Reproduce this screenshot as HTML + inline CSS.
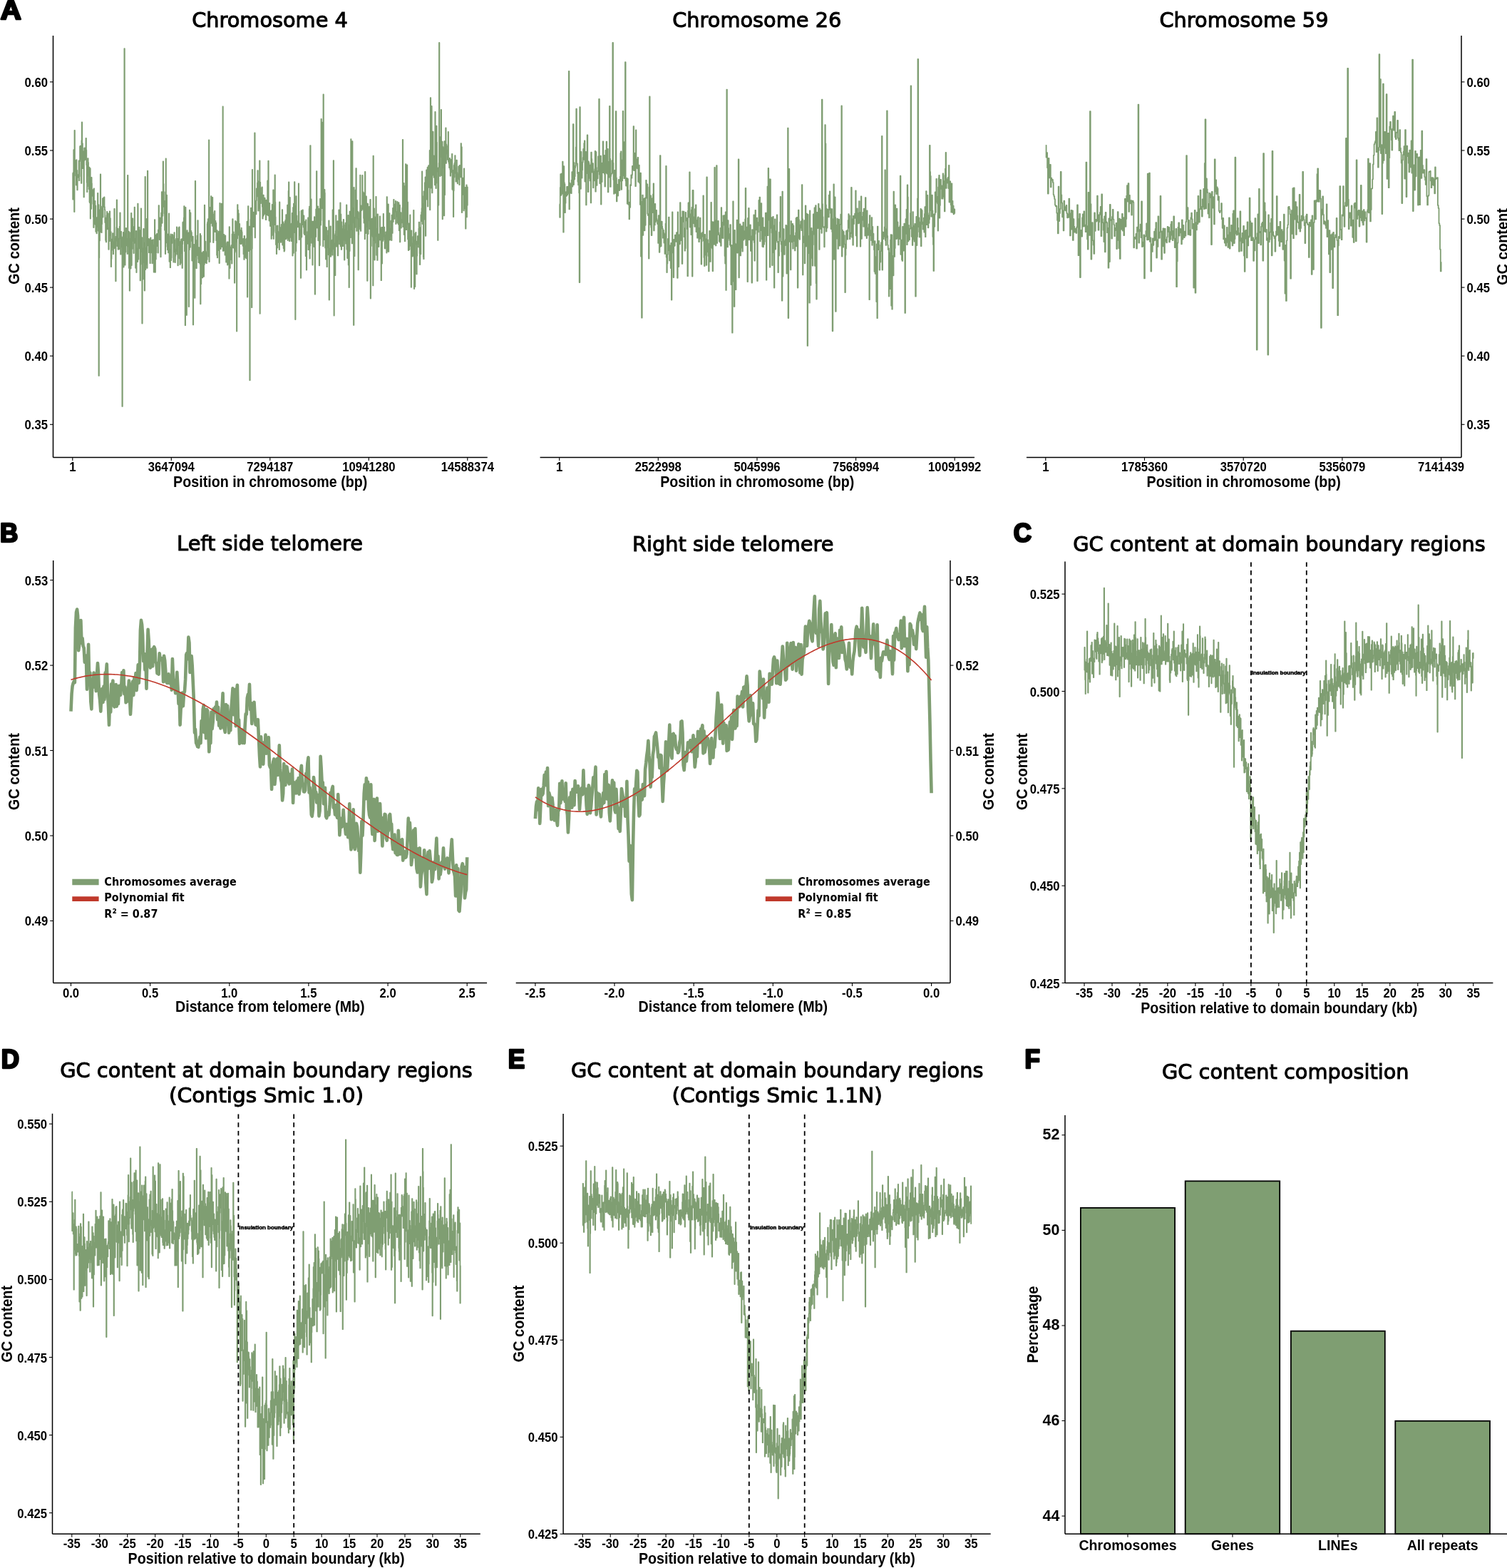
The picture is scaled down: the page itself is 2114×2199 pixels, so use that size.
<!DOCTYPE html>
<html><head><meta charset="utf-8"><style>
html,body{margin:0;padding:0;background:#fff;}
body{width:2114px;height:2199px;overflow:hidden;}
svg{display:block;}
.tk{font-family:"Liberation Sans",Arial,sans-serif;font-weight:bold;fill:#000;}
.lb{font-family:"Liberation Sans",Arial,sans-serif;font-weight:bold;fill:#000;}
.tt{font-family:"DejaVu Sans",Verdana,sans-serif;fill:#000;stroke:#000;stroke-width:1.0;}
.lg{font-family:"DejaVu Sans",Verdana,sans-serif;fill:#000;font-weight:bold;}
.pl{font-family:"Liberation Sans",Arial,sans-serif;font-weight:bold;fill:#000;stroke:#000;stroke-width:2.6;stroke-linejoin:round;}
.ib{font-family:"Liberation Sans",Arial,sans-serif;fill:#000;font-weight:bold;stroke:#000;stroke-width:0.5;}
</style></head><body>
<svg width="2114" height="2199" viewBox="0 0 2114 2199">
<rect width="2114" height="2199" fill="#fff"/>
<polyline points="101.8,242.5 102.2,242.5 102.2,279.7 102.6,279.7 102.6,268.9 102.9,268.9 102.9,247.1 103.3,247.1 103.3,210.1 103.7,210.1 103.7,244.3 104.1,244.3 104.1,297.1 104.5,297.1 104.5,182.8 104.9,182.8 104.9,233.6 105.2,233.6 105.2,224.9 105.6,224.9 105.6,240.4 106.0,240.4 106.0,232.2 106.4,232.2 106.4,246.6 106.8,246.6 106.8,259.6 107.2,259.6 107.2,224.1 107.5,224.1 107.5,240.4 107.9,240.4 107.9,238.8 108.3,238.8 108.3,266.4 108.7,266.4 108.7,249.3 109.1,249.3 109.1,245.1 109.4,245.1 109.4,247.9 109.8,247.9 109.8,246.2 110.2,246.2 110.2,247.1 110.6,247.1 110.6,225.3 111.0,225.3 111.0,253.2 111.4,253.2 111.4,247.5 111.7,247.5 111.7,226.3 112.1,226.3 112.1,205.6 112.5,205.6 112.5,204.6 112.9,204.6 112.9,222.8 113.3,222.8 113.3,221.1 113.7,221.1 113.7,211.3 114.0,211.3 114.0,256.9 114.4,256.9 114.4,197.1 114.8,197.1 114.8,171.5 115.2,171.5 115.2,207.0 115.6,207.0 115.6,201.1 115.9,201.1 115.9,236.0 116.3,236.0 116.3,213.7 116.7,213.7 116.7,215.5 117.1,215.5 117.1,212.4 117.5,212.4 117.5,276.4 117.9,276.4 117.9,226.0 118.2,226.0 118.2,207.7 118.6,207.7 118.6,207.3 119.0,207.3 119.0,224.0 119.4,224.0 119.4,223.3 119.8,223.3 119.8,220.1 120.2,220.1 120.2,210.4 120.5,210.4 120.5,194.0 120.9,194.0 120.9,210.4 121.3,210.4 121.3,231.3 121.7,231.3 121.7,256.1 122.1,256.1 122.1,269.2 122.4,269.2 122.4,261.6 122.8,261.6 122.8,246.5 123.2,246.5 123.2,222.2 123.6,222.2 123.6,227.8 124.0,227.8 124.0,241.4 124.4,241.4 124.4,244.3 124.7,244.3 124.7,265.2 125.1,265.2 125.1,234.7 125.5,234.7 125.5,283.2 125.9,283.2 125.9,284.3 126.3,284.3 126.3,236.2 126.7,236.2 126.7,306.5 127.0,306.5 127.0,258.9 127.4,258.9 127.4,274.5 127.8,274.5 127.8,292.8 128.2,292.8 128.2,248.9 128.6,248.9 128.6,257.2 128.9,257.2 128.9,267.8 129.3,267.8 129.3,274.2 129.7,274.2 129.7,266.1 130.1,266.1 130.1,275.6 130.5,275.6 130.5,286.1 130.9,286.1 130.9,304.6 131.2,304.6 131.2,319.1 131.6,319.1 131.6,264.5 132.0,264.5 132.0,286.6 132.4,286.6 132.4,313.6 132.8,313.6 132.8,283.1 133.2,283.1 133.2,282.0 133.5,282.0 133.5,314.8 133.9,314.8 133.9,288.4 134.3,288.4 134.3,324.8 134.7,324.8 134.7,305.1 135.1,305.1 135.1,318.1 135.4,318.1 135.4,327.3 135.8,327.3 135.8,311.3 136.2,311.3 136.2,304.9 136.6,304.9 136.6,317.9 137.0,317.9 137.0,271.0 137.4,271.0 137.4,297.7 137.7,297.7 137.7,323.7 138.1,323.7 138.1,287.2 138.5,287.2 138.5,526.9 138.9,526.9 138.9,361.5 139.3,361.5 139.3,294.3 139.7,294.3 139.7,337.4 140.0,337.4 140.0,309.4 140.4,309.4 140.4,325.1 140.8,325.1 140.8,244.4 141.2,244.4 141.2,296.4 141.6,296.4 141.6,291.9 141.9,291.9 141.9,313.5 142.3,313.5 142.3,326.2 142.7,326.2 142.7,314.2 143.1,314.2 143.1,289.5 143.5,289.5 143.5,299.0 143.9,299.0 143.9,278.3 144.2,278.3 144.2,304.6 144.6,304.6 144.6,288.4 145.0,288.4 145.0,277.3 145.4,277.3 145.4,290.2 145.8,290.2 145.8,279.0 146.2,279.0 146.2,276.4 146.5,276.4 146.5,290.2 146.9,290.2 146.9,294.2 147.3,294.2 147.3,312.1 147.7,312.1 147.7,305.3 148.1,305.3 148.1,337.0 148.4,337.0 148.4,337.7 148.8,337.7 148.8,339.4 149.2,339.4 149.2,315.9 149.6,315.9 149.6,302.2 150.0,302.2 150.0,296.8 150.4,296.8 150.4,304.5 150.7,304.5 150.7,321.4 151.1,321.4 151.1,311.2 151.5,311.2 151.5,299.4 151.9,299.4 151.9,319.8 152.3,319.8 152.3,349.8 152.7,349.8 152.7,334.1 153.0,334.1 153.0,324.6 153.4,324.6 153.4,338.2 153.8,338.2 153.8,296.3 154.2,296.3 154.2,326.9 154.6,326.9 154.6,306.1 154.9,306.1 154.9,330.1 155.3,330.1 155.3,325.1 155.7,325.1 155.7,374.0 156.1,374.0 156.1,363.0 156.5,363.0 156.5,342.5 156.9,342.5 156.9,345.8 157.2,345.8 157.2,335.5 157.6,335.5 157.6,346.6 158.0,346.6 158.0,327.1 158.4,327.1 158.4,351.0 158.8,351.0 158.8,356.3 159.1,356.3 159.1,339.3 159.5,339.3 159.5,342.4 159.9,342.4 159.9,348.4 160.3,348.4 160.3,292.9 160.7,292.9 160.7,335.0 161.1,335.0 161.1,347.0 161.4,347.0 161.4,342.7 161.8,342.7 161.8,339.3 162.2,339.3 162.2,394.3 162.6,394.3 162.6,331.6 163.0,331.6 163.0,337.6 163.4,337.6 163.4,318.7 163.7,318.7 163.7,280.3 164.1,280.3 164.1,327.2 164.5,327.2 164.5,345.2 164.9,345.2 164.9,337.5 165.3,337.5 165.3,320.6 165.6,320.6 165.6,349.8 166.0,349.8 166.0,346.5 166.4,346.5 166.4,349.0 166.8,349.0 166.8,349.4 167.2,349.4 167.2,334.4 167.6,334.4 167.6,317.7 167.9,317.7 167.9,319.5 168.3,319.5 168.3,298.5 168.7,298.5 168.7,326.6 169.1,326.6 169.1,356.7 169.5,356.7 169.5,334.2 169.9,334.2 169.9,324.8 170.2,324.8 170.2,346.4 170.6,346.4 170.6,332.8 171.0,332.8 171.0,344.6 171.4,344.6 171.4,569.9 171.8,569.9 171.8,345.5 172.1,345.5 172.1,336.6 172.5,336.6 172.5,331.5 172.9,331.5 172.9,325.9 173.3,325.9 173.3,374.5 173.7,374.5 173.7,359.4 174.1,359.4 174.1,333.5 174.4,333.5 174.4,68.2 174.8,68.2 174.8,351.1 175.2,351.1 175.2,371.7 175.6,371.7 175.6,343.9 176.0,343.9 176.0,353.6 176.4,353.6 176.4,327.3 176.7,327.3 176.7,319.8 177.1,319.8 177.1,344.3 177.5,344.3 177.5,334.7 177.9,334.7 177.9,338.2 178.3,338.2 178.3,341.1 178.6,341.1 178.6,356.1 179.0,356.1 179.0,245.8 179.4,245.8 179.4,330.0 179.8,330.0 179.8,345.5 180.2,345.5 180.2,341.1 180.6,341.1 180.6,324.6 180.9,324.6 180.9,375.9 181.3,375.9 181.3,326.0 181.7,326.0 181.7,407.7 182.1,407.7 182.1,352.3 182.5,352.3 182.5,350.8 182.9,350.8 182.9,335.0 183.2,335.0 183.2,376.6 183.6,376.6 183.6,326.0 184.0,326.0 184.0,298.9 184.4,298.9 184.4,372.0 184.8,372.0 184.8,342.0 185.1,342.0 185.1,348.9 185.5,348.9 185.5,334.5 185.9,334.5 185.9,306.4 186.3,306.4 186.3,319.1 186.7,319.1 186.7,328.5 187.1,328.5 187.1,338.6 187.4,338.6 187.4,355.0 187.8,355.0 187.8,317.8 188.2,317.8 188.2,330.7 188.6,330.7 188.6,290.6 189.0,290.6 189.0,340.8 189.4,340.8 189.4,334.4 189.7,334.4 189.7,341.0 190.1,341.0 190.1,375.8 190.5,375.8 190.5,349.9 190.9,349.9 190.9,324.0 191.3,324.0 191.3,382.1 191.6,382.1 191.6,348.3 192.0,348.3 192.0,362.7 192.4,362.7 192.4,348.1 192.8,348.1 192.8,367.1 193.2,367.1 193.2,285.7 193.6,285.7 193.6,332.6 193.9,332.6 193.9,363.7 194.3,363.7 194.3,326.7 194.7,326.7 194.7,335.8 195.1,335.8 195.1,318.7 195.5,318.7 195.5,348.3 195.9,348.3 195.9,333.0 196.2,333.0 196.2,323.1 196.6,323.1 196.6,393.4 197.0,393.4 197.0,370.7 197.4,370.7 197.4,324.5 197.8,324.5 197.8,292.4 198.1,292.4 198.1,341.3 198.5,341.3 198.5,353.0 198.9,353.0 198.9,333.2 199.3,333.2 199.3,453.5 199.7,453.5 199.7,348.1 200.1,348.1 200.1,355.3 200.4,355.3 200.4,391.5 200.8,391.5 200.8,368.1 201.2,368.1 201.2,321.0 201.6,321.0 201.6,340.5 202.0,340.5 202.0,340.5 202.4,340.5 202.4,351.2 202.7,351.2 202.7,407.6 203.1,407.6 203.1,340.7 203.5,340.7 203.5,248.0 203.9,248.0 203.9,378.0 204.3,378.0 204.3,369.7 204.6,369.7 204.6,354.4 205.0,354.4 205.0,370.5 205.4,370.5 205.4,347.3 205.8,347.3 205.8,306.8 206.2,306.8 206.2,375.9 206.6,375.9 206.6,342.5 206.9,342.5 206.9,239.6 207.3,239.6 207.3,343.5 207.7,343.5 207.7,344.3 208.1,344.3 208.1,343.2 208.5,343.2 208.5,334.8 208.9,334.8 208.9,354.2 209.2,354.2 209.2,338.2 209.6,338.2 209.6,336.2 210.0,336.2 210.0,350.9 210.4,350.9 210.4,369.2 210.8,369.2 210.8,341.2 211.1,341.2 211.1,333.3 211.5,333.3 211.5,354.4 211.9,354.4 211.9,341.6 212.3,341.6 212.3,351.5 212.7,351.5 212.7,338.5 213.1,338.5 213.1,336.8 213.4,336.8 213.4,369.3 213.8,369.3 213.8,348.0 214.2,348.0 214.2,357.9 214.6,357.9 214.6,336.1 215.0,336.1 215.0,347.0 215.4,347.0 215.4,364.8 215.7,364.8 215.7,381.7 216.1,381.7 216.1,343.5 216.5,343.5 216.5,358.0 216.9,358.0 216.9,308.1 217.3,308.1 217.3,336.2 217.6,336.2 217.6,381.8 218.0,381.8 218.0,329.9 218.4,329.9 218.4,363.5 218.8,363.5 218.8,354.6 219.2,354.6 219.2,330.3 219.6,330.3 219.6,328.4 219.9,328.4 219.9,327.8 220.3,327.8 220.3,345.2 220.7,345.2 220.7,339.7 221.1,339.7 221.1,336.9 221.5,336.9 221.5,354.5 221.9,354.5 221.9,322.3 222.2,322.3 222.2,324.1 222.6,324.1 222.6,288.1 223.0,288.1 223.0,304.9 223.4,304.9 223.4,324.7 223.8,324.7 223.8,336.0 224.1,336.0 224.1,333.8 224.5,333.8 224.5,305.6 224.9,305.6 224.9,314.0 225.3,314.0 225.3,360.3 225.7,360.3 225.7,317.3 226.1,317.3 226.1,298.3 226.4,298.3 226.4,303.3 226.8,303.3 226.8,269.1 227.2,269.1 227.2,312.8 227.6,312.8 227.6,301.4 228.0,301.4 228.0,302.8 228.4,302.8 228.4,288.7 228.7,288.7 228.7,226.4 229.1,226.4 229.1,258.0 229.5,258.0 229.5,268.9 229.9,268.9 229.9,289.9 230.3,289.9 230.3,281.7 230.6,281.7 230.6,299.4 231.0,299.4 231.0,322.8 231.4,322.8 231.4,302.6 231.8,302.6 231.8,356.1 232.2,356.1 232.2,269.2 232.6,269.2 232.6,222.4 232.9,222.4 232.9,323.4 233.3,323.4 233.3,340.3 233.7,340.3 233.7,273.6 234.1,273.6 234.1,332.5 234.5,332.5 234.5,346.1 234.9,346.1 234.9,350.3 235.2,350.3 235.2,334.8 235.6,334.8 235.6,328.5 236.0,328.5 236.0,354.3 236.4,354.3 236.4,330.9 236.8,330.9 236.8,299.4 237.1,299.4 237.1,330.8 237.5,330.8 237.5,366.8 237.9,366.8 237.9,349.7 238.3,349.7 238.3,350.6 238.7,350.6 238.7,375.2 239.1,375.2 239.1,351.5 239.4,351.5 239.4,328.3 239.8,328.3 239.8,365.2 240.2,365.2 240.2,361.4 240.6,361.4 240.6,334.0 241.0,334.0 241.0,341.0 241.4,341.0 241.4,332.4 241.7,332.4 241.7,329.0 242.1,329.0 242.1,329.8 242.5,329.8 242.5,333.7 242.9,333.7 242.9,332.9 243.3,332.9 243.3,367.7 243.6,367.7 243.6,337.3 244.0,337.3 244.0,340.1 244.4,340.1 244.4,326.2 244.8,326.2 244.8,336.5 245.2,336.5 245.2,353.6 245.6,353.6 245.6,368.1 245.9,368.1 245.9,359.0 246.3,359.0 246.3,349.3 246.7,349.3 246.7,352.0 247.1,352.0 247.1,334.6 247.5,334.6 247.5,343.9 247.9,343.9 247.9,318.5 248.2,318.5 248.2,356.6 248.6,356.6 248.6,351.3 249.0,351.3 249.0,334.9 249.4,334.9 249.4,372.3 249.8,372.3 249.8,338.3 250.1,338.3 250.1,344.1 250.5,344.1 250.5,319.4 250.9,319.4 250.9,344.0 251.3,344.0 251.3,318.3 251.7,318.3 251.7,362.6 252.1,362.6 252.1,353.7 252.4,353.7 252.4,371.0 252.8,371.0 252.8,339.2 253.2,339.2 253.2,369.1 253.6,369.1 253.6,349.5 254.0,349.5 254.0,335.9 254.4,335.9 254.4,349.4 254.7,349.4 254.7,335.1 255.1,335.1 255.1,355.0 255.5,355.0 255.5,375.9 255.9,375.9 255.9,342.3 256.3,342.3 256.3,312.0 256.6,312.0 256.6,319.4 257.0,319.4 257.0,337.1 257.4,337.1 257.4,310.6 257.8,310.6 257.8,305.4 258.2,305.4 258.2,289.1 258.6,289.1 258.6,337.6 258.9,337.6 258.9,352.3 259.3,352.3 259.3,325.8 259.7,325.8 259.7,456.2 260.1,456.2 260.1,290.9 260.5,290.9 260.5,335.6 260.9,335.6 260.9,325.5 261.2,325.5 261.2,329.0 261.6,329.0 261.6,441.9 262.0,441.9 262.0,329.0 262.4,329.0 262.4,323.2 262.8,323.2 262.8,327.3 263.1,327.3 263.1,341.6 263.5,341.6 263.5,327.1 263.9,327.1 263.9,328.7 264.3,328.7 264.3,326.5 264.7,326.5 264.7,430.0 265.1,430.0 265.1,336.2 265.4,336.2 265.4,350.2 265.8,350.2 265.8,294.7 266.2,294.7 266.2,340.8 266.6,340.8 266.6,346.8 267.0,346.8 267.0,298.3 267.4,298.3 267.4,331.3 267.7,331.3 267.7,323.6 268.1,323.6 268.1,332.3 268.5,332.3 268.5,326.0 268.9,326.0 268.9,338.2 269.3,338.2 269.3,365.5 269.6,365.5 269.6,341.4 270.0,341.4 270.0,342.5 270.4,342.5 270.4,331.6 270.8,331.6 270.8,455.4 271.2,455.4 271.2,350.7 271.6,350.7 271.6,354.9 271.9,354.9 271.9,342.9 272.3,342.9 272.3,343.8 272.7,343.8 272.7,376.1 273.1,376.1 273.1,417.8 273.5,417.8 273.5,361.0 273.8,361.0 273.8,253.8 274.2,253.8 274.2,354.6 274.6,354.6 274.6,346.4 275.0,346.4 275.0,354.3 275.4,354.3 275.4,376.2 275.8,376.2 275.8,336.8 276.1,336.8 276.1,351.5 276.5,351.5 276.5,330.5 276.9,330.5 276.9,358.0 277.3,358.0 277.3,309.1 277.7,309.1 277.7,357.7 278.1,357.7 278.1,363.2 278.4,363.2 278.4,368.2 278.8,368.2 278.8,347.1 279.2,347.1 279.2,352.9 279.6,352.9 279.6,362.8 280.0,362.8 280.0,357.5 280.3,357.5 280.3,369.8 280.7,369.8 280.7,328.0 281.1,328.0 281.1,426.3 281.5,426.3 281.5,330.3 281.9,330.3 281.9,398.2 282.3,398.2 282.3,358.8 282.6,358.8 282.6,364.8 283.0,364.8 283.0,354.5 283.4,354.5 283.4,363.1 283.8,363.1 283.8,389.4 284.2,389.4 284.2,369.2 284.6,369.2 284.6,378.7 284.9,378.7 284.9,353.0 285.3,353.0 285.3,381.6 285.7,381.6 285.7,387.8 286.1,387.8 286.1,363.5 286.5,363.5 286.5,370.9 286.8,370.9 286.8,287.7 287.2,287.7 287.2,349.0 287.6,349.0 287.6,368.4 288.0,368.4 288.0,338.6 288.4,338.6 288.4,352.7 288.8,352.7 288.8,365.9 289.1,365.9 289.1,354.8 289.5,354.8 289.5,369.2 289.9,369.2 289.9,361.2 290.3,361.2 290.3,363.9 290.7,363.9 290.7,313.9 291.1,313.9 291.1,311.3 291.4,311.3 291.4,349.6 291.8,349.6 291.8,307.2 292.2,307.2 292.2,340.9 292.6,340.9 292.6,359.8 293.0,359.8 293.0,196.3 293.3,196.3 293.3,367.1 293.7,367.1 293.7,332.6 294.1,332.6 294.1,290.9 294.5,290.9 294.5,339.4 294.9,339.4 294.9,306.4 295.3,306.4 295.3,300.0 295.6,300.0 295.6,313.0 296.0,313.0 296.0,275.1 296.4,275.1 296.4,285.9 296.8,285.9 296.8,307.5 297.2,307.5 297.2,283.6 297.6,283.6 297.6,316.8 297.9,316.8 297.9,276.9 298.3,276.9 298.3,297.3 298.7,297.3 298.7,300.1 299.1,300.1 299.1,340.1 299.5,340.1 299.5,337.3 299.8,337.3 299.8,307.6 300.2,307.6 300.2,321.8 300.6,321.8 300.6,312.9 301.0,312.9 301.0,296.0 301.4,296.0 301.4,325.0 301.8,325.0 301.8,310.7 302.1,310.7 302.1,310.0 302.5,310.0 302.5,313.5 302.9,313.5 302.9,312.7 303.3,312.7 303.3,337.2 303.7,337.2 303.7,333.8 304.1,333.8 304.1,357.7 304.4,357.7 304.4,323.2 304.8,323.2 304.8,361.3 305.2,361.3 305.2,343.0 305.6,343.0 305.6,344.4 306.0,344.4 306.0,351.1 306.3,351.1 306.3,328.0 306.7,328.0 306.7,324.7 307.1,324.7 307.1,339.0 307.5,339.0 307.5,369.0 307.9,369.0 307.9,344.6 308.3,344.6 308.3,284.9 308.6,284.9 308.6,341.7 309.0,341.7 309.0,324.5 309.4,324.5 309.4,349.1 309.8,349.1 309.8,336.9 310.2,336.9 310.2,345.1 310.6,345.1 310.6,285.6 310.9,285.6 310.9,346.1 311.3,346.1 311.3,337.0 311.7,337.0 311.7,330.0 312.1,330.0 312.1,315.9 312.5,315.9 312.5,149.4 312.8,149.4 312.8,351.9 313.2,351.9 313.2,329.4 313.6,329.4 313.6,346.8 314.0,346.8 314.0,328.8 314.4,328.8 314.4,341.0 314.8,341.0 314.8,351.6 315.1,351.6 315.1,342.6 315.5,342.6 315.5,357.7 315.9,357.7 315.9,330.5 316.3,330.5 316.3,352.8 316.7,352.8 316.7,345.4 317.1,345.4 317.1,367.7 317.4,367.7 317.4,350.5 317.8,350.5 317.8,365.0 318.2,365.0 318.2,341.0 318.6,341.0 318.6,339.5 319.0,339.5 319.0,371.5 319.3,371.5 319.3,343.4 319.7,343.4 319.7,339.4 320.1,339.4 320.1,370.3 320.5,370.3 320.5,354.0 320.9,354.0 320.9,367.1 321.3,367.1 321.3,390.7 321.6,390.7 321.6,318.2 322.0,318.2 322.0,344.1 322.4,344.1 322.4,375.9 322.8,375.9 322.8,355.0 323.2,355.0 323.2,346.6 323.6,346.6 323.6,351.5 323.9,351.5 323.9,358.6 324.3,358.6 324.3,364.2 324.7,364.2 324.7,343.7 325.1,343.7 325.1,369.5 325.5,369.5 325.5,328.5 325.8,328.5 325.8,334.4 326.2,334.4 326.2,307.2 326.6,307.2 326.6,345.0 327.0,345.0 327.0,347.3 327.4,347.3 327.4,325.4 327.8,325.4 327.8,338.8 328.1,338.8 328.1,347.8 328.5,347.8 328.5,328.9 328.9,328.9 328.9,396.7 329.3,396.7 329.3,354.2 329.7,354.2 329.7,352.4 330.1,352.4 330.1,310.0 330.4,310.0 330.4,327.7 330.8,327.7 330.8,315.2 331.2,315.2 331.2,339.3 331.6,339.3 331.6,312.1 332.0,312.1 332.0,464.6 332.3,464.6 332.3,310.7 332.7,310.7 332.7,334.4 333.1,334.4 333.1,287.1 333.5,287.1 333.5,323.1 333.9,323.1 333.9,294.6 334.3,294.6 334.3,329.5 334.6,329.5 334.6,299.3 335.0,299.3 335.0,317.8 335.4,317.8 335.4,360.4 335.8,360.4 335.8,313.9 336.2,313.9 336.2,329.6 336.6,329.6 336.6,323.2 336.9,323.2 336.9,341.0 337.3,341.0 337.3,322.9 337.7,322.9 337.7,342.2 338.1,342.2 338.1,328.3 338.5,328.3 338.5,319.7 338.8,319.7 338.8,323.6 339.2,323.6 339.2,325.7 339.6,325.7 339.6,341.3 340.0,341.3 340.0,340.7 340.4,340.7 340.4,344.0 340.8,344.0 340.8,344.9 341.1,344.9 341.1,334.8 341.5,334.8 341.5,356.2 341.9,356.2 341.9,353.2 342.3,353.2 342.3,363.9 342.7,363.9 342.7,331.0 343.1,331.0 343.1,344.9 343.4,344.9 343.4,360.9 343.8,360.9 343.8,358.2 344.2,358.2 344.2,354.2 344.6,354.2 344.6,349.4 345.0,349.4 345.0,335.3 345.3,335.3 345.3,362.3 345.7,362.3 345.7,334.3 346.1,334.3 346.1,344.2 346.5,344.2 346.5,310.6 346.9,310.6 346.9,416.6 347.3,416.6 347.3,321.7 347.6,321.7 347.6,334.7 348.0,334.7 348.0,289.1 348.4,289.1 348.4,352.2 348.8,352.2 348.8,329.4 349.2,329.4 349.2,338.1 349.6,338.1 349.6,327.3 349.9,327.3 349.9,317.6 350.3,317.6 350.3,533.3 350.7,533.3 350.7,350.8 351.1,350.8 351.1,329.6 351.5,329.6 351.5,307.7 351.8,307.7 351.8,291.6 352.2,291.6 352.2,319.2 352.6,319.2 352.6,312.6 353.0,312.6 353.0,431.2 353.4,431.2 353.4,348.8 353.8,348.8 353.8,237.9 354.1,237.9 354.1,304.2 354.5,304.2 354.5,318.2 354.9,318.2 354.9,306.2 355.3,306.2 355.3,297.6 355.7,297.6 355.7,318.2 356.1,318.2 356.1,317.0 356.4,317.0 356.4,309.6 356.8,309.6 356.8,316.9 357.2,316.9 357.2,186.4 357.6,186.4 357.6,333.3 358.0,333.3 358.0,294.4 358.3,294.4 358.3,282.2 358.7,282.2 358.7,283.6 359.1,283.6 359.1,300.4 359.5,300.4 359.5,281.2 359.9,281.2 359.9,264.5 360.3,264.5 360.3,275.5 360.6,275.5 360.6,267.6 361.0,267.6 361.0,256.3 361.4,256.3 361.4,239.2 361.8,239.2 361.8,253.9 362.2,253.9 362.2,295.6 362.6,295.6 362.6,292.8 362.9,292.8 362.9,255.3 363.3,255.3 363.3,273.6 363.7,273.6 363.7,276.2 364.1,276.2 364.1,225.4 364.5,225.4 364.5,439.8 364.8,439.8 364.8,255.6 365.2,255.6 365.2,263.2 365.6,263.2 365.6,285.2 366.0,285.2 366.0,279.6 366.4,279.6 366.4,271.0 366.8,271.0 366.8,278.8 367.1,278.8 367.1,270.7 367.5,270.7 367.5,262.4 367.9,262.4 367.9,290.0 368.3,290.0 368.3,306.5 368.7,306.5 368.7,284.8 369.1,284.8 369.1,303.0 369.4,303.0 369.4,273.6 369.8,273.6 369.8,301.5 370.2,301.5 370.2,298.9 370.6,298.9 370.6,286.0 371.0,286.0 371.0,295.6 371.3,295.6 371.3,277.6 371.7,277.6 371.7,297.5 372.1,297.5 372.1,300.3 372.5,300.3 372.5,291.9 372.9,291.9 372.9,308.2 373.3,308.2 373.3,280.6 373.6,280.6 373.6,288.4 374.0,288.4 374.0,287.6 374.4,287.6 374.4,301.0 374.8,301.0 374.8,285.9 375.2,285.9 375.2,253.5 375.6,253.5 375.6,292.8 375.9,292.8 375.9,302.3 376.3,302.3 376.3,225.6 376.7,225.6 376.7,286.4 377.1,286.4 377.1,293.7 377.5,293.7 377.5,309.5 377.8,309.5 377.8,285.0 378.2,285.0 378.2,306.9 378.6,306.9 378.6,305.0 379.0,305.0 379.0,317.0 379.4,317.0 379.4,296.0 379.8,296.0 379.8,312.8 380.1,312.8 380.1,295.3 380.5,295.3 380.5,334.9 380.9,334.9 380.9,309.7 381.3,309.7 381.3,330.1 381.7,330.1 381.7,286.8 382.0,286.8 382.0,307.5 382.4,307.5 382.4,315.3 382.8,315.3 382.8,294.1 383.2,294.1 383.2,266.5 383.6,266.5 383.6,334.9 384.0,334.9 384.0,324.4 384.3,324.4 384.3,290.5 384.7,290.5 384.7,288.8 385.1,288.8 385.1,315.0 385.5,315.0 385.5,245.4 385.9,245.4 385.9,283.5 386.3,283.5 386.3,304.3 386.6,304.3 386.6,326.5 387.0,326.5 387.0,343.0 387.4,343.0 387.4,330.5 387.8,330.5 387.8,356.0 388.2,356.0 388.2,343.3 388.5,343.3 388.5,316.6 388.9,316.6 388.9,347.4 389.3,347.4 389.3,316.5 389.7,316.5 389.7,324.5 390.1,324.5 390.1,329.8 390.5,329.8 390.5,332.2 390.8,332.2 390.8,339.8 391.2,339.8 391.2,325.4 391.6,325.4 391.6,350.0 392.0,350.0 392.0,283.5 392.4,283.5 392.4,322.3 392.8,322.3 392.8,319.0 393.1,319.0 393.1,336.2 393.5,336.2 393.5,336.7 393.9,336.7 393.9,339.8 394.3,339.8 394.3,320.9 394.7,320.9 394.7,315.0 395.0,315.0 395.0,337.2 395.4,337.2 395.4,335.6 395.8,335.6 395.8,294.1 396.2,294.1 396.2,343.6 396.6,343.6 396.6,319.8 397.0,319.8 397.0,311.4 397.3,311.4 397.3,332.3 397.7,332.3 397.7,348.3 398.1,348.3 398.1,314.1 398.5,314.1 398.5,352.5 398.9,352.5 398.9,351.2 399.3,351.2 399.3,331.2 399.6,331.2 399.6,310.7 400.0,310.7 400.0,324.7 400.4,324.7 400.4,308.6 400.8,308.6 400.8,335.3 401.2,335.3 401.2,301.1 401.5,301.1 401.5,333.4 401.9,333.4 401.9,323.1 402.3,323.1 402.3,318.3 402.7,318.3 402.7,333.8 403.1,333.8 403.1,287.7 403.5,287.7 403.5,337.1 403.8,337.1 403.8,318.2 404.2,318.2 404.2,334.9 404.6,334.9 404.6,267.8 405.0,267.8 405.0,255.5 405.4,255.5 405.4,311.4 405.8,311.4 405.8,338.2 406.1,338.2 406.1,316.2 406.5,316.2 406.5,277.0 406.9,277.0 406.9,321.8 407.3,321.8 407.3,315.3 407.7,315.3 407.7,332.9 408.0,332.9 408.0,314.2 408.4,314.2 408.4,338.1 408.8,338.1 408.8,313.4 409.2,313.4 409.2,335.0 409.6,335.0 409.6,298.8 410.0,298.8 410.0,319.5 410.3,319.5 410.3,358.5 410.7,358.5 410.7,323.3 411.1,323.3 411.1,291.0 411.5,291.0 411.5,354.8 411.9,354.8 411.9,285.7 412.3,285.7 412.3,326.2 412.6,326.2 412.6,295.5 413.0,295.5 413.0,255.2 413.4,255.2 413.4,288.9 413.8,288.9 413.8,303.0 414.2,303.0 414.2,448.0 414.5,448.0 414.5,302.1 414.9,302.1 414.9,352.1 415.3,352.1 415.3,275.2 415.7,275.2 415.7,340.6 416.1,340.6 416.1,302.3 416.5,302.3 416.5,309.2 416.8,309.2 416.8,311.4 417.2,311.4 417.2,310.8 417.6,310.8 417.6,318.4 418.0,318.4 418.0,314.8 418.4,314.8 418.4,317.3 418.8,317.3 418.8,257.4 419.1,257.4 419.1,296.5 419.5,296.5 419.5,336.1 419.9,336.1 419.9,314.0 420.3,314.0 420.3,313.4 420.7,313.4 420.7,330.0 421.0,330.0 421.0,322.3 421.4,322.3 421.4,328.6 421.8,328.6 421.8,389.8 422.2,389.8 422.2,333.4 422.6,333.4 422.6,295.3 423.0,295.3 423.0,332.2 423.3,332.2 423.3,296.1 423.7,296.1 423.7,315.2 424.1,315.2 424.1,304.7 424.5,304.7 424.5,294.5 424.9,294.5 424.9,303.4 425.3,303.4 425.3,313.5 425.6,313.5 425.6,318.6 426.0,318.6 426.0,302.5 426.4,302.5 426.4,327.5 426.8,327.5 426.8,317.3 427.2,317.3 427.2,329.2 427.5,329.2 427.5,318.1 427.9,318.1 427.9,310.9 428.3,310.9 428.3,321.0 428.7,321.0 428.7,359.2 429.1,359.2 429.1,308.5 429.5,308.5 429.5,330.1 429.8,330.1 429.8,378.5 430.2,378.5 430.2,331.1 430.6,331.1 430.6,342.0 431.0,342.0 431.0,336.2 431.4,336.2 431.4,325.0 431.8,325.0 431.8,338.7 432.1,338.7 432.1,305.3 432.5,305.3 432.5,350.2 432.9,350.2 432.9,334.8 433.3,334.8 433.3,319.7 433.7,319.7 433.7,292.8 434.0,292.8 434.0,289.6 434.4,289.6 434.4,362.5 434.8,362.5 434.8,344.8 435.2,344.8 435.2,204.1 435.6,204.1 435.6,326.9 436.0,326.9 436.0,333.0 436.3,333.0 436.3,279.4 436.7,279.4 436.7,313.9 437.1,313.9 437.1,340.8 437.5,340.8 437.5,321.0 437.9,321.0 437.9,310.6 438.3,310.6 438.3,371.6 438.6,371.6 438.6,314.5 439.0,314.5 439.0,338.4 439.4,338.4 439.4,326.6 439.8,326.6 439.8,310.4 440.2,310.4 440.2,341.1 440.5,341.1 440.5,346.0 440.9,346.0 440.9,304.2 441.3,304.2 441.3,317.1 441.7,317.1 441.7,412.7 442.1,412.7 442.1,310.3 442.5,310.3 442.5,322.5 442.8,322.5 442.8,332.1 443.2,332.1 443.2,293.3 443.6,293.3 443.6,304.1 444.0,304.1 444.0,240.1 444.4,240.1 444.4,308.6 444.8,308.6 444.8,319.5 445.1,319.5 445.1,295.0 445.5,295.0 445.5,299.5 445.9,299.5 445.9,289.4 446.3,289.4 446.3,337.3 446.7,337.3 446.7,311.1 447.0,311.1 447.0,292.9 447.4,292.9 447.4,327.0 447.8,327.0 447.8,372.3 448.2,372.3 448.2,293.8 448.6,293.8 448.6,344.0 449.0,344.0 449.0,278.8 449.3,278.8 449.3,312.0 449.7,312.0 449.7,315.7 450.1,315.7 450.1,308.9 450.5,308.9 450.5,167.0 450.9,167.0 450.9,200.7 451.3,200.7 451.3,283.7 451.6,283.7 451.6,292.2 452.0,292.2 452.0,286.9 452.4,286.9 452.4,171.7 452.8,171.7 452.8,280.7 453.2,280.7 453.2,345.4 453.5,345.4 453.5,132.5 453.9,132.5 453.9,304.3 454.3,304.3 454.3,310.1 454.7,310.1 454.7,336.1 455.1,336.1 455.1,265.9 455.5,265.9 455.5,270.6 455.8,270.6 455.8,317.5 456.2,317.5 456.2,347.6 456.6,347.6 456.6,324.7 457.0,324.7 457.0,363.5 457.4,363.5 457.4,361.1 457.8,361.1 457.8,318.9 458.1,318.9 458.1,332.9 458.5,332.9 458.5,374.2 458.9,374.2 458.9,346.9 459.3,346.9 459.3,330.4 459.7,330.4 459.7,341.7 460.0,341.7 460.0,323.3 460.4,323.3 460.4,333.2 460.8,333.2 460.8,357.3 461.2,357.3 461.2,309.4 461.6,309.4 461.6,420.6 462.0,420.6 462.0,355.3 462.3,355.3 462.3,355.6 462.7,355.6 462.7,348.4 463.1,348.4 463.1,353.0 463.5,353.0 463.5,317.3 463.9,317.3 463.9,359.8 464.3,359.8 464.3,352.8 464.6,352.8 464.6,352.2 465.0,352.2 465.0,341.9 465.4,341.9 465.4,337.8 465.8,337.8 465.8,336.5 466.2,336.5 466.2,357.7 466.5,357.7 466.5,294.4 466.9,294.4 466.9,347.5 467.3,347.5 467.3,349.3 467.7,349.3 467.7,225.2 468.1,225.2 468.1,327.6 468.5,327.6 468.5,442.6 468.8,442.6 468.8,341.1 469.2,341.1 469.2,353.5 469.6,353.5 469.6,342.9 470.0,342.9 470.0,386.2 470.4,386.2 470.4,329.3 470.8,329.3 470.8,324.1 471.1,324.1 471.1,302.1 471.5,302.1 471.5,335.0 471.9,335.0 471.9,345.6 472.3,345.6 472.3,333.3 472.7,333.3 472.7,331.9 473.0,331.9 473.0,341.5 473.4,341.5 473.4,310.2 473.8,310.2 473.8,358.4 474.2,358.4 474.2,326.2 474.6,326.2 474.6,320.9 475.0,320.9 475.0,334.3 475.3,334.3 475.3,294.4 475.7,294.4 475.7,336.0 476.1,336.0 476.1,342.3 476.5,342.3 476.5,334.2 476.9,334.2 476.9,328.9 477.3,328.9 477.3,284.3 477.6,284.3 477.6,345.4 478.0,345.4 478.0,300.5 478.4,300.5 478.4,336.5 478.8,336.5 478.8,349.9 479.2,349.9 479.2,311.3 479.5,311.3 479.5,328.0 479.9,328.0 479.9,321.0 480.3,321.0 480.3,343.9 480.7,343.9 480.7,345.2 481.1,345.2 481.1,329.4 481.5,329.4 481.5,317.0 481.8,317.0 481.8,307.8 482.2,307.8 482.2,321.6 482.6,321.6 482.6,336.7 483.0,336.7 483.0,364.5 483.4,364.5 483.4,321.5 483.8,321.5 483.8,334.1 484.1,334.1 484.1,315.2 484.5,315.2 484.5,312.7 484.9,312.7 484.9,337.5 485.3,337.5 485.3,341.7 485.7,341.7 485.7,313.5 486.0,313.5 486.0,287.4 486.4,287.4 486.4,349.8 486.8,349.8 486.8,341.2 487.2,341.2 487.2,362.0 487.6,362.0 487.6,325.5 488.0,325.5 488.0,323.7 488.3,323.7 488.3,301.9 488.7,301.9 488.7,371.6 489.1,371.6 489.1,315.4 489.5,315.4 489.5,403.0 489.9,403.0 489.9,327.6 490.2,327.6 490.2,352.0 490.6,352.0 490.6,296.6 491.0,296.6 491.0,309.6 491.4,309.6 491.4,333.2 491.8,333.2 491.8,312.6 492.2,312.6 492.2,195.2 492.5,195.2 492.5,317.5 492.9,317.5 492.9,271.2 493.3,271.2 493.3,322.1 493.7,322.1 493.7,341.4 494.1,341.4 494.1,198.2 494.5,198.2 494.5,306.2 494.8,306.2 494.8,303.8 495.2,303.8 495.2,291.9 495.6,291.9 495.6,312.3 496.0,312.3 496.0,455.9 496.4,455.9 496.4,262.9 496.7,262.9 496.7,304.6 497.1,304.6 497.1,359.2 497.5,359.2 497.5,314.9 497.9,314.9 497.9,318.9 498.3,318.9 498.3,305.6 498.7,305.6 498.7,266.5 499.0,266.5 499.0,298.3 499.4,298.3 499.4,236.1 499.8,236.1 499.8,291.1 500.2,291.1 500.2,323.9 500.6,323.9 500.6,280.9 501.0,280.9 501.0,306.1 501.3,306.1 501.3,299.9 501.7,299.9 501.7,296.6 502.1,296.6 502.1,306.6 502.5,306.6 502.5,378.4 502.9,378.4 502.9,328.9 503.2,328.9 503.2,312.9 503.6,312.9 503.6,321.6 504.0,321.6 504.0,298.0 504.4,298.0 504.4,317.8 504.8,317.8 504.8,296.0 505.2,296.0 505.2,245.6 505.5,245.6 505.5,314.3 505.9,314.3 505.9,323.9 506.3,323.9 506.3,288.3 506.7,288.3 506.7,290.4 507.1,290.4 507.1,295.0 507.5,295.0 507.5,291.6 507.8,291.6 507.8,293.3 508.2,293.3 508.2,245.9 508.6,245.9 508.6,276.1 509.0,276.1 509.0,271.6 509.4,271.6 509.4,269.5 509.7,269.5 509.7,294.1 510.1,294.1 510.1,305.9 510.5,305.9 510.5,312.5 510.9,312.5 510.9,299.1 511.3,299.1 511.3,270.6 511.7,270.6 511.7,335.3 512.0,335.3 512.0,241.0 512.4,241.0 512.4,305.0 512.8,305.0 512.8,327.2 513.2,327.2 513.2,275.5 513.6,275.5 513.6,275.5 514.0,275.5 514.0,318.1 514.3,318.1 514.3,295.7 514.7,295.7 514.7,285.4 515.1,285.4 515.1,393.8 515.5,393.8 515.5,305.3 515.9,305.3 515.9,286.0 516.2,286.0 516.2,328.1 516.6,328.1 516.6,294.4 517.0,294.4 517.0,301.7 517.4,301.7 517.4,301.4 517.8,301.4 517.8,289.9 518.2,289.9 518.2,309.4 518.5,309.4 518.5,321.2 518.9,321.2 518.9,309.9 519.3,309.9 519.3,279.8 519.7,279.8 519.7,418.5 520.1,418.5 520.1,318.4 520.5,318.4 520.5,345.1 520.8,345.1 520.8,318.5 521.2,318.5 521.2,306.8 521.6,306.8 521.6,329.5 522.0,329.5 522.0,306.6 522.4,306.6 522.4,314.0 522.7,314.0 522.7,331.9 523.1,331.9 523.1,400.4 523.5,400.4 523.5,218.6 523.9,218.6 523.9,295.2 524.3,295.2 524.3,337.1 524.7,337.1 524.7,292.3 525.0,292.3 525.0,303.9 525.4,303.9 525.4,364.6 525.8,364.6 525.8,340.7 526.2,340.7 526.2,330.9 526.6,330.9 526.6,304.7 527.0,304.7 527.0,324.6 527.3,324.6 527.3,275.8 527.7,275.8 527.7,327.5 528.1,327.5 528.1,357.8 528.5,357.8 528.5,321.0 528.9,321.0 528.9,338.4 529.2,338.4 529.2,364.9 529.6,364.9 529.6,300.3 530.0,300.3 530.0,334.9 530.4,334.9 530.4,337.8 530.8,337.8 530.8,330.4 531.2,330.4 531.2,346.1 531.5,346.1 531.5,328.4 531.9,328.4 531.9,336.5 532.3,336.5 532.3,330.6 532.7,330.6 532.7,303.4 533.1,303.4 533.1,318.6 533.5,318.6 533.5,321.4 533.8,321.4 533.8,336.7 534.2,336.7 534.2,323.6 534.6,323.6 534.6,393.2 535.0,393.2 535.0,336.4 535.4,336.4 535.4,318.8 535.7,318.8 535.7,369.5 536.1,369.5 536.1,331.9 536.5,331.9 536.5,318.8 536.9,318.8 536.9,337.9 537.3,337.9 537.3,331.6 537.7,331.6 537.7,299.8 538.0,299.8 538.0,327.6 538.4,327.6 538.4,324.7 538.8,324.7 538.8,318.6 539.2,318.6 539.2,336.3 539.6,336.3 539.6,348.3 540.0,348.3 540.0,348.6 540.3,348.6 540.3,340.9 540.7,340.9 540.7,329.7 541.1,329.7 541.1,325.5 541.5,325.5 541.5,335.4 541.9,335.4 541.9,333.7 542.2,333.7 542.2,354.5 542.6,354.5 542.6,276.1 543.0,276.1 543.0,327.7 543.4,327.7 543.4,314.1 543.8,314.1 543.8,323.7 544.2,323.7 544.2,352.5 544.5,352.5 544.5,286.5 544.9,286.5 544.9,352.9 545.3,352.9 545.3,305.1 545.7,305.1 545.7,327.2 546.1,327.2 546.1,299.1 546.5,299.1 546.5,320.5 546.8,320.5 546.8,336.6 547.2,336.6 547.2,326.5 547.6,326.5 547.6,330.8 548.0,330.8 548.0,325.5 548.4,325.5 548.4,309.7 548.7,309.7 548.7,312.5 549.1,312.5 549.1,337.0 549.5,337.0 549.5,301.6 549.9,301.6 549.9,325.0 550.3,325.0 550.3,326.9 550.7,326.9 550.7,311.8 551.0,311.8 551.0,291.9 551.4,291.9 551.4,311.0 551.8,311.0 551.8,300.0 552.2,300.0 552.2,279.9 552.6,279.9 552.6,293.7 553.0,293.7 553.0,306.9 553.3,306.9 553.3,296.2 553.7,296.2 553.7,286.6 554.1,286.6 554.1,291.8 554.5,291.8 554.5,296.9 554.9,296.9 554.9,282.0 555.2,282.0 555.2,314.0 555.6,314.0 555.6,296.7 556.0,296.7 556.0,298.2 556.4,298.2 556.4,299.1 556.8,299.1 556.8,303.5 557.2,303.5 557.2,283.0 557.5,283.0 557.5,312.6 557.9,312.6 557.9,295.1 558.3,295.1 558.3,299.9 558.7,299.9 558.7,314.5 559.1,314.5 559.1,284.1 559.5,284.1 559.5,310.5 559.8,310.5 559.8,323.3 560.2,323.3 560.2,302.6 560.6,302.6 560.6,287.7 561.0,287.7 561.0,339.4 561.4,339.4 561.4,307.7 561.7,307.7 561.7,300.6 562.1,300.6 562.1,298.2 562.5,298.2 562.5,319.6 562.9,319.6 562.9,308.0 563.3,308.0 563.3,311.4 563.7,311.4 563.7,308.9 564.0,308.9 564.0,312.3 564.4,312.3 564.4,291.4 564.8,291.4 564.8,195.9 565.2,195.9 565.2,318.2 565.6,318.2 565.6,269.5 566.0,269.5 566.0,290.7 566.3,290.7 566.3,256.9 566.7,256.9 566.7,329.0 567.1,329.0 567.1,304.4 567.5,304.4 567.5,328.6 567.9,328.6 567.9,338.3 568.2,338.3 568.2,261.0 568.6,261.0 568.6,274.8 569.0,274.8 569.0,230.1 569.4,230.1 569.4,310.7 569.8,310.7 569.8,322.2 570.2,322.2 570.2,315.1 570.5,315.1 570.5,310.3 570.9,310.3 570.9,231.5 571.3,231.5 571.3,304.6 571.7,304.6 571.7,283.4 572.1,283.4 572.1,335.6 572.5,335.6 572.5,333.7 572.8,333.7 572.8,351.1 573.2,351.1 573.2,313.4 573.6,313.4 573.6,337.3 574.0,337.3 574.0,350.0 574.4,350.0 574.4,323.5 574.7,323.5 574.7,319.9 575.1,319.9 575.1,301.5 575.5,301.5 575.5,335.3 575.9,335.3 575.9,344.9 576.3,344.9 576.3,330.1 576.7,330.1 576.7,402.8 577.0,402.8 577.0,323.3 577.4,323.3 577.4,343.2 577.8,343.2 577.8,350.8 578.2,350.8 578.2,341.5 578.6,341.5 578.6,359.5 579.0,359.5 579.0,358.6 579.3,358.6 579.3,331.9 579.7,331.9 579.7,338.3 580.1,338.3 580.1,294.8 580.5,294.8 580.5,341.1 580.9,341.1 580.9,405.0 581.2,405.0 581.2,337.1 581.6,337.1 581.6,342.2 582.0,342.2 582.0,402.0 582.4,402.0 582.4,327.5 582.8,327.5 582.8,342.7 583.2,342.7 583.2,325.8 583.5,325.8 583.5,340.4 583.9,340.4 583.9,338.4 584.3,338.4 584.3,384.4 584.7,384.4 584.7,358.7 585.1,358.7 585.1,339.2 585.5,339.2 585.5,342.1 585.8,342.1 585.8,331.2 586.2,331.2 586.2,331.7 586.6,331.7 586.6,335.2 587.0,335.2 587.0,346.6 587.4,346.6 587.4,320.4 587.7,320.4 587.7,311.6 588.1,311.6 588.1,336.9 588.5,336.9 588.5,355.6 588.9,355.6 588.9,371.0 589.3,371.0 589.3,319.1 589.7,319.1 589.7,321.4 590.0,321.4 590.0,356.4 590.4,356.4 590.4,301.3 590.8,301.3 590.8,310.2 591.2,310.2 591.2,297.4 591.6,297.4 591.6,292.1 592.0,292.1 592.0,240.5 592.3,240.5 592.3,275.0 592.7,275.0 592.7,314.1 593.1,314.1 593.1,285.9 593.5,285.9 593.5,304.8 593.9,304.8 593.9,360.8 594.2,360.8 594.2,363.2 594.6,363.2 594.6,268.5 595.0,268.5 595.0,273.2 595.4,273.2 595.4,307.5 595.8,307.5 595.8,256.1 596.2,256.1 596.2,279.6 596.5,279.6 596.5,248.3 596.9,248.3 596.9,330.8 597.3,330.8 597.3,264.1 597.7,264.1 597.7,274.1 598.1,274.1 598.1,238.5 598.5,238.5 598.5,279.7 598.8,279.7 598.8,263.2 599.2,263.2 599.2,238.4 599.6,238.4 599.6,234.7 600.0,234.7 600.0,289.6 600.4,289.6 600.4,247.9 600.7,247.9 600.7,247.6 601.1,247.6 601.1,232.2 601.5,232.2 601.5,243.4 601.9,243.4 601.9,262.9 602.3,262.9 602.3,243.9 602.7,243.9 602.7,211.0 603.0,211.0 603.0,294.3 603.4,294.3 603.4,237.6 603.8,237.6 603.8,137.1 604.2,137.1 604.2,236.2 604.6,236.2 604.6,255.7 604.9,255.7 604.9,263.5 605.3,263.5 605.3,148.8 605.7,148.8 605.7,242.1 606.1,242.1 606.1,270.4 606.5,270.4 606.5,223.1 606.9,223.1 606.9,229.9 607.2,229.9 607.2,184.7 607.6,184.7 607.6,226.2 608.0,226.2 608.0,245.5 608.4,245.5 608.4,218.3 608.8,218.3 608.8,248.8 609.2,248.8 609.2,234.3 609.5,234.3 609.5,221.3 609.9,221.3 609.9,259.4 610.3,259.4 610.3,156.9 610.7,156.9 610.7,239.0 611.1,239.0 611.1,242.6 611.4,242.6 611.4,264.0 611.8,264.0 611.8,257.0 612.2,257.0 612.2,176.7 612.6,176.7 612.6,199.6 613.0,199.6 613.0,240.5 613.4,240.5 613.4,235.8 613.7,235.8 613.7,235.9 614.1,235.9 614.1,336.9 614.5,336.9 614.5,243.1 614.9,243.1 614.9,287.7 615.3,287.7 615.3,234.6 615.7,234.6 615.7,228.7 616.0,228.7 616.0,60.0 616.4,60.0 616.4,220.3 616.8,220.3 616.8,208.8 617.2,208.8 617.2,247.1 617.6,247.1 617.6,192.2 617.9,192.2 617.9,219.2 618.3,219.2 618.3,220.2 618.7,220.2 618.7,153.9 619.1,153.9 619.1,204.6 619.5,204.6 619.5,246.1 619.9,246.1 619.9,201.1 620.2,201.1 620.2,198.7 620.6,198.7 620.6,307.3 621.0,307.3 621.0,205.8 621.4,205.8 621.4,207.8 621.8,207.8 621.8,217.6 622.2,217.6 622.2,224.6 622.5,224.6 622.5,235.4 622.9,235.4 622.9,302.4 623.3,302.4 623.3,198.2 623.7,198.2 623.7,273.3 624.1,273.3 624.1,210.5 624.4,210.5 624.4,228.9 624.8,228.9 624.8,215.7 625.2,215.7 625.2,179.5 625.6,179.5 625.6,228.9 626.0,228.9 626.0,202.5 626.4,202.5 626.4,213.2 626.7,213.2 626.7,210.4 627.1,210.4 627.1,215.5 627.5,215.5 627.5,210.9 627.9,210.9 627.9,223.9 628.3,223.9 628.3,204.6 628.7,204.6 628.7,185.0 629.0,185.0 629.0,226.7 629.4,226.7 629.4,227.5 629.8,227.5 629.8,229.7 630.2,229.7 630.2,235.2 630.6,235.2 630.6,223.7 630.9,223.7 630.9,221.9 631.3,221.9 631.3,237.7 631.7,237.7 631.7,246.7 632.1,246.7 632.1,236.4 632.5,236.4 632.5,241.5 632.9,241.5 632.9,224.0 633.2,224.0 633.2,237.3 633.6,237.3 633.6,227.4 634.0,227.4 634.0,215.9 634.4,215.9 634.4,265.7 634.8,265.7 634.8,238.6 635.2,238.6 635.2,258.8 635.5,258.8 635.5,266.9 635.9,266.9 635.9,304.1 636.3,304.1 636.3,267.4 636.7,267.4 636.7,232.0 637.1,232.0 637.1,248.6 637.4,248.6 637.4,229.7 637.8,229.7 637.8,228.1 638.2,228.1 638.2,218.1 638.6,218.1 638.6,242.8 639.0,242.8 639.0,239.3 639.4,239.3 639.4,254.7 639.7,254.7 639.7,244.6 640.1,244.6 640.1,235.5 640.5,235.5 640.5,224.6 640.9,224.6 640.9,242.0 641.3,242.0 641.3,254.7 641.7,254.7 641.7,257.4 642.0,257.4 642.0,249.7 642.4,249.7 642.4,244.3 642.8,244.3 642.8,249.8 643.2,249.8 643.2,233.4 643.6,233.4 643.6,245.4 643.9,245.4 643.9,251.9 644.3,251.9 644.3,259.2 644.7,259.2 644.7,231.9 645.1,231.9 645.1,248.3 645.5,248.3 645.5,248.2 645.9,248.2 645.9,231.9 646.2,231.9 646.2,233.8 646.6,233.8 646.6,201.2 647.0,201.2 647.0,248.7 647.4,248.7 647.4,206.1 647.8,206.1 647.8,298.1 648.2,298.1 648.2,259.8 648.5,259.8 648.5,269.8 648.9,269.8 648.9,249.6 649.3,249.6 649.3,272.9 649.7,272.9 649.7,255.8 650.1,255.8 650.1,267.4 650.4,267.4 650.4,295.4 650.8,295.4 650.8,236.5 651.2,236.5 651.2,289.3 651.6,289.3 651.6,277.3 652.0,277.3 652.0,268.7 652.4,268.7 652.4,292.7 652.7,292.7 652.7,262.8 653.1,262.8 653.1,320.7 653.5,320.7 653.5,275.8 653.9,275.8 653.9,279.3 654.3,279.3 654.3,259.3 654.7,259.3 654.7,304.4 655.0,304.4 655.0,272.8 655.4,272.8 655.4,262.3 655.8,262.3 655.8,288.4" fill="none" stroke="#7f9e72" stroke-width="1.8" stroke-linejoin="round" />
<line x1="74.5" y1="50" x2="74.5" y2="641.4" stroke="#000" stroke-width="1.5" />
<line x1="70" y1="595.3" x2="74.5" y2="595.3" stroke="#000" stroke-width="1.1" />
<text transform="translate(67,602.3) scale(0.908,1)" font-size="18.4" class="tk" text-anchor="end" >0.35</text>
<line x1="70" y1="499.2" x2="74.5" y2="499.2" stroke="#000" stroke-width="1.1" />
<text transform="translate(67,506.2) scale(0.908,1)" font-size="18.4" class="tk" text-anchor="end" >0.40</text>
<line x1="70" y1="403.1" x2="74.5" y2="403.1" stroke="#000" stroke-width="1.1" />
<text transform="translate(67,410.1) scale(0.908,1)" font-size="18.4" class="tk" text-anchor="end" >0.45</text>
<line x1="70" y1="307.1" x2="74.5" y2="307.1" stroke="#000" stroke-width="1.1" />
<text transform="translate(67,314.1) scale(0.908,1)" font-size="18.4" class="tk" text-anchor="end" >0.50</text>
<line x1="70" y1="211" x2="74.5" y2="211" stroke="#000" stroke-width="1.1" />
<text transform="translate(67,218) scale(0.908,1)" font-size="18.4" class="tk" text-anchor="end" >0.55</text>
<line x1="70" y1="114.9" x2="74.5" y2="114.9" stroke="#000" stroke-width="1.1" />
<text transform="translate(67,121.9) scale(0.908,1)" font-size="18.4" class="tk" text-anchor="end" >0.60</text>
<line x1="74.5" y1="641.4" x2="683.8" y2="641.4" stroke="#000" stroke-width="1.5" />
<line x1="101.8" y1="641.4" x2="101.8" y2="645.9" stroke="#000" stroke-width="1.1" />
<text transform="translate(101.8,661.4) scale(0.908,1)" font-size="18.4" class="tk" text-anchor="middle" >1</text>
<line x1="240.3" y1="641.4" x2="240.3" y2="645.9" stroke="#000" stroke-width="1.1" />
<text transform="translate(240.3,661.4) scale(0.908,1)" font-size="18.4" class="tk" text-anchor="middle" >3647094</text>
<line x1="378.8" y1="641.4" x2="378.8" y2="645.9" stroke="#000" stroke-width="1.1" />
<text transform="translate(378.8,661.4) scale(0.908,1)" font-size="18.4" class="tk" text-anchor="middle" >7294187</text>
<line x1="517.3" y1="641.4" x2="517.3" y2="645.9" stroke="#000" stroke-width="1.1" />
<text transform="translate(517.3,661.4) scale(0.908,1)" font-size="18.4" class="tk" text-anchor="middle" >10941280</text>
<line x1="655.8" y1="641.4" x2="655.8" y2="645.9" stroke="#000" stroke-width="1.1" />
<text transform="translate(655.8,661.4) scale(0.908,1)" font-size="18.4" class="tk" text-anchor="middle" >14588374</text>
<text x="378.5" y="38.2" font-size="28.8" class="tt" text-anchor="middle" >Chromosome 4</text>
<text transform="translate(379.2,682.9) scale(0.895,1)" font-size="22" class="lb" text-anchor="middle" >Position in chromosome (bp)</text>
<text x="0" y="0" font-size="23" class="lb" text-anchor="middle" transform="translate(27.1,345) rotate(-90) scale(0.872,1)">GC content</text>
<polyline points="784.7,286.2 785.2,286.2 785.2,304.8 785.8,304.8 785.8,262.9 786.3,262.9 786.3,244.1 786.9,244.1 786.9,273.9 787.4,273.9 787.4,272.5 788.0,272.5 788.0,243.3 788.5,243.3 788.5,271.1 789.1,271.1 789.1,226.7 789.6,226.7 789.6,255.6 790.2,255.6 790.2,325.7 790.7,325.7 790.7,233.2 791.3,233.2 791.3,255.8 791.8,255.8 791.8,258.2 792.4,258.2 792.4,298.2 792.9,298.2 792.9,284.7 793.5,284.7 793.5,272.7 794.0,272.7 794.0,269.2 794.6,269.2 794.6,274.8 795.1,274.8 795.1,261.8 795.7,261.8 795.7,273.2 796.2,273.2 796.2,271.2 796.8,271.2 796.8,261.6 797.3,261.6 797.3,264.3 797.9,264.3 797.9,99.9 798.4,99.9 798.4,293.4 799.0,293.4 799.0,256.6 799.5,256.6 799.5,257.9 800.1,257.9 800.1,265.8 800.6,265.8 800.6,270.4 801.2,270.4 801.2,271.2 801.7,271.2 801.7,252.6 802.3,252.6 802.3,241.1 802.8,241.1 802.8,261.5 803.4,261.5 803.4,250.2 803.9,250.2 803.9,174.2 804.5,174.2 804.5,259.1 805.0,259.1 805.0,228.1 805.6,228.1 805.6,251.5 806.1,251.5 806.1,247.3 806.7,247.3 806.7,235.3 807.2,235.3 807.2,232.7 807.8,232.7 807.8,206.4 808.3,206.4 808.3,152.7 808.9,152.7 808.9,229.7 809.4,229.7 809.4,229.5 810.0,229.5 810.0,243.3 810.5,243.3 810.5,254.7 811.1,254.7 811.1,259.4 811.6,259.4 811.6,241.8 812.2,241.8 812.2,270.6 812.7,270.6 812.7,396.1 813.3,396.1 813.3,150.2 813.8,150.2 813.8,224.9 814.4,224.9 814.4,264.8 814.9,264.8 814.9,212.9 815.5,212.9 815.5,245.7 816.0,245.7 816.0,249.7 816.6,249.7 816.6,238.6 817.1,238.6 817.1,227.4 817.7,227.4 817.7,220.9 818.2,220.9 818.2,209.0 818.8,209.0 818.8,223.8 819.3,223.8 819.3,200.9 819.9,200.9 819.9,197.5 820.4,197.5 820.4,254.6 821.0,254.6 821.0,230.0 821.5,230.0 821.5,213.0 822.1,213.0 822.1,287.4 822.6,287.4 822.6,235.4 823.2,235.4 823.2,243.0 823.7,243.0 823.7,189.5 824.3,189.5 824.3,234.7 824.8,234.7 824.8,269.1 825.4,269.1 825.4,226.4 825.9,226.4 825.9,228.4 826.5,228.4 826.5,237.0 827.0,237.0 827.0,250.0 827.6,250.0 827.6,253.4 828.1,253.4 828.1,231.4 828.7,231.4 828.7,284.4 829.2,284.4 829.2,213.7 829.8,213.7 829.8,222.9 830.3,222.9 830.3,241.7 830.9,241.7 830.9,235.1 831.4,235.1 831.4,229.2 832.0,229.2 832.0,263.3 832.5,263.3 832.5,250.9 833.1,250.9 833.1,253.4 833.6,253.4 833.6,240.1 834.2,240.1 834.2,237.1 834.7,237.1 834.7,211.8 835.3,211.8 835.3,268.7 835.8,268.7 835.8,213.1 836.4,213.1 836.4,234.9 836.9,234.9 836.9,259.9 837.5,259.9 837.5,239.8 838.0,239.8 838.0,250.3 838.6,250.3 838.6,240.5 839.1,240.5 839.1,219.5 839.7,219.5 839.7,231.2 840.2,231.2 840.2,139.0 840.8,139.0 840.8,244.8 841.3,244.8 841.3,257.3 841.9,257.3 841.9,249.2 842.4,249.2 842.4,218.7 843.0,218.7 843.0,286.6 843.5,286.6 843.5,230.2 844.1,230.2 844.1,255.0 844.6,255.0 844.6,228.7 845.2,228.7 845.2,242.0 845.7,242.0 845.7,198.5 846.3,198.5 846.3,236.5 846.8,236.5 846.8,242.0 847.3,242.0 847.3,218.0 847.9,218.0 847.9,244.1 848.4,244.1 848.4,261.5 849.0,261.5 849.0,236.0 849.5,236.0 849.5,211.0 850.1,211.0 850.1,242.0 850.6,242.0 850.6,198.7 851.2,198.7 851.2,243.6 851.7,243.6 851.7,222.3 852.3,222.3 852.3,208.9 852.8,208.9 852.8,269.4 853.4,269.4 853.4,232.0 853.9,232.0 853.9,226.8 854.5,226.8 854.5,248.5 855.0,248.5 855.0,148.8 855.6,148.8 855.6,222.6 856.1,222.6 856.1,261.9 856.7,261.9 856.7,247.0 857.2,247.0 857.2,244.3 857.8,244.3 857.8,243.2 858.3,243.2 858.3,225.1 858.9,225.1 858.9,242.6 859.4,242.6 859.4,60.0 860.0,60.0 860.0,228.6 860.5,228.6 860.5,252.0 861.1,252.0 861.1,271.8 861.6,271.8 861.6,254.5 862.2,254.5 862.2,238.8 862.7,238.8 862.7,250.0 863.3,250.0 863.3,270.8 863.8,270.8 863.8,156.1 864.4,156.1 864.4,249.4 864.9,249.4 864.9,282.4 865.5,282.4 865.5,258.6 866.0,258.6 866.0,266.0 866.6,266.0 866.6,274.5 867.1,274.5 867.1,264.5 867.7,264.5 867.7,252.0 868.2,252.0 868.2,262.6 868.8,262.6 868.8,267.1 869.3,267.1 869.3,253.9 869.9,253.9 869.9,247.6 870.4,247.6 870.4,214.8 871.0,214.8 871.0,212.4 871.5,212.4 871.5,265.8 872.1,265.8 872.1,248.4 872.6,248.4 872.6,253.3 873.2,253.3 873.2,224.2 873.7,224.2 873.7,156.0 874.3,156.0 874.3,246.3 874.8,246.3 874.8,227.7 875.4,227.7 875.4,250.2 875.9,250.2 875.9,199.2 876.5,199.2 876.5,227.7 877.0,227.7 877.0,87.2 877.6,87.2 877.6,253.4 878.1,253.4 878.1,260.6 878.7,260.6 878.7,255.3 879.2,255.3 879.2,249.8 879.8,249.8 879.8,285.7 880.3,285.7 880.3,250.8 880.9,250.8 880.9,266.7 881.4,266.7 881.4,286.9 882.0,286.9 882.0,284.6 882.5,284.6 882.5,307.3 883.1,307.3 883.1,283.6 883.6,283.6 883.6,290.8 884.2,290.8 884.2,259.1 884.7,259.1 884.7,260.1 885.3,260.1 885.3,245.5 885.8,245.5 885.8,249.7 886.4,249.7 886.4,245.5 886.9,245.5 886.9,232.9 887.5,232.9 887.5,233.9 888.0,233.9 888.0,237.5 888.6,237.5 888.6,177.1 889.1,177.1 889.1,239.2 889.7,239.2 889.7,229.5 890.2,229.5 890.2,216.4 890.8,216.4 890.8,214.6 891.3,214.6 891.3,261.2 891.9,261.2 891.9,182.4 892.4,182.4 892.4,235.5 893.0,235.5 893.0,226.4 893.5,226.4 893.5,223.6 894.1,223.6 894.1,236.4 894.6,236.4 894.6,220.8 895.2,220.8 895.2,254.9 895.7,254.9 895.7,246.5 896.3,246.5 896.3,231.6 896.8,231.6 896.8,256.5 897.4,256.5 897.4,255.7 897.9,255.7 897.9,286.9 898.5,286.9 898.5,242.7 899.0,242.7 899.0,359.5 899.6,359.5 899.6,283.0 900.1,283.0 900.1,445.7 900.7,445.7 900.7,293.2 901.2,293.2 901.2,273.6 901.8,273.6 901.8,329.8 902.3,329.8 902.3,293.6 902.9,293.6 902.9,279.0 903.4,279.0 903.4,287.7 904.0,287.7 904.0,323.3 904.5,323.3 904.5,277.6 905.1,277.6 905.1,315.8 905.6,315.8 905.6,277.8 906.2,277.8 906.2,252.8 906.7,252.8 906.7,257.8 907.3,257.8 907.3,277.6 907.8,277.6 907.8,258.4 908.3,258.4 908.3,299.8 908.9,299.8 908.9,302.1 909.4,302.1 909.4,300.4 910.0,300.4 910.0,362.6 910.5,362.6 910.5,262.5 911.1,262.5 911.1,135.4 911.6,135.4 911.6,286.5 912.2,286.5 912.2,315.0 912.7,315.0 912.7,274.4 913.3,274.4 913.3,318.7 913.8,318.7 913.8,330.1 914.4,330.1 914.4,278.4 914.9,278.4 914.9,291.7 915.5,291.7 915.5,298.0 916.0,298.0 916.0,272.5 916.6,272.5 916.6,257.5 917.1,257.5 917.1,323.4 917.7,323.4 917.7,311.1 918.2,311.1 918.2,315.4 918.8,315.4 918.8,285.8 919.3,285.8 919.3,311.3 919.9,311.3 919.9,308.7 920.4,308.7 920.4,294.8 921.0,294.8 921.0,306.9 921.5,306.9 921.5,309.2 922.1,309.2 922.1,314.1 922.6,314.1 922.6,313.7 923.2,313.7 923.2,340.9 923.7,340.9 923.7,302.1 924.3,302.1 924.3,332.6 924.8,332.6 924.8,353.8 925.4,353.8 925.4,346.5 925.9,346.5 925.9,218.1 926.5,218.1 926.5,338.5 927.0,338.5 927.0,345.3 927.6,345.3 927.6,311.0 928.1,311.0 928.1,310.7 928.7,310.7 928.7,317.7 929.2,317.7 929.2,320.6 929.8,320.6 929.8,333.7 930.3,333.7 930.3,322.9 930.9,322.9 930.9,326.6 931.4,326.6 931.4,340.6 932.0,340.6 932.0,328.3 932.5,328.3 932.5,355.9 933.1,355.9 933.1,354.5 933.6,354.5 933.6,313.6 934.2,313.6 934.2,232.8 934.7,232.8 934.7,360.8 935.3,360.8 935.3,382.0 935.8,382.0 935.8,369.6 936.4,369.6 936.4,356.8 936.9,356.8 936.9,334.9 937.5,334.9 937.5,335.8 938.0,335.8 938.0,304.6 938.6,304.6 938.6,351.3 939.1,351.3 939.1,365.4 939.7,365.4 939.7,344.4 940.2,344.4 940.2,344.7 940.8,344.7 940.8,376.0 941.3,376.0 941.3,340.9 941.9,340.9 941.9,420.5 942.4,420.5 942.4,354.5 943.0,354.5 943.0,297.4 943.5,297.4 943.5,354.4 944.1,354.4 944.1,350.0 944.6,350.0 944.6,389.1 945.2,389.1 945.2,335.9 945.7,335.9 945.7,344.9 946.3,344.9 946.3,344.7 946.8,344.7 946.8,329.6 947.4,329.6 947.4,337.8 947.9,337.8 947.9,330.3 948.5,330.3 948.5,338.9 949.0,338.9 949.0,326.2 949.6,326.2 949.6,334.5 950.1,334.5 950.1,389.8 950.7,389.8 950.7,297.3 951.2,297.3 951.2,348.8 951.8,348.8 951.8,374.1 952.3,374.1 952.3,329.5 952.9,329.5 952.9,342.0 953.4,342.0 953.4,342.3 954.0,342.3 954.0,284.2 954.5,284.2 954.5,337.2 955.1,337.2 955.1,310.1 955.6,310.1 955.6,318.8 956.2,318.8 956.2,304.9 956.7,304.9 956.7,369.9 957.3,369.9 957.3,296.3 957.8,296.3 957.8,310.9 958.4,310.9 958.4,303.4 958.9,303.4 958.9,296.7 959.5,296.7 959.5,332.2 960.0,332.2 960.0,320.5 960.6,320.5 960.6,351.7 961.1,351.7 961.1,348.3 961.7,348.3 961.7,297.8 962.2,297.8 962.2,305.3 962.8,305.3 962.8,309.3 963.3,309.3 963.3,306.1 963.9,306.1 963.9,321.3 964.4,321.3 964.4,387.2 965.0,387.2 965.0,295.7 965.5,295.7 965.5,284.4 966.1,284.4 966.1,304.6 966.6,304.6 966.6,284.0 967.2,284.0 967.2,241.3 967.7,241.3 967.7,318.7 968.3,318.7 968.3,301.7 968.8,301.7 968.8,300.3 969.4,300.3 969.4,329.2 969.9,329.2 969.9,294.4 970.4,294.4 970.4,290.8 971.0,290.8 971.0,387.6 971.5,387.6 971.5,267.0 972.1,267.0 972.1,266.9 972.6,266.9 972.6,304.2 973.2,304.2 973.2,313.3 973.7,313.3 973.7,310.6 974.3,310.6 974.3,317.8 974.8,317.8 974.8,293.2 975.4,293.2 975.4,312.6 975.9,312.6 975.9,287.5 976.5,287.5 976.5,325.1 977.0,325.1 977.0,322.3 977.6,322.3 977.6,309.0 978.1,309.0 978.1,333.7 978.7,333.7 978.7,305.4 979.2,305.4 979.2,304.5 979.8,304.5 979.8,319.7 980.3,319.7 980.3,339.2 980.9,339.2 980.9,325.5 981.4,325.5 981.4,334.7 982.0,334.7 982.0,305.6 982.5,305.6 982.5,328.4 983.1,328.4 983.1,327.1 983.6,327.1 983.6,370.6 984.2,370.6 984.2,338.6 984.7,338.6 984.7,331.8 985.3,331.8 985.3,326.0 985.8,326.0 985.8,329.1 986.4,329.1 986.4,274.3 986.9,274.3 986.9,337.7 987.5,337.7 987.5,360.9 988.0,360.9 988.0,373.0 988.6,373.0 988.6,328.8 989.1,328.8 989.1,351.4 989.7,351.4 989.7,357.5 990.2,357.5 990.2,335.3 990.8,335.3 990.8,371.8 991.3,371.8 991.3,248.5 991.9,248.5 991.9,339.6 992.4,339.6 992.4,336.3 993.0,336.3 993.0,353.5 993.5,353.5 993.5,359.0 994.1,359.0 994.1,380.4 994.6,380.4 994.6,341.7 995.2,341.7 995.2,323.8 995.7,323.8 995.7,353.9 996.3,353.9 996.3,366.9 996.8,366.9 996.8,327.9 997.4,327.9 997.4,284.0 997.9,284.0 997.9,347.2 998.5,347.2 998.5,310.9 999.0,310.9 999.0,348.5 999.6,348.5 999.6,380.2 1000.1,380.2 1000.1,336.8 1000.7,336.8 1000.7,311.3 1001.2,311.3 1001.2,317.8 1001.8,317.8 1001.8,342.8 1002.3,342.8 1002.3,234.9 1002.9,234.9 1002.9,316.5 1003.4,316.5 1003.4,309.4 1004.0,309.4 1004.0,344.4 1004.5,344.4 1004.5,321.4 1005.1,321.4 1005.1,232.1 1005.6,232.1 1005.6,340.9 1006.2,340.9 1006.2,329.0 1006.7,329.0 1006.7,312.4 1007.3,312.4 1007.3,310.0 1007.8,310.0 1007.8,326.5 1008.4,326.5 1008.4,329.5 1008.9,329.5 1008.9,338.5 1009.5,338.5 1009.5,336.1 1010.0,336.1 1010.0,339.8 1010.6,339.8 1010.6,319.9 1011.1,319.9 1011.1,344.8 1011.7,344.8 1011.7,291.1 1012.2,291.1 1012.2,333.6 1012.8,333.6 1012.8,311.8 1013.3,311.8 1013.3,332.7 1013.9,332.7 1013.9,334.0 1014.4,334.0 1014.4,302.3 1015.0,302.3 1015.0,309.2 1015.5,309.2 1015.5,315.7 1016.1,315.7 1016.1,302.1 1016.6,302.1 1016.6,358.9 1017.2,358.9 1017.2,369.5 1017.7,369.5 1017.7,297.5 1018.3,297.5 1018.3,406.9 1018.8,406.9 1018.8,339.7 1019.4,339.7 1019.4,125.6 1019.9,125.6 1019.9,340.4 1020.5,340.4 1020.5,346.4 1021.0,346.4 1021.0,309.2 1021.6,309.2 1021.6,319.9 1022.1,319.9 1022.1,328.0 1022.7,328.0 1022.7,334.4 1023.2,334.4 1023.2,336.9 1023.8,336.9 1023.8,343.5 1024.3,343.5 1024.3,315.2 1024.9,315.2 1024.9,345.5 1025.4,345.5 1025.4,399.0 1026.0,399.0 1026.0,343.8 1026.5,343.8 1026.5,361.9 1027.1,361.9 1027.1,466.7 1027.6,466.7 1027.6,394.7 1028.2,394.7 1028.2,282.4 1028.7,282.4 1028.7,331.5 1029.3,331.5 1029.3,356.3 1029.8,356.3 1029.8,429.9 1030.4,429.9 1030.4,322.9 1030.9,322.9 1030.9,341.3 1031.4,341.3 1031.4,348.9 1032.0,348.9 1032.0,406.2 1032.5,406.2 1032.5,342.7 1033.1,342.7 1033.1,352.5 1033.6,352.5 1033.6,308.7 1034.2,308.7 1034.2,354.5 1034.7,354.5 1034.7,345.5 1035.3,345.5 1035.3,339.1 1035.8,339.1 1035.8,223.4 1036.4,223.4 1036.4,389.3 1036.9,389.3 1036.9,341.4 1037.5,341.4 1037.5,324.2 1038.0,324.2 1038.0,314.5 1038.6,314.5 1038.6,358.4 1039.1,358.4 1039.1,319.3 1039.7,319.3 1039.7,332.9 1040.2,332.9 1040.2,317.1 1040.8,317.1 1040.8,347.8 1041.3,347.8 1041.3,352.6 1041.9,352.6 1041.9,322.1 1042.4,322.1 1042.4,312.0 1043.0,312.0 1043.0,336.6 1043.5,336.6 1043.5,325.3 1044.1,325.3 1044.1,324.2 1044.6,324.2 1044.6,334.9 1045.2,334.9 1045.2,307.3 1045.7,307.3 1045.7,263.8 1046.3,263.8 1046.3,344.0 1046.8,344.0 1046.8,324.8 1047.4,324.8 1047.4,318.6 1047.9,318.6 1047.9,330.1 1048.5,330.1 1048.5,395.1 1049.0,395.1 1049.0,305.9 1049.6,305.9 1049.6,313.8 1050.1,313.8 1050.1,292.0 1050.7,292.0 1050.7,336.3 1051.2,336.3 1051.2,328.0 1051.8,328.0 1051.8,329.7 1052.3,329.7 1052.3,315.3 1052.9,315.3 1052.9,351.8 1053.4,351.8 1053.4,331.5 1054.0,331.5 1054.0,339.8 1054.5,339.8 1054.5,396.6 1055.1,396.6 1055.1,322.2 1055.6,322.2 1055.6,323.4 1056.2,323.4 1056.2,324.7 1056.7,324.7 1056.7,336.5 1057.3,336.5 1057.3,301.5 1057.8,301.5 1057.8,340.1 1058.4,340.1 1058.4,365.7 1058.9,365.7 1058.9,327.9 1059.5,327.9 1059.5,294.8 1060.0,294.8 1060.0,313.3 1060.6,313.3 1060.6,314.1 1061.1,314.1 1061.1,322.4 1061.7,322.4 1061.7,305.6 1062.2,305.6 1062.2,394.1 1062.8,394.1 1062.8,312.1 1063.3,312.1 1063.3,325.4 1063.9,325.4 1063.9,316.4 1064.4,316.4 1064.4,280.9 1065.0,280.9 1065.0,281.5 1065.5,281.5 1065.5,276.6 1066.1,276.6 1066.1,338.4 1066.6,338.4 1066.6,323.3 1067.2,323.3 1067.2,319.6 1067.7,319.6 1067.7,285.1 1068.3,285.1 1068.3,320.9 1068.8,320.9 1068.8,335.6 1069.4,335.6 1069.4,345.8 1069.9,345.8 1069.9,305.5 1070.5,305.5 1070.5,346.3 1071.0,346.3 1071.0,319.0 1071.6,319.0 1071.6,342.7 1072.1,342.7 1072.1,339.1 1072.7,339.1 1072.7,319.2 1073.2,319.2 1073.2,324.3 1073.8,324.3 1073.8,298.7 1074.3,298.7 1074.3,330.5 1074.9,330.5 1074.9,392.7 1075.4,392.7 1075.4,316.8 1076.0,316.8 1076.0,298.1 1076.5,298.1 1076.5,261.6 1077.1,261.6 1077.1,330.2 1077.6,330.2 1077.6,235.9 1078.2,235.9 1078.2,308.7 1078.7,308.7 1078.7,255.9 1079.3,255.9 1079.3,251.3 1079.8,251.3 1079.8,374.7 1080.4,374.7 1080.4,251.3 1080.9,251.3 1080.9,319.8 1081.5,319.8 1081.5,315.3 1082.0,315.3 1082.0,305.1 1082.6,305.1 1082.6,326.5 1083.1,326.5 1083.1,372.1 1083.7,372.1 1083.7,313.8 1084.2,313.8 1084.2,303.9 1084.8,303.9 1084.8,332.5 1085.3,332.5 1085.3,354.3 1085.9,354.3 1085.9,403.6 1086.4,403.6 1086.4,316.1 1087.0,316.1 1087.0,307.4 1087.5,307.4 1087.5,349.5 1088.1,349.5 1088.1,337.4 1088.6,337.4 1088.6,324.5 1089.2,324.5 1089.2,334.9 1089.7,334.9 1089.7,301.5 1090.3,301.5 1090.3,339.7 1090.8,339.7 1090.8,339.0 1091.4,339.0 1091.4,382.0 1091.9,382.0 1091.9,350.1 1092.5,350.1 1092.5,358.6 1093.0,358.6 1093.0,325.7 1093.5,325.7 1093.5,332.5 1094.1,332.5 1094.1,311.5 1094.6,311.5 1094.6,276.0 1095.2,276.0 1095.2,338.6 1095.7,338.6 1095.7,342.7 1096.3,342.7 1096.3,353.0 1096.8,353.0 1096.8,421.7 1097.4,421.7 1097.4,268.7 1097.9,268.7 1097.9,387.6 1098.5,387.6 1098.5,326.3 1099.0,326.3 1099.0,321.1 1099.6,321.1 1099.6,337.8 1100.1,337.8 1100.1,356.8 1100.7,356.8 1100.7,340.7 1101.2,340.7 1101.2,344.1 1101.8,344.1 1101.8,335.8 1102.3,335.8 1102.3,315.8 1102.9,315.8 1102.9,323.7 1103.4,323.7 1103.4,383.5 1104.0,383.5 1104.0,316.8 1104.5,316.8 1104.5,376.6 1105.1,376.6 1105.1,179.6 1105.6,179.6 1105.6,446.1 1106.2,446.1 1106.2,334.6 1106.7,334.6 1106.7,236.8 1107.3,236.8 1107.3,338.9 1107.8,338.9 1107.8,330.2 1108.4,330.2 1108.4,336.6 1108.9,336.6 1108.9,378.3 1109.5,378.3 1109.5,310.1 1110.0,310.1 1110.0,325.4 1110.6,325.4 1110.6,334.1 1111.1,334.1 1111.1,339.4 1111.7,339.4 1111.7,314.0 1112.2,314.0 1112.2,348.7 1112.8,348.7 1112.8,316.4 1113.3,316.4 1113.3,338.0 1113.9,338.0 1113.9,330.7 1114.4,330.7 1114.4,335.8 1115.0,335.8 1115.0,351.4 1115.5,351.4 1115.5,340.7 1116.1,340.7 1116.1,326.3 1116.6,326.3 1116.6,306.0 1117.2,306.0 1117.2,345.4 1117.7,345.4 1117.7,305.0 1118.3,305.0 1118.3,343.0 1118.8,343.0 1118.8,403.6 1119.4,403.6 1119.4,308.0 1119.9,308.0 1119.9,294.6 1120.5,294.6 1120.5,308.2 1121.0,308.2 1121.0,334.0 1121.6,334.0 1121.6,335.8 1122.1,335.8 1122.1,319.7 1122.7,319.7 1122.7,315.1 1123.2,315.1 1123.2,310.4 1123.8,310.4 1123.8,317.3 1124.3,317.3 1124.3,323.0 1124.9,323.0 1124.9,259.2 1125.4,259.2 1125.4,307.1 1126.0,307.1 1126.0,385.4 1126.5,385.4 1126.5,331.6 1127.1,331.6 1127.1,340.0 1127.6,340.0 1127.6,331.9 1128.2,331.9 1128.2,309.2 1128.7,309.2 1128.7,369.3 1129.3,369.3 1129.3,315.3 1129.8,315.3 1129.8,288.5 1130.4,288.5 1130.4,345.5 1130.9,345.5 1130.9,322.9 1131.5,322.9 1131.5,299.7 1132.0,299.7 1132.0,316.6 1132.6,316.6 1132.6,484.9 1133.1,484.9 1133.1,300.9 1133.7,300.9 1133.7,355.1 1134.2,355.1 1134.2,345.3 1134.8,345.3 1134.8,331.2 1135.3,331.2 1135.3,424.7 1135.9,424.7 1135.9,295.3 1136.4,295.3 1136.4,358.3 1137.0,358.3 1137.0,399.9 1137.5,399.9 1137.5,362.1 1138.1,362.1 1138.1,320.0 1138.6,320.0 1138.6,324.4 1139.2,324.4 1139.2,325.9 1139.7,325.9 1139.7,372.6 1140.3,372.6 1140.3,343.2 1140.8,343.2 1140.8,300.4 1141.4,300.4 1141.4,328.5 1141.9,328.5 1141.9,310.8 1142.5,310.8 1142.5,291.3 1143.0,291.3 1143.0,372.8 1143.6,372.8 1143.6,314.7 1144.1,314.7 1144.1,288.2 1144.7,288.2 1144.7,397.3 1145.2,397.3 1145.2,419.6 1145.8,419.6 1145.8,297.8 1146.3,297.8 1146.3,319.3 1146.9,319.3 1146.9,320.0 1147.4,320.0 1147.4,312.3 1148.0,312.3 1148.0,285.8 1148.5,285.8 1148.5,316.1 1149.1,316.1 1149.1,349.9 1149.6,349.9 1149.6,292.5 1150.2,292.5 1150.2,299.4 1150.7,299.4 1150.7,298.7 1151.3,298.7 1151.3,321.1 1151.8,321.1 1151.8,294.6 1152.4,294.6 1152.4,326.8 1152.9,326.8 1152.9,139.6 1153.5,139.6 1153.5,286.2 1154.0,286.2 1154.0,304.2 1154.5,304.2 1154.5,317.8 1155.1,317.8 1155.1,319.0 1155.6,319.0 1155.6,318.1 1156.2,318.1 1156.2,346.3 1156.7,346.3 1156.7,318.8 1157.3,318.8 1157.3,175.2 1157.8,175.2 1157.8,201.3 1158.4,201.3 1158.4,287.3 1158.9,287.3 1158.9,324.6 1159.5,324.6 1159.5,293.0 1160.0,293.0 1160.0,319.6 1160.6,319.6 1160.6,302.5 1161.1,302.5 1161.1,301.1 1161.7,301.1 1161.7,293.7 1162.2,293.7 1162.2,304.4 1162.8,304.4 1162.8,273.6 1163.3,273.6 1163.3,294.2 1163.9,294.2 1163.9,268.5 1164.4,268.5 1164.4,292.2 1165.0,292.2 1165.0,299.1 1165.5,299.1 1165.5,321.1 1166.1,321.1 1166.1,294.6 1166.6,294.6 1166.6,293.2 1167.2,293.2 1167.2,325.0 1167.7,325.0 1167.7,464.3 1168.3,464.3 1168.3,307.3 1168.8,307.3 1168.8,338.4 1169.4,338.4 1169.4,258.3 1169.9,258.3 1169.9,363.7 1170.5,363.7 1170.5,318.8 1171.0,318.8 1171.0,276.3 1171.6,276.3 1171.6,304.8 1172.1,304.8 1172.1,436.8 1172.7,436.8 1172.7,315.9 1173.2,315.9 1173.2,334.7 1173.8,334.7 1173.8,318.1 1174.3,318.1 1174.3,306.6 1174.9,306.6 1174.9,319.3 1175.4,319.3 1175.4,348.9 1176.0,348.9 1176.0,320.4 1176.5,320.4 1176.5,307.7 1177.1,307.7 1177.1,319.9 1177.6,319.9 1177.6,344.5 1178.2,344.5 1178.2,344.6 1178.7,344.6 1178.7,314.7 1179.3,314.7 1179.3,300.7 1179.8,300.7 1179.8,313.6 1180.4,313.6 1180.4,148.4 1180.9,148.4 1180.9,359.5 1181.5,359.5 1181.5,322.6 1182.0,322.6 1182.0,324.5 1182.6,324.5 1182.6,346.7 1183.1,346.7 1183.1,324.9 1183.7,324.9 1183.7,336.3 1184.2,336.3 1184.2,330.1 1184.8,330.1 1184.8,342.5 1185.3,342.5 1185.3,410.0 1185.9,410.0 1185.9,357.7 1186.4,357.7 1186.4,348.5 1187.0,348.5 1187.0,324.0 1187.5,324.0 1187.5,332.5 1188.1,332.5 1188.1,323.1 1188.6,323.1 1188.6,335.7 1189.2,335.7 1189.2,324.8 1189.7,324.8 1189.7,309.0 1190.3,309.0 1190.3,300.2 1190.8,300.2 1190.8,319.6 1191.4,319.6 1191.4,302.4 1191.9,302.4 1191.9,335.2 1192.5,335.2 1192.5,332.3 1193.0,332.3 1193.0,327.3 1193.6,327.3 1193.6,326.3 1194.1,326.3 1194.1,262.9 1194.7,262.9 1194.7,326.7 1195.2,326.7 1195.2,332.8 1195.8,332.8 1195.8,307.4 1196.3,307.4 1196.3,343.7 1196.9,343.7 1196.9,302.8 1197.4,302.8 1197.4,314.1 1198.0,314.1 1198.0,302.9 1198.5,302.9 1198.5,305.9 1199.1,305.9 1199.1,299.7 1199.6,299.7 1199.6,305.4 1200.2,305.4 1200.2,267.3 1200.7,267.3 1200.7,330.4 1201.3,330.4 1201.3,316.1 1201.8,316.1 1201.8,345.5 1202.4,345.5 1202.4,292.5 1202.9,292.5 1202.9,303.0 1203.5,303.0 1203.5,299.0 1204.0,299.0 1204.0,313.3 1204.6,313.3 1204.6,300.2 1205.1,300.2 1205.1,282.1 1205.7,282.1 1205.7,312.6 1206.2,312.6 1206.2,298.0 1206.8,298.0 1206.8,345.7 1207.3,345.7 1207.3,308.8 1207.9,308.8 1207.9,275.3 1208.4,275.3 1208.4,334.8 1209.0,334.8 1209.0,307.3 1209.5,307.3 1209.5,308.6 1210.1,308.6 1210.1,303.7 1210.6,303.7 1210.6,297.8 1211.2,297.8 1211.2,317.8 1211.7,317.8 1211.7,292.6 1212.3,292.6 1212.3,306.7 1212.8,306.7 1212.8,294.0 1213.4,294.0 1213.4,330.5 1213.9,330.5 1213.9,277.1 1214.5,277.1 1214.5,319.8 1215.0,319.8 1215.0,313.6 1215.6,313.6 1215.6,334.1 1216.1,334.1 1216.1,295.3 1216.6,295.3 1216.6,326.7 1217.2,326.7 1217.2,329.8 1217.7,329.8 1217.7,320.8 1218.3,320.8 1218.3,319.4 1218.8,319.4 1218.8,314.5 1219.4,314.5 1219.4,420.2 1219.9,420.2 1219.9,302.2 1220.5,302.2 1220.5,323.0 1221.0,323.0 1221.0,328.7 1221.6,328.7 1221.6,330.4 1222.1,330.4 1222.1,337.2 1222.7,337.2 1222.7,305.1 1223.2,305.1 1223.2,343.8 1223.8,343.8 1223.8,317.8 1224.3,317.8 1224.3,327.9 1224.9,327.9 1224.9,327.7 1225.4,327.7 1225.4,340.1 1226.0,340.1 1226.0,350.3 1226.5,350.3 1226.5,380.8 1227.1,380.8 1227.1,338.2 1227.6,338.2 1227.6,383.8 1228.2,383.8 1228.2,360.2 1228.7,360.2 1228.7,365.2 1229.3,365.2 1229.3,423.0 1229.8,423.0 1229.8,342.5 1230.4,342.5 1230.4,446.2 1230.9,446.2 1230.9,317.6 1231.5,317.6 1231.5,350.2 1232.0,350.2 1232.0,343.1 1232.6,343.1 1232.6,337.9 1233.1,337.9 1233.1,343.5 1233.7,343.5 1233.7,378.7 1234.2,378.7 1234.2,359.6 1234.8,359.6 1234.8,367.5 1235.3,367.5 1235.3,352.3 1235.9,352.3 1235.9,340.2 1236.4,340.2 1236.4,345.5 1237.0,345.5 1237.0,190.8 1237.5,190.8 1237.5,378.5 1238.1,378.5 1238.1,325.3 1238.6,325.3 1238.6,328.2 1239.2,328.2 1239.2,335.2 1239.7,335.2 1239.7,326.0 1240.3,326.0 1240.3,331.8 1240.8,331.8 1240.8,318.4 1241.4,318.4 1241.4,238.5 1241.9,238.5 1241.9,337.2 1242.5,337.2 1242.5,343.9 1243.0,343.9 1243.0,321.4 1243.6,321.4 1243.6,332.9 1244.1,332.9 1244.1,155.5 1244.7,155.5 1244.7,330.8 1245.2,330.8 1245.2,343.7 1245.8,343.7 1245.8,350.0 1246.3,350.0 1246.3,348.3 1246.9,348.3 1246.9,415.5 1247.4,415.5 1247.4,371.5 1248.0,371.5 1248.0,354.7 1248.5,354.7 1248.5,405.1 1249.1,405.1 1249.1,336.3 1249.6,336.3 1249.6,329.1 1250.2,329.1 1250.2,428.7 1250.7,428.7 1250.7,329.5 1251.3,329.5 1251.3,433.7 1251.8,433.7 1251.8,370.6 1252.4,370.6 1252.4,358.8 1252.9,358.8 1252.9,386.3 1253.5,386.3 1253.5,268.7 1254.0,268.7 1254.0,356.0 1254.6,356.0 1254.6,359.9 1255.1,359.9 1255.1,348.1 1255.7,348.1 1255.7,287.4 1256.2,287.4 1256.2,322.0 1256.8,322.0 1256.8,318.6 1257.3,318.6 1257.3,335.0 1257.9,335.0 1257.9,292.6 1258.4,292.6 1258.4,333.8 1259.0,333.8 1259.0,311.5 1259.5,311.5 1259.5,322.3 1260.1,322.3 1260.1,343.4 1260.6,343.4 1260.6,332.4 1261.2,332.4 1261.2,319.0 1261.7,319.0 1261.7,335.0 1262.3,335.0 1262.3,316.7 1262.8,316.7 1262.8,246.7 1263.4,246.7 1263.4,356.8 1263.9,356.8 1263.9,354.9 1264.5,354.9 1264.5,336.7 1265.0,336.7 1265.0,364.2 1265.6,364.2 1265.6,365.9 1266.1,365.9 1266.1,317.8 1266.7,317.8 1266.7,339.9 1267.2,339.9 1267.2,351.5 1267.8,351.5 1267.8,320.3 1268.3,320.3 1268.3,313.7 1268.9,313.7 1268.9,315.3 1269.4,315.3 1269.4,438.9 1270.0,438.9 1270.0,328.1 1270.5,328.1 1270.5,307.1 1271.1,307.1 1271.1,313.7 1271.6,313.7 1271.6,294.0 1272.2,294.0 1272.2,343.2 1272.7,343.2 1272.7,259.3 1273.3,259.3 1273.3,276.5 1273.8,276.5 1273.8,338.4 1274.4,338.4 1274.4,315.8 1274.9,315.8 1274.9,332.0 1275.5,332.0 1275.5,336.3 1276.0,336.3 1276.0,321.1 1276.6,321.1 1276.6,320.5 1277.1,320.5 1277.1,299.0 1277.6,299.0 1277.6,120.3 1278.2,120.3 1278.2,318.9 1278.7,318.9 1278.7,331.8 1279.3,331.8 1279.3,323.2 1279.8,323.2 1279.8,343.9 1280.4,343.9 1280.4,297.1 1280.9,297.1 1280.9,316.6 1281.5,316.6 1281.5,335.7 1282.0,335.7 1282.0,326.5 1282.6,326.5 1282.6,338.5 1283.1,338.5 1283.1,313.9 1283.7,313.9 1283.7,333.8 1284.2,333.8 1284.2,415.7 1284.8,415.7 1284.8,320.5 1285.3,320.5 1285.3,303.9 1285.9,303.9 1285.9,344.0 1286.4,344.0 1286.4,332.1 1287.0,332.1 1287.0,278.3 1287.5,278.3 1287.5,83.0 1288.1,83.0 1288.1,318.0 1288.6,318.0 1288.6,305.4 1289.2,305.4 1289.2,325.3 1289.7,325.3 1289.7,332.6 1290.3,332.6 1290.3,311.6 1290.8,311.6 1290.8,323.8 1291.4,323.8 1291.4,292.8 1291.9,292.8 1291.9,345.2 1292.5,345.2 1292.5,294.2 1293.0,294.2 1293.0,295.2 1293.6,295.2 1293.6,313.6 1294.1,313.6 1294.1,314.5 1294.7,314.5 1294.7,321.6 1295.2,321.6 1295.2,311.4 1295.8,311.4 1295.8,305.7 1296.3,305.7 1296.3,325.7 1296.9,325.7 1296.9,299.9 1297.4,299.9 1297.4,290.1 1298.0,290.1 1298.0,332.2 1298.5,332.2 1298.5,305.4 1299.1,305.4 1299.1,268.1 1299.6,268.1 1299.6,315.2 1300.2,315.2 1300.2,311.6 1300.7,311.6 1300.7,273.8 1301.3,273.8 1301.3,298.8 1301.8,298.8 1301.8,319.3 1302.4,319.3 1302.4,302.2 1302.9,302.2 1302.9,312.8 1303.5,312.8 1303.5,307.8 1304.0,307.8 1304.0,204.0 1304.6,204.0 1304.6,240.9 1305.1,240.9 1305.1,246.8 1305.7,246.8 1305.7,295.2 1306.2,295.2 1306.2,303.7 1306.8,303.7 1306.8,300.9 1307.3,300.9 1307.3,273.7 1307.9,273.7 1307.9,295.3 1308.4,295.3 1308.4,332.0 1309.0,332.0 1309.0,343.1 1309.5,343.1 1309.5,379.9 1310.1,379.9 1310.1,300.5 1310.6,300.5 1310.6,317.8 1311.2,317.8 1311.2,301.0 1311.7,301.0 1311.7,269.3 1312.3,269.3 1312.3,297.8 1312.8,297.8 1312.8,282.4 1313.4,282.4 1313.4,251.0 1313.9,251.0 1313.9,283.3 1314.5,283.3 1314.5,275.8 1315.0,275.8 1315.0,285.6 1315.6,285.6 1315.6,323.6 1316.1,323.6 1316.1,262.4 1316.7,262.4 1316.7,249.8 1317.2,249.8 1317.2,246.0 1317.8,246.0 1317.8,305.7 1318.3,305.7 1318.3,288.0 1318.9,288.0 1318.9,256.7 1319.4,256.7 1319.4,251.8 1320.0,251.8 1320.0,264.9 1320.5,264.9 1320.5,260.3 1321.1,260.3 1321.1,278.6 1321.6,278.6 1321.6,278.6 1322.2,278.6 1322.2,278.7 1322.7,278.7 1322.7,243.5 1323.3,243.5 1323.3,275.9 1323.8,275.9 1323.8,254.1 1324.4,254.1 1324.4,259.6 1324.9,259.6 1324.9,296.4 1325.5,296.4 1325.5,246.0 1326.0,246.0 1326.0,236.6 1326.6,236.6 1326.6,214.0 1327.1,214.0 1327.1,263.9 1327.7,263.9 1327.7,254.7 1328.2,254.7 1328.2,251.6 1328.8,251.6 1328.8,256.6 1329.3,256.6 1329.3,249.7 1329.9,249.7 1329.9,248.6 1330.4,248.6 1330.4,264.1 1331.0,264.1 1331.0,231.9 1331.5,231.9 1331.5,283.6 1332.1,283.6 1332.1,273.5 1332.6,273.5 1332.6,254.3 1333.2,254.3 1333.2,264.2 1333.7,264.2 1333.7,287.3 1334.3,287.3 1334.3,297.7 1334.8,297.7 1334.8,257.3 1335.4,257.3 1335.4,285.3 1335.9,285.3 1335.9,281.8 1336.5,281.8 1336.5,298.2 1337.0,298.2 1337.0,288.7 1337.6,288.7 1337.6,300.4 1338.1,300.4 1338.1,295.2 1338.7,295.2 1338.7,293.5 1339.2,293.5 1339.2,299.8" fill="none" stroke="#7f9e72" stroke-width="1.8" stroke-linejoin="round" />
<line x1="757.6" y1="641.4" x2="1367" y2="641.4" stroke="#000" stroke-width="1.5" />
<line x1="784.7" y1="641.4" x2="784.7" y2="645.9" stroke="#000" stroke-width="1.1" />
<text transform="translate(784.7,661.4) scale(0.908,1)" font-size="18.4" class="tk" text-anchor="middle" >1</text>
<line x1="923.3" y1="641.4" x2="923.3" y2="645.9" stroke="#000" stroke-width="1.1" />
<text transform="translate(923.3,661.4) scale(0.908,1)" font-size="18.4" class="tk" text-anchor="middle" >2522998</text>
<line x1="1062" y1="641.4" x2="1062" y2="645.9" stroke="#000" stroke-width="1.1" />
<text transform="translate(1062,661.4) scale(0.908,1)" font-size="18.4" class="tk" text-anchor="middle" >5045996</text>
<line x1="1200.6" y1="641.4" x2="1200.6" y2="645.9" stroke="#000" stroke-width="1.1" />
<text transform="translate(1200.6,661.4) scale(0.908,1)" font-size="18.4" class="tk" text-anchor="middle" >7568994</text>
<line x1="1339.2" y1="641.4" x2="1339.2" y2="645.9" stroke="#000" stroke-width="1.1" />
<text transform="translate(1339.2,661.4) scale(0.908,1)" font-size="18.4" class="tk" text-anchor="middle" >10091992</text>
<text x="1061.8" y="38.2" font-size="28.8" class="tt" text-anchor="middle" >Chromosome 26</text>
<text transform="translate(1062.3,682.9) scale(0.895,1)" font-size="22" class="lb" text-anchor="middle" >Position in chromosome (bp)</text>
<polyline points="1466.8,204.0 1467.6,204.0 1467.6,220.7 1468.4,220.7 1468.4,214.1 1469.1,214.1 1469.1,235.3 1469.9,235.3 1469.9,271.6 1470.7,271.6 1470.7,222.0 1471.5,222.0 1471.5,243.7 1472.2,243.7 1472.2,249.4 1473.0,249.4 1473.0,230.9 1473.8,230.9 1473.8,262.4 1474.6,262.4 1474.6,249.7 1475.3,249.7 1475.3,252.6 1476.1,252.6 1476.1,251.8 1476.9,251.8 1476.9,255.8 1477.7,255.8 1477.7,273.1 1478.5,273.1 1478.5,275.5 1479.2,275.5 1479.2,279.1 1480.0,279.1 1480.0,287.6 1480.8,287.6 1480.8,289.3 1481.6,289.3 1481.6,288.9 1482.3,288.9 1482.3,298.7 1483.1,298.7 1483.1,308.9 1483.9,308.9 1483.9,327.3 1484.7,327.3 1484.7,261.7 1485.4,261.7 1485.4,310.0 1486.2,310.0 1486.2,299.1 1487.0,299.1 1487.0,292.9 1487.8,292.9 1487.8,241.0 1488.6,241.0 1488.6,273.3 1489.3,273.3 1489.3,284.4 1490.1,284.4 1490.1,304.4 1490.9,304.4 1490.9,295.4 1491.7,295.4 1491.7,323.4 1492.4,323.4 1492.4,281.7 1493.2,281.7 1493.2,294.8 1494.0,294.8 1494.0,290.2 1494.8,290.2 1494.8,295.4 1495.6,295.4 1495.6,288.0 1496.3,288.0 1496.3,299.0 1497.1,299.0 1497.1,305.3 1497.9,305.3 1497.9,300.4 1498.7,300.4 1498.7,304.8 1499.4,304.8 1499.4,278.6 1500.2,278.6 1500.2,299.1 1501.0,299.1 1501.0,330.4 1501.8,330.4 1501.8,312.1 1502.5,312.1 1502.5,294.9 1503.3,294.9 1503.3,321.7 1504.1,321.7 1504.1,295.3 1504.9,295.3 1504.9,336.9 1505.7,336.9 1505.7,307.2 1506.4,307.2 1506.4,317.6 1507.2,317.6 1507.2,325.6 1508.0,325.6 1508.0,320.9 1508.8,320.9 1508.8,320.6 1509.5,320.6 1509.5,326.9 1510.3,326.9 1510.3,318.5 1511.1,318.5 1511.1,287.4 1511.9,287.4 1511.9,306.8 1512.6,306.8 1512.6,358.2 1513.4,358.2 1513.4,322.7 1514.2,322.7 1514.2,300.0 1515.0,300.0 1515.0,389.0 1515.8,389.0 1515.8,330.3 1516.5,330.3 1516.5,322.9 1517.3,322.9 1517.3,331.7 1518.1,331.7 1518.1,305.1 1518.9,305.1 1518.9,300.4 1519.6,300.4 1519.6,317.5 1520.4,317.5 1520.4,296.4 1521.2,296.4 1521.2,317.3 1522.0,317.3 1522.0,315.7 1522.7,315.7 1522.7,325.2 1523.5,325.2 1523.5,227.6 1524.3,227.6 1524.3,317.0 1525.1,317.0 1525.1,335.5 1525.9,335.5 1525.9,349.5 1526.6,349.5 1526.6,269.8 1527.4,269.8 1527.4,325.5 1528.2,325.5 1528.2,329.9 1529.0,329.9 1529.0,156.1 1529.7,156.1 1529.7,286.2 1530.5,286.2 1530.5,363.5 1531.3,363.5 1531.3,317.4 1532.1,317.4 1532.1,312.2 1532.8,312.2 1532.8,337.2 1533.6,337.2 1533.6,343.6 1534.4,343.6 1534.4,355.8 1535.2,355.8 1535.2,298.5 1536.0,298.5 1536.0,323.8 1536.7,323.8 1536.7,308.0 1537.5,308.0 1537.5,310.5 1538.3,310.5 1538.3,309.7 1539.1,309.7 1539.1,274.7 1539.8,274.7 1539.8,301.4 1540.6,301.4 1540.6,322.7 1541.4,322.7 1541.4,311.3 1542.2,311.3 1542.2,301.0 1542.9,301.0 1542.9,298.0 1543.7,298.0 1543.7,289.8 1544.5,289.8 1544.5,331.2 1545.3,331.2 1545.3,272.4 1546.1,272.4 1546.1,307.1 1546.8,307.1 1546.8,312.2 1547.6,312.2 1547.6,322.7 1548.4,322.7 1548.4,339.1 1549.2,339.1 1549.2,303.5 1549.9,303.5 1549.9,353.3 1550.7,353.3 1550.7,298.0 1551.5,298.0 1551.5,310.9 1552.3,310.9 1552.3,312.2 1553.1,312.2 1553.1,326.2 1553.8,326.2 1553.8,320.0 1554.6,320.0 1554.6,375.7 1555.4,375.7 1555.4,306.3 1556.2,306.3 1556.2,367.0 1556.9,367.0 1556.9,286.9 1557.7,286.9 1557.7,309.0 1558.5,309.0 1558.5,307.9 1559.3,307.9 1559.3,334.5 1560.0,334.5 1560.0,304.0 1560.8,304.0 1560.8,293.9 1561.6,293.9 1561.6,307.6 1562.4,307.6 1562.4,315.1 1563.2,315.1 1563.2,331.2 1563.9,331.2 1563.9,323.1 1564.7,323.1 1564.7,319.6 1565.5,319.6 1565.5,312.8 1566.3,312.8 1566.3,349.0 1567.0,349.0 1567.0,337.1 1567.8,337.1 1567.8,297.1 1568.6,297.1 1568.6,324.0 1569.4,324.0 1569.4,348.3 1570.1,348.3 1570.1,306.6 1570.9,306.6 1570.9,362.9 1571.7,362.9 1571.7,308.0 1572.5,308.0 1572.5,321.7 1573.3,321.7 1573.3,320.6 1574.0,320.6 1574.0,299.9 1574.8,299.9 1574.8,323.6 1575.6,323.6 1575.6,305.5 1576.4,305.5 1576.4,330.1 1577.1,330.1 1577.1,305.0 1577.9,305.0 1577.9,279.0 1578.7,279.0 1578.7,317.8 1579.5,317.8 1579.5,306.9 1580.2,306.9 1580.2,274.6 1581.0,274.6 1581.0,260.2 1581.8,260.2 1581.8,282.5 1582.6,282.5 1582.6,257.1 1583.4,257.1 1583.4,296.9 1584.1,296.9 1584.1,273.8 1584.9,273.8 1584.9,285.4 1585.7,285.4 1585.7,285.4 1586.5,285.4 1586.5,281.2 1587.2,281.2 1587.2,301.6 1588.0,301.6 1588.0,282.6 1588.8,282.6 1588.8,281.7 1589.6,281.7 1589.6,283.7 1590.3,283.7 1590.3,347.3 1591.1,347.3 1591.1,334.5 1591.9,334.5 1591.9,332.6 1592.7,332.6 1592.7,334.9 1593.5,334.9 1593.5,328.0 1594.2,328.0 1594.2,348.6 1595.0,348.6 1595.0,318.7 1595.8,318.7 1595.8,324.3 1596.6,324.3 1596.6,146.6 1597.3,146.6 1597.3,340.6 1598.1,340.6 1598.1,324.3 1598.9,324.3 1598.9,321.9 1599.7,321.9 1599.7,314.6 1600.4,314.6 1600.4,333.1 1601.2,333.1 1601.2,282.4 1602.0,282.4 1602.0,346.1 1602.8,346.1 1602.8,339.7 1603.6,339.7 1603.6,345.0 1604.3,345.0 1604.3,329.5 1605.1,329.5 1605.1,390.4 1605.9,390.4 1605.9,331.5 1606.7,331.5 1606.7,331.4 1607.4,331.4 1607.4,324.0 1608.2,324.0 1608.2,313.3 1609.0,313.3 1609.0,336.4 1609.8,336.4 1609.8,243.7 1610.6,243.7 1610.6,336.0 1611.3,336.0 1611.3,329.3 1612.1,329.3 1612.1,242.6 1612.9,242.6 1612.9,338.8 1613.7,338.8 1613.7,333.4 1614.4,333.4 1614.4,380.6 1615.2,380.6 1615.2,342.4 1616.0,342.4 1616.0,352.9 1616.8,352.9 1616.8,334.4 1617.5,334.4 1617.5,343.8 1618.3,343.8 1618.3,337.5 1619.1,337.5 1619.1,324.7 1619.9,324.7 1619.9,336.9 1620.7,336.9 1620.7,320.9 1621.4,320.9 1621.4,312.1 1622.2,312.1 1622.2,361.6 1623.0,361.6 1623.0,336.4 1623.8,336.4 1623.8,345.9 1624.5,345.9 1624.5,303.4 1625.3,303.4 1625.3,325.7 1626.1,325.7 1626.1,333.8 1626.9,333.8 1626.9,325.4 1627.6,325.4 1627.6,274.9 1628.4,274.9 1628.4,325.3 1629.2,325.3 1629.2,363.7 1630.0,363.7 1630.0,324.4 1630.8,324.4 1630.8,345.4 1631.5,345.4 1631.5,320.3 1632.3,320.3 1632.3,322.9 1633.1,322.9 1633.1,354.8 1633.9,354.8 1633.9,320.7 1634.6,320.7 1634.6,335.7 1635.4,335.7 1635.4,338.0 1636.2,338.0 1636.2,340.3 1637.0,340.3 1637.0,332.4 1637.7,332.4 1637.7,318.0 1638.5,318.0 1638.5,325.1 1639.3,325.1 1639.3,319.0 1640.1,319.0 1640.1,339.4 1640.9,339.4 1640.9,325.1 1641.6,325.1 1641.6,335.7 1642.4,335.7 1642.4,314.5 1643.2,314.5 1643.2,310.8 1644.0,310.8 1644.0,329.8 1644.7,329.8 1644.7,337.0 1645.5,337.0 1645.5,323.7 1646.3,323.7 1646.3,303.4 1647.1,303.4 1647.1,334.3 1647.8,334.3 1647.8,347.1 1648.6,347.1 1648.6,337.1 1649.4,337.1 1649.4,320.8 1650.2,320.8 1650.2,402.2 1651.0,402.2 1651.0,366.6 1651.7,366.6 1651.7,340.5 1652.5,340.5 1652.5,318.6 1653.3,318.6 1653.3,312.4 1654.1,312.4 1654.1,330.5 1654.8,330.5 1654.8,320.6 1655.6,320.6 1655.6,321.2 1656.4,321.2 1656.4,326.4 1657.2,326.4 1657.2,342.3 1657.9,342.3 1657.9,308.3 1658.7,308.3 1658.7,335.6 1659.5,335.6 1659.5,315.8 1660.3,315.8 1660.3,327.2 1661.1,327.2 1661.1,333.0 1661.8,333.0 1661.8,324.6 1662.6,324.6 1662.6,330.7 1663.4,330.7 1663.4,310.9 1664.2,310.9 1664.2,218.2 1664.9,218.2 1664.9,307.4 1665.7,307.4 1665.7,291.2 1666.5,291.2 1666.5,328.9 1667.3,328.9 1667.3,308.9 1668.1,308.9 1668.1,322.7 1668.8,322.7 1668.8,329.4 1669.6,329.4 1669.6,329.8 1670.4,329.8 1670.4,305.1 1671.2,305.1 1671.2,298.6 1671.9,298.6 1671.9,307.2 1672.7,307.2 1672.7,320.6 1673.5,320.6 1673.5,313.8 1674.3,313.8 1674.3,403.6 1675.0,403.6 1675.0,332.5 1675.8,332.5 1675.8,294.9 1676.6,294.9 1676.6,410.7 1677.4,410.7 1677.4,312.1 1678.2,312.1 1678.2,322.4 1678.9,322.4 1678.9,297.9 1679.7,297.9 1679.7,314.1 1680.5,314.1 1680.5,275.0 1681.3,275.0 1681.3,295.0 1682.0,295.0 1682.0,311.5 1682.8,311.5 1682.8,293.0 1683.6,293.0 1683.6,266.6 1684.4,266.6 1684.4,293.4 1685.1,293.4 1685.1,290.0 1685.9,290.0 1685.9,303.6 1686.7,303.6 1686.7,279.4 1687.5,279.4 1687.5,290.2 1688.3,290.2 1688.3,264.9 1689.0,264.9 1689.0,293.1 1689.8,293.1 1689.8,229.0 1690.6,229.0 1690.6,167.5 1691.4,167.5 1691.4,292.4 1692.1,292.4 1692.1,250.4 1692.9,250.4 1692.9,265.4 1693.7,265.4 1693.7,269.9 1694.5,269.9 1694.5,299.7 1695.2,299.7 1695.2,286.0 1696.0,286.0 1696.0,305.3 1696.8,305.3 1696.8,271.0 1697.6,271.0 1697.6,277.2 1698.4,277.2 1698.4,272.6 1699.1,272.6 1699.1,343.1 1699.9,343.1 1699.9,268.8 1700.7,268.8 1700.7,291.5 1701.5,291.5 1701.5,276.1 1702.2,276.1 1702.2,285.4 1703.0,285.4 1703.0,314.4 1703.8,314.4 1703.8,223.3 1704.6,223.3 1704.6,268.6 1705.3,268.6 1705.3,252.3 1706.1,252.3 1706.1,272.0 1706.9,272.0 1706.9,262.4 1707.7,262.4 1707.7,264.5 1708.5,264.5 1708.5,280.7 1709.2,280.7 1709.2,275.7 1710.0,275.7 1710.0,296.0 1710.8,296.0 1710.8,298.0 1711.6,298.0 1711.6,295.8 1712.3,295.8 1712.3,295.3 1713.1,295.3 1713.1,285.1 1713.9,285.1 1713.9,307.3 1714.7,307.3 1714.7,319.8 1715.4,319.8 1715.4,305.8 1716.2,305.8 1716.2,335.4 1717.0,335.4 1717.0,316.4 1717.8,316.4 1717.8,340.6 1718.6,340.6 1718.6,334.5 1719.3,334.5 1719.3,344.6 1720.1,344.6 1720.1,339.9 1720.9,339.9 1720.9,319.0 1721.7,319.0 1721.7,329.4 1722.4,329.4 1722.4,346.9 1723.2,346.9 1723.2,346.4 1724.0,346.4 1724.0,305.5 1724.8,305.5 1724.8,348.5 1725.6,348.5 1725.6,337.6 1726.3,337.6 1726.3,325.8 1727.1,325.8 1727.1,315.8 1727.9,315.8 1727.9,338.7 1728.7,338.7 1728.7,344.4 1729.4,344.4 1729.4,299.6 1730.2,299.6 1730.2,295.5 1731.0,295.5 1731.0,341.0 1731.8,341.0 1731.8,335.0 1732.5,335.0 1732.5,220.7 1733.3,220.7 1733.3,323.8 1734.1,323.8 1734.1,327.7 1734.9,327.7 1734.9,329.6 1735.7,329.6 1735.7,306.1 1736.4,306.1 1736.4,319.6 1737.2,319.6 1737.2,328.3 1738.0,328.3 1738.0,352.7 1738.8,352.7 1738.8,326.9 1739.5,326.9 1739.5,296.5 1740.3,296.5 1740.3,337.8 1741.1,337.8 1741.1,351.9 1741.9,351.9 1741.9,333.8 1742.6,333.8 1742.6,326.8 1743.4,326.8 1743.4,340.3 1744.2,340.3 1744.2,317.0 1745.0,317.0 1745.0,358.6 1745.8,358.6 1745.8,380.8 1746.5,380.8 1746.5,323.9 1747.3,323.9 1747.3,323.0 1748.1,323.0 1748.1,334.7 1748.9,334.7 1748.9,361.4 1749.6,361.4 1749.6,311.3 1750.4,311.3 1750.4,344.4 1751.2,344.4 1751.2,331.4 1752.0,331.4 1752.0,332.5 1752.7,332.5 1752.7,277.6 1753.5,277.6 1753.5,310.1 1754.3,310.1 1754.3,330.7 1755.1,330.7 1755.1,337.2 1755.9,337.2 1755.9,312.9 1756.6,312.9 1756.6,337.0 1757.4,337.0 1757.4,333.4 1758.2,333.4 1758.2,365.8 1759.0,365.8 1759.0,336.4 1759.7,336.4 1759.7,351.4 1760.5,351.4 1760.5,306.2 1761.3,306.2 1761.3,335.2 1762.1,335.2 1762.1,333.2 1762.8,333.2 1762.8,490.6 1763.6,490.6 1763.6,327.1 1764.4,327.1 1764.4,300.3 1765.2,300.3 1765.2,341.1 1766.0,341.1 1766.0,264.9 1766.7,264.9 1766.7,326.0 1767.5,326.0 1767.5,324.8 1768.3,324.8 1768.3,343.3 1769.1,343.3 1769.1,317.7 1769.8,317.7 1769.8,313.7 1770.6,313.7 1770.6,312.0 1771.4,312.0 1771.4,365.7 1772.2,365.7 1772.2,215.2 1773.0,215.2 1773.0,324.6 1773.7,324.6 1773.7,284.5 1774.5,284.5 1774.5,296.8 1775.3,296.8 1775.3,325.4 1776.1,325.4 1776.1,321.9 1776.8,321.9 1776.8,336.8 1777.6,336.8 1777.6,334.2 1778.4,334.2 1778.4,497.5 1779.2,497.5 1779.2,301.3 1779.9,301.3 1779.9,339.3 1780.7,339.3 1780.7,335.8 1781.5,335.8 1781.5,325.4 1782.3,325.4 1782.3,312.6 1783.1,312.6 1783.1,306.9 1783.8,306.9 1783.8,358.3 1784.6,358.3 1784.6,211.8 1785.4,211.8 1785.4,325.1 1786.2,325.1 1786.2,329.8 1786.9,329.8 1786.9,331.2 1787.7,331.2 1787.7,334.2 1788.5,334.2 1788.5,352.7 1789.3,352.7 1789.3,330.9 1790.0,330.9 1790.0,324.5 1790.8,324.5 1790.8,275.2 1791.6,275.2 1791.6,329.5 1792.4,329.5 1792.4,321.8 1793.2,321.8 1793.2,317.8 1793.9,317.8 1793.9,337.8 1794.7,337.8 1794.7,345.2 1795.5,345.2 1795.5,310.8 1796.3,310.8 1796.3,325.4 1797.0,325.4 1797.0,339.2 1797.8,339.2 1797.8,322.1 1798.6,322.1 1798.6,324.6 1799.4,324.6 1799.4,349.8 1800.1,349.8 1800.1,326.8 1800.9,326.8 1800.9,300.7 1801.7,300.7 1801.7,365.6 1802.5,365.6 1802.5,411.7 1803.3,411.7 1803.3,343.8 1804.0,343.8 1804.0,421.9 1804.8,421.9 1804.8,337.3 1805.6,337.3 1805.6,319.5 1806.4,319.5 1806.4,315.2 1807.1,315.2 1807.1,290.5 1807.9,290.5 1807.9,289.8 1808.7,289.8 1808.7,293.1 1809.5,293.1 1809.5,300.4 1810.2,300.4 1810.2,390.7 1811.0,390.7 1811.0,301.9 1811.8,301.9 1811.8,295.1 1812.6,295.1 1812.6,327.9 1813.4,327.9 1813.4,264.1 1814.1,264.1 1814.1,334.2 1814.9,334.2 1814.9,263.5 1815.7,263.5 1815.7,307.5 1816.5,307.5 1816.5,291.1 1817.2,291.1 1817.2,283.1 1818.0,283.1 1818.0,328.9 1818.8,328.9 1818.8,290.1 1819.6,290.1 1819.6,302.3 1820.3,302.3 1820.3,311.3 1821.1,311.3 1821.1,312.2 1821.9,312.2 1821.9,320.7 1822.7,320.7 1822.7,272.8 1823.5,272.8 1823.5,324.6 1824.2,324.6 1824.2,320.1 1825.0,320.1 1825.0,308.2 1825.8,308.2 1825.8,302.6 1826.6,302.6 1826.6,309.6 1827.3,309.6 1827.3,240.8 1828.1,240.8 1828.1,304.0 1828.9,304.0 1828.9,307.9 1829.7,307.9 1829.7,316.2 1830.5,316.2 1830.5,341.0 1831.2,341.0 1831.2,312.2 1832.0,312.2 1832.0,303.0 1832.8,303.0 1832.8,300.6 1833.6,300.6 1833.6,312.9 1834.3,312.9 1834.3,315.2 1835.1,315.2 1835.1,314.9 1835.9,314.9 1835.9,360.9 1836.7,360.9 1836.7,311.8 1837.4,311.8 1837.4,317.3 1838.2,317.3 1838.2,314.3 1839.0,314.3 1839.0,308.4 1839.8,308.4 1839.8,384.8 1840.6,384.8 1840.6,302.3 1841.3,302.3 1841.3,325.0 1842.1,325.0 1842.1,377.9 1842.9,377.9 1842.9,312.0 1843.7,312.0 1843.7,281.4 1844.4,281.4 1844.4,287.2 1845.2,287.2 1845.2,307.4 1846.0,307.4 1846.0,280.9 1846.8,280.9 1846.8,282.8 1847.5,282.8 1847.5,244.1 1848.3,244.1 1848.3,236.3 1849.1,236.3 1849.1,282.6 1849.9,282.6 1849.9,282.9 1850.7,282.9 1850.7,266.9 1851.4,266.9 1851.4,267.5 1852.2,267.5 1852.2,278.5 1853.0,278.5 1853.0,459.8 1853.8,459.8 1853.8,301.5 1854.5,301.5 1854.5,293.5 1855.3,293.5 1855.3,275.4 1856.1,275.4 1856.1,300.8 1856.9,300.8 1856.9,313.9 1857.6,313.9 1857.6,310.1 1858.4,310.1 1858.4,311.2 1859.2,311.2 1859.2,315.8 1860.0,315.8 1860.0,319.9 1860.8,319.9 1860.8,286.3 1861.5,286.3 1861.5,332.0 1862.3,332.0 1862.3,309.2 1863.1,309.2 1863.1,327.4 1863.9,327.4 1863.9,356.4 1864.6,356.4 1864.6,323.2 1865.4,323.2 1865.4,382.0 1866.2,382.0 1866.2,329.5 1867.0,329.5 1867.0,349.9 1867.7,349.9 1867.7,334.5 1868.5,334.5 1868.5,328.1 1869.3,328.1 1869.3,404.0 1870.1,404.0 1870.1,325.8 1870.9,325.8 1870.9,341.0 1871.6,341.0 1871.6,346.4 1872.4,346.4 1872.4,333.0 1873.2,333.0 1873.2,329.3 1874.0,329.3 1874.0,332.9 1874.7,332.9 1874.7,305.9 1875.5,305.9 1875.5,337.0 1876.3,337.0 1876.3,442.2 1877.1,442.2 1877.1,344.4 1877.8,344.4 1877.8,331.9 1878.6,331.9 1878.6,334.1 1879.4,334.1 1879.4,261.1 1880.2,261.1 1880.2,322.1 1881.0,322.1 1881.0,321.9 1881.7,321.9 1881.7,336.2 1882.5,336.2 1882.5,301.3 1883.3,301.3 1883.3,302.5 1884.1,302.5 1884.1,261.1 1884.8,261.1 1884.8,302.5 1885.6,302.5 1885.6,317.8 1886.4,317.8 1886.4,288.8 1887.2,288.8 1887.2,284.0 1888.0,284.0 1888.0,194.0 1888.7,194.0 1888.7,289.0 1889.5,289.0 1889.5,287.7 1890.3,287.7 1890.3,95.8 1891.1,95.8 1891.1,279.7 1891.8,279.7 1891.8,321.2 1892.6,321.2 1892.6,305.4 1893.4,305.4 1893.4,298.3 1894.2,298.3 1894.2,304.5 1894.9,304.5 1894.9,316.7 1895.7,316.7 1895.7,288.5 1896.5,288.5 1896.5,309.2 1897.3,309.2 1897.3,332.8 1898.1,332.8 1898.1,308.7 1898.8,308.7 1898.8,339.9 1899.6,339.9 1899.6,285.8 1900.4,285.8 1900.4,284.6 1901.2,284.6 1901.2,291.6 1901.9,291.6 1901.9,338.3 1902.7,338.3 1902.7,224.4 1903.5,224.4 1903.5,306.9 1904.3,306.9 1904.3,296.2 1905.0,296.2 1905.0,301.7 1905.8,301.7 1905.8,294.8 1906.6,294.8 1906.6,317.5 1907.4,317.5 1907.4,305.0 1908.2,305.0 1908.2,295.0 1908.9,295.0 1908.9,259.9 1909.7,259.9 1909.7,309.3 1910.5,309.3 1910.5,296.1 1911.3,296.1 1911.3,312.4 1912.0,312.4 1912.0,315.4 1912.8,315.4 1912.8,294.1 1913.6,294.1 1913.6,309.4 1914.4,309.4 1914.4,297.1 1915.1,297.1 1915.1,306.0 1915.9,306.0 1915.9,305.7 1916.7,305.7 1916.7,339.6 1917.5,339.6 1917.5,296.9 1918.3,296.9 1918.3,294.2 1919.0,294.2 1919.0,222.7 1919.8,222.7 1919.8,298.4 1920.6,298.4 1920.6,293.9 1921.4,293.9 1921.4,229.1 1922.1,229.1 1922.1,310.4 1922.9,310.4 1922.9,294.1 1923.7,294.1 1923.7,264.7 1924.5,264.7 1924.5,264.2 1925.2,264.2 1925.2,251.4 1926.0,251.4 1926.0,230.5 1926.8,230.5 1926.8,217.7 1927.6,217.7 1927.6,202.3 1928.4,202.3 1928.4,200.2 1929.1,200.2 1929.1,197.9 1929.9,197.9 1929.9,185.0 1930.7,185.0 1930.7,213.2 1931.5,213.2 1931.5,165.4 1932.2,165.4 1932.2,206.9 1933.0,206.9 1933.0,234.7 1933.8,234.7 1933.8,210.9 1934.6,210.9 1934.6,76.2 1935.3,76.2 1935.3,206.2 1936.1,206.2 1936.1,111.1 1936.9,111.1 1936.9,215.1 1937.7,215.1 1937.7,203.2 1938.5,203.2 1938.5,300.1 1939.2,300.1 1939.2,228.8 1940.0,228.8 1940.0,117.6 1940.8,117.6 1940.8,224.9 1941.6,224.9 1941.6,198.8 1942.3,198.8 1942.3,185.0 1943.1,185.0 1943.1,207.7 1943.9,207.7 1943.9,215.2 1944.7,215.2 1944.7,132.2 1945.5,132.2 1945.5,250.8 1946.2,250.8 1946.2,192.4 1947.0,192.4 1947.0,187.0 1947.8,187.0 1947.8,263.2 1948.6,263.2 1948.6,221.2 1949.3,221.2 1949.3,177.4 1950.1,177.4 1950.1,170.8 1950.9,170.8 1950.9,181.4 1951.7,181.4 1951.7,196.3 1952.4,196.3 1952.4,210.6 1953.2,210.6 1953.2,180.4 1954.0,180.4 1954.0,162.6 1954.8,162.6 1954.8,182.5 1955.6,182.5 1955.6,167.6 1956.3,167.6 1956.3,156.8 1957.1,156.8 1957.1,192.6 1957.9,192.6 1957.9,195.2 1958.7,195.2 1958.7,185.7 1959.4,185.7 1959.4,185.8 1960.2,185.8 1960.2,168.8 1961.0,168.8 1961.0,193.7 1961.8,193.7 1961.8,196.7 1962.5,196.7 1962.5,211.2 1963.3,211.2 1963.3,182.1 1964.1,182.1 1964.1,207.7 1964.9,207.7 1964.9,213.6 1965.7,213.6 1965.7,228.5 1966.4,228.5 1966.4,285.0 1967.2,285.0 1967.2,224.5 1968.0,224.5 1968.0,217.0 1968.8,217.0 1968.8,212.3 1969.5,212.3 1969.5,205.1 1970.3,205.1 1970.3,250.6 1971.1,250.6 1971.1,182.1 1971.9,182.1 1971.9,224.7 1972.6,224.7 1972.6,276.0 1973.4,276.0 1973.4,204.6 1974.2,204.6 1974.2,219.2 1975.0,219.2 1975.0,214.7 1975.8,214.7 1975.8,228.7 1976.5,228.7 1976.5,241.3 1977.3,241.3 1977.3,210.6 1978.1,210.6 1978.1,213.1 1978.9,213.1 1978.9,234.6 1979.6,234.6 1979.6,197.5 1980.4,197.5 1980.4,242.7 1981.2,242.7 1981.2,83.6 1982.0,83.6 1982.0,296.1 1982.7,296.1 1982.7,237.7 1983.5,237.7 1983.5,231.5 1984.3,231.5 1984.3,266.6 1985.1,266.6 1985.1,212.0 1985.9,212.0 1985.9,247.3 1986.6,247.3 1986.6,219.3 1987.4,219.3 1987.4,215.9 1988.2,215.9 1988.2,220.9 1989.0,220.9 1989.0,287.5 1989.7,287.5 1989.7,225.9 1990.5,225.9 1990.5,220.4 1991.3,220.4 1991.3,287.2 1992.1,287.2 1992.1,227.9 1992.8,227.9 1992.8,210.8 1993.6,210.8 1993.6,249.8 1994.4,249.8 1994.4,183.6 1995.2,183.6 1995.2,231.8 1996.0,231.8 1996.0,242.6 1996.7,242.6 1996.7,238.9 1997.5,238.9 1997.5,238.1 1998.3,238.1 1998.3,248.1 1999.1,248.1 1999.1,252.4 1999.8,252.4 1999.8,258.9 2000.6,258.9 2000.6,223.1 2001.4,223.1 2001.4,275.3 2002.2,275.3 2002.2,287.4 2003.0,287.4 2003.0,275.2 2003.7,275.2 2003.7,274.0 2004.5,274.0 2004.5,241.0 2005.3,241.0 2005.3,240.6 2006.1,240.6 2006.1,239.8 2006.8,239.8 2006.8,253.4 2007.6,253.4 2007.6,263.2 2008.4,263.2 2008.4,249.2 2009.2,249.2 2009.2,259.0 2009.9,259.0 2009.9,249.5 2010.7,249.5 2010.7,259.8 2011.5,259.8 2011.5,251.4 2012.3,251.4 2012.3,271.3 2013.1,271.3 2013.1,234.5 2013.8,234.5 2013.8,251.3 2014.6,251.3 2014.6,250.2 2015.4,250.2 2015.4,249.5 2016.2,249.5 2016.2,249.1 2016.9,249.1 2016.9,287.9 2017.7,287.9 2017.7,291.9 2018.5,291.9 2018.5,313.2 2019.3,313.2 2019.3,316.0 2020.0,316.0 2020.0,349.7 2020.8,349.7 2020.8,380.4 2021.6,380.4 2021.6,367.3" fill="none" stroke="#7f9e72" stroke-width="1.8" stroke-linejoin="round" />
<line x1="2050" y1="50" x2="2050" y2="641.4" stroke="#000" stroke-width="1.5" />
<line x1="2050" y1="595.3" x2="2054.5" y2="595.3" stroke="#000" stroke-width="1.1" />
<text transform="translate(2057.5,602.3) scale(0.908,1)" font-size="18.4" class="tk" text-anchor="start" >0.35</text>
<line x1="2050" y1="499.2" x2="2054.5" y2="499.2" stroke="#000" stroke-width="1.1" />
<text transform="translate(2057.5,506.2) scale(0.908,1)" font-size="18.4" class="tk" text-anchor="start" >0.40</text>
<line x1="2050" y1="403.1" x2="2054.5" y2="403.1" stroke="#000" stroke-width="1.1" />
<text transform="translate(2057.5,410.1) scale(0.908,1)" font-size="18.4" class="tk" text-anchor="start" >0.45</text>
<line x1="2050" y1="307.1" x2="2054.5" y2="307.1" stroke="#000" stroke-width="1.1" />
<text transform="translate(2057.5,314.1) scale(0.908,1)" font-size="18.4" class="tk" text-anchor="start" >0.50</text>
<line x1="2050" y1="211" x2="2054.5" y2="211" stroke="#000" stroke-width="1.1" />
<text transform="translate(2057.5,218) scale(0.908,1)" font-size="18.4" class="tk" text-anchor="start" >0.55</text>
<line x1="2050" y1="114.9" x2="2054.5" y2="114.9" stroke="#000" stroke-width="1.1" />
<text transform="translate(2057.5,121.9) scale(0.908,1)" font-size="18.4" class="tk" text-anchor="start" >0.60</text>
<line x1="1440" y1="641.4" x2="2050" y2="641.4" stroke="#000" stroke-width="1.5" />
<line x1="1466.8" y1="641.4" x2="1466.8" y2="645.9" stroke="#000" stroke-width="1.1" />
<text transform="translate(1466.8,661.4) scale(0.908,1)" font-size="18.4" class="tk" text-anchor="middle" >1</text>
<line x1="1605.5" y1="641.4" x2="1605.5" y2="645.9" stroke="#000" stroke-width="1.1" />
<text transform="translate(1605.5,661.4) scale(0.908,1)" font-size="18.4" class="tk" text-anchor="middle" >1785360</text>
<line x1="1744.2" y1="641.4" x2="1744.2" y2="645.9" stroke="#000" stroke-width="1.1" />
<text transform="translate(1744.2,661.4) scale(0.908,1)" font-size="18.4" class="tk" text-anchor="middle" >3570720</text>
<line x1="1882.9" y1="641.4" x2="1882.9" y2="645.9" stroke="#000" stroke-width="1.1" />
<text transform="translate(1882.9,661.4) scale(0.908,1)" font-size="18.4" class="tk" text-anchor="middle" >5356079</text>
<line x1="2021.6" y1="641.4" x2="2021.6" y2="645.9" stroke="#000" stroke-width="1.1" />
<text transform="translate(2021.6,661.4) scale(0.908,1)" font-size="18.4" class="tk" text-anchor="middle" >7141439</text>
<text x="1745" y="38.2" font-size="28.8" class="tt" text-anchor="middle" >Chromosome 59</text>
<text transform="translate(1744.7,682.9) scale(0.895,1)" font-size="22" class="lb" text-anchor="middle" >Position in chromosome (bp)</text>
<text x="0" y="0" font-size="23" class="lb" text-anchor="middle" transform="translate(2114.5,346) rotate(-90) scale(0.872,1)">GC content</text>
<text transform="translate(0.8,26.6) scale(1.1,1)" font-size="36.5" class="pl" text-anchor="start" >A</text>
<text transform="translate(0.1,760) scale(0.96,1)" font-size="36.5" class="pl" text-anchor="start" >B</text>
<text transform="translate(1421.7,760) scale(0.96,1)" font-size="36.5" class="pl" text-anchor="start" >C</text>
<text transform="translate(1.8,1498) scale(0.96,1)" font-size="36.5" class="pl" text-anchor="start" >D</text>
<text transform="translate(712.8,1498) scale(0.96,1)" font-size="36.5" class="pl" text-anchor="start" >E</text>
<text transform="translate(1437.4,1498) scale(0.96,1)" font-size="36.5" class="pl" text-anchor="start" >F</text>
<polyline points="99.5,997.6 100.6,972.6 101.6,962.4 102.7,958.2 103.8,955.5 104.9,957.1 105.9,880.6 107.0,858.6 108.1,854.5 109.1,863.4 110.2,912.1 111.3,903.7 112.3,893.4 113.4,870.1 114.5,902.0 115.6,894.9 116.6,905.7 117.7,908.7 118.8,928.7 119.8,919.2 120.9,923.5 122.0,966.7 123.1,933.0 124.1,903.9 125.2,954.5 126.3,943.3 127.3,983.8 128.4,994.4 129.5,952.9 130.6,963.9 131.6,943.6 132.7,957.7 133.8,950.1 134.8,969.1 135.9,946.9 137.0,930.0 138.0,943.4 139.1,973.1 140.2,982.6 141.3,997.7 142.3,974.7 143.4,965.8 144.5,985.0 145.5,962.6 146.6,981.0 147.7,943.3 148.8,945.2 149.8,931.3 150.9,968.9 152.0,991.1 153.0,1016.8 154.1,981.0 155.2,998.6 156.2,959.2 157.3,964.2 158.4,954.5 159.5,989.1 160.5,991.4 161.6,977.4 162.7,960.1 163.7,990.7 164.8,973.0 165.9,987.1 167.0,961.9 168.0,970.0 169.1,974.8 170.2,962.6 171.2,943.0 172.3,960.6 173.4,940.3 174.4,973.2 175.5,963.3 176.6,985.3 177.7,969.5 178.7,983.6 179.8,971.5 180.9,954.6 181.9,977.0 183.0,1001.8 184.1,982.6 185.2,960.4 186.2,955.6 187.3,974.9 188.4,950.1 189.4,960.0 190.5,944.1 191.6,968.1 192.7,953.4 193.7,932.4 194.8,957.8 195.9,935.7 196.9,884.1 198.0,869.9 199.1,875.8 200.1,890.4 201.2,927.1 202.3,916.7 203.4,939.3 204.4,925.0 205.5,965.6 206.6,913.5 207.6,882.7 208.7,898.1 209.8,931.0 210.9,936.5 211.9,915.7 213.0,910.8 214.1,934.5 215.1,909.3 216.2,907.2 217.3,910.0 218.3,928.3 219.4,930.0 220.5,944.4 221.6,934.0 222.6,945.6 223.7,916.2 224.8,924.6 225.8,925.3 226.9,923.5 228.0,923.0 229.1,956.1 230.1,919.8 231.2,926.1 232.3,941.4 233.3,956.4 234.4,957.8 235.5,957.3 236.6,945.4 237.6,958.3 238.7,950.5 239.8,949.3 240.8,967.7 241.9,924.1 243.0,951.7 244.0,958.3 245.1,964.1 246.2,972.3 247.3,960.7 248.3,942.7 249.4,962.6 250.5,987.0 251.5,971.9 252.6,1016.7 253.7,993.7 254.8,990.4 255.8,971.6 256.9,990.2 258.0,972.3 259.0,969.4 260.1,952.9 261.2,918.2 262.2,915.8 263.3,924.2 264.4,893.6 265.5,901.4 266.5,942.9 267.6,942.4 268.7,920.1 269.7,933.4 270.8,957.7 271.9,982.1 273.0,1027.5 274.0,1022.8 275.1,1041.8 276.2,1044.2 277.2,1047.2 278.3,1047.6 279.4,1038.9 280.5,1033.3 281.5,1042.1 282.6,1011.1 283.7,1026.6 284.7,994.6 285.8,988.9 286.9,1027.1 287.9,1003.7 289.0,1035.3 290.1,994.8 291.2,996.8 292.2,1021.5 293.3,1054.3 294.4,1034.2 295.4,1042.2 296.5,998.6 297.6,1022.2 298.7,1012.6 299.7,994.1 300.8,995.5 301.9,991.5 302.9,999.3 304.0,984.5 305.1,1009.1 306.1,991.9 307.2,1017.6 308.3,1003.1 309.4,1021.4 310.4,1012.1 311.5,993.0 312.6,972.2 313.6,1020.0 314.7,1022.1 315.8,1027.0 316.9,988.0 317.9,1009.6 319.0,989.8 320.1,1003.8 321.1,1027.6 322.2,1009.1 323.3,1024.3 324.3,996.0 325.4,981.4 326.5,965.3 327.6,1002.3 328.6,970.2 329.7,967.2 330.8,1018.3 331.8,970.0 332.9,960.7 334.0,1010.3 335.1,1009.4 336.1,1042.9 337.2,1037.6 338.3,1031.7 339.3,1023.3 340.4,1042.0 341.5,1032.1 342.6,1042.1 343.6,1019.3 344.7,1001.2 345.8,1001.7 346.8,979.0 347.9,973.8 349.0,976.1 350.0,959.7 351.1,995.2 352.2,985.8 353.3,1015.0 354.3,1000.3 355.4,1004.7 356.5,984.7 357.5,1002.2 358.6,1016.4 359.7,1015.0 360.8,1017.6 361.8,1009.1 362.9,1034.0 364.0,1059.6 365.0,1075.4 366.1,1033.2 367.2,1060.4 368.2,1058.9 369.3,1071.7 370.4,1041.2 371.5,1056.2 372.5,1030.5 373.6,1056.7 374.7,1051.0 375.7,1041.1 376.8,1034.0 377.9,1073.0 379.0,1076.3 380.0,1073.7 381.1,1107.0 382.2,1075.2 383.2,1068.4 384.3,1064.4 385.4,1100.0 386.5,1087.5 387.5,1078.5 388.6,1064.3 389.7,1086.9 390.7,1074.8 391.8,1045.4 392.9,1077.9 393.9,1092.4 395.0,1097.7 396.1,1122.5 397.2,1112.7 398.2,1071.0 399.3,1100.9 400.4,1100.9 401.4,1074.9 402.5,1075.5 403.6,1082.5 404.7,1096.7 405.7,1099.3 406.8,1098.4 407.9,1085.6 408.9,1091.7 410.0,1078.6 411.1,1126.0 412.1,1097.0 413.2,1109.8 414.3,1105.7 415.4,1112.4 416.4,1095.3 417.5,1102.2 418.6,1091.4 419.6,1113.7 420.7,1105.1 421.8,1081.9 422.9,1073.7 423.9,1098.0 425.0,1099.6 426.1,1110.2 427.1,1110.5 428.2,1108.2 429.3,1084.8 430.4,1086.3 431.4,1070.6 432.5,1062.2 433.6,1111.5 434.6,1104.2 435.7,1115.3 436.8,1142.5 437.8,1144.8 438.9,1135.2 440.0,1090.0 441.1,1099.7 442.1,1109.4 443.2,1111.0 444.3,1125.5 445.3,1114.8 446.4,1115.1 447.5,1144.4 448.6,1137.1 449.6,1060.7 450.7,1077.9 451.8,1100.6 452.8,1097.2 453.9,1127.2 455.0,1121.5 456.0,1104.9 457.1,1144.9 458.2,1147.3 459.3,1142.8 460.3,1139.4 461.4,1142.9 462.5,1130.5 463.5,1111.7 464.6,1116.7 465.7,1106.9 466.8,1102.9 467.8,1132.7 468.9,1130.5 470.0,1142.5 471.0,1129.3 472.1,1143.0 473.2,1146.8 474.2,1114.0 475.3,1135.2 476.4,1171.3 477.5,1156.9 478.5,1147.9 479.6,1159.6 480.7,1154.9 481.7,1135.7 482.8,1155.7 483.9,1158.7 485.0,1169.9 486.0,1155.7 487.1,1158.1 488.2,1174.3 489.2,1167.4 490.3,1127.4 491.4,1175.6 492.5,1191.5 493.5,1166.7 494.6,1188.0 495.7,1135.3 496.7,1176.1 497.8,1191.2 498.9,1183.5 499.9,1154.9 501.0,1159.4 502.1,1173.7 503.2,1193.1 504.2,1186.3 505.3,1223.7 506.4,1194.1 507.4,1151.8 508.5,1172.0 509.6,1147.8 510.7,1112.7 511.7,1100.3 512.8,1120.3 513.9,1091.2 514.9,1102.7 516.0,1096.6 517.1,1133.1 518.1,1142.8 519.2,1146.6 520.3,1100.4 521.4,1155.3 522.4,1170.0 523.5,1126.8 524.6,1120.9 525.6,1178.9 526.7,1159.0 527.8,1150.1 528.9,1119.5 529.9,1165.7 531.0,1162.4 532.1,1132.9 533.1,1127.0 534.2,1157.4 535.3,1161.0 536.4,1186.5 537.4,1146.8 538.5,1164.1 539.6,1141.9 540.6,1142.4 541.7,1175.7 542.8,1178.6 543.8,1166.9 544.9,1164.9 546.0,1143.7 547.1,1141.9 548.1,1155.9 549.2,1155.5 550.3,1181.5 551.3,1191.2 552.4,1173.4 553.5,1170.5 554.6,1196.1 555.6,1188.7 556.7,1198.8 557.8,1199.0 558.8,1164.9 559.9,1191.2 561.0,1197.8 562.0,1178.2 563.1,1178.6 564.2,1177.2 565.3,1206.6 566.3,1193.7 567.4,1194.4 568.5,1202.9 569.5,1202.3 570.6,1197.2 571.7,1175.4 572.8,1147.5 573.8,1168.7 574.9,1153.8 576.0,1173.6 577.0,1213.0 578.1,1203.2 579.2,1177.2 580.3,1164.3 581.3,1201.8 582.4,1162.0 583.5,1200.1 584.5,1218.2 585.6,1223.5 586.7,1190.4 587.7,1195.9 588.8,1189.4 589.9,1243.6 591.0,1227.7 592.0,1221.6 593.1,1203.7 594.2,1217.0 595.2,1192.2 596.3,1215.7 597.4,1239.2 598.5,1254.2 599.5,1207.0 600.6,1195.1 601.7,1218.0 602.7,1193.4 603.8,1205.7 604.9,1210.2 605.9,1236.9 607.0,1231.9 608.1,1217.3 609.2,1208.9 610.2,1219.1 611.3,1194.8 612.4,1175.5 613.4,1208.3 614.5,1200.5 615.6,1232.5 616.7,1210.9 617.7,1226.5 618.8,1218.5 619.9,1208.7 620.9,1211.8 622.0,1189.3 623.1,1213.3 624.1,1218.6 625.2,1206.5 626.3,1207.9 627.4,1203.4 628.4,1210.1 629.5,1224.4 630.6,1203.8 631.6,1205.6 632.7,1191.4 633.8,1177.2 634.9,1202.1 635.9,1220.7 637.0,1224.0 638.1,1229.2 639.1,1256.5 640.2,1213.3 641.3,1232.9 642.4,1218.1 643.4,1276.6 644.5,1278.0 645.6,1262.2 646.6,1250.7 647.7,1215.4 648.8,1211.2 649.8,1217.6 650.9,1216.0 652.0,1259.5 653.1,1251.1 654.1,1247.7 655.2,1202.2" fill="none" stroke="#7f9e72" stroke-width="4.6" stroke-linejoin="round" stroke-linejoin="miter" stroke-miterlimit="2"/>
<polyline points="99.5,953.3 102.3,952.4 105.1,951.6 107.9,950.9 110.7,950.2 113.5,949.6 116.3,949.0 119.0,948.4 121.8,947.9 124.6,947.5 127.4,947.1 130.2,946.8 133.0,946.4 135.8,946.2 138.6,946.0 141.4,945.8 144.2,945.7 147.0,945.6 149.8,945.6 152.6,945.6 155.3,945.6 158.1,945.7 160.9,945.9 163.7,946.0 166.5,946.3 169.3,946.5 172.1,946.8 174.9,947.2 177.7,947.6 180.5,948.0 183.3,948.4 186.1,948.9 188.9,949.5 191.7,950.0 194.4,950.7 197.2,951.3 200.0,952.0 202.8,952.7 205.6,953.5 208.4,954.2 211.2,955.1 214.0,955.9 216.8,956.8 219.6,957.7 222.4,958.7 225.2,959.7 228.0,960.7 230.7,961.8 233.5,962.8 236.3,963.9 239.1,965.1 241.9,966.3 244.7,967.5 247.5,968.7 250.3,970.0 253.1,971.2 255.9,972.6 258.7,973.9 261.5,975.3 264.3,976.7 267.0,978.1 269.8,979.5 272.6,981.0 275.4,982.5 278.2,984.0 281.0,985.5 283.8,987.1 286.6,988.7 289.4,990.3 292.2,991.9 295.0,993.6 297.8,995.3 300.6,997.0 303.3,998.7 306.1,1000.4 308.9,1002.2 311.7,1003.9 314.5,1005.7 317.3,1007.5 320.1,1009.4 322.9,1011.2 325.7,1013.1 328.5,1014.9 331.3,1016.8 334.1,1018.7 336.9,1020.6 339.7,1022.6 342.4,1024.5 345.2,1026.5 348.0,1028.5 350.8,1030.5 353.6,1032.5 356.4,1034.5 359.2,1036.5 362.0,1038.5 364.8,1040.6 367.6,1042.6 370.4,1044.7 373.2,1046.8 376.0,1048.9 378.7,1050.9 381.5,1053.0 384.3,1055.1 387.1,1057.3 389.9,1059.4 392.7,1061.5 395.5,1063.6 398.3,1065.8 401.1,1067.9 403.9,1070.1 406.7,1072.2 409.5,1074.4 412.3,1076.5 415.0,1078.7 417.8,1080.8 420.6,1083.0 423.4,1085.2 426.2,1087.3 429.0,1089.5 431.8,1091.7 434.6,1093.8 437.4,1096.0 440.2,1098.2 443.0,1100.3 445.8,1102.5 448.6,1104.7 451.4,1106.8 454.1,1109.0 456.9,1111.1 459.7,1113.2 462.5,1115.4 465.3,1117.5 468.1,1119.6 470.9,1121.8 473.7,1123.9 476.5,1126.0 479.3,1128.1 482.1,1130.2 484.9,1132.3 487.7,1134.3 490.4,1136.4 493.2,1138.5 496.0,1140.5 498.8,1142.6 501.6,1144.6 504.4,1146.6 507.2,1148.6 510.0,1150.6 512.8,1152.6 515.6,1154.5 518.4,1156.5 521.2,1158.4 524.0,1160.4 526.7,1162.3 529.5,1164.2 532.3,1166.0 535.1,1167.9 537.9,1169.7 540.7,1171.6 543.5,1173.4 546.3,1175.2 549.1,1177.0 551.9,1178.7 554.7,1180.4 557.5,1182.2 560.3,1183.9 563.0,1185.5 565.8,1187.2 568.6,1188.8 571.4,1190.5 574.2,1192.0 577.0,1193.6 579.8,1195.2 582.6,1196.7 585.4,1198.2 588.2,1199.7 591.0,1201.1 593.8,1202.5 596.6,1203.9 599.4,1205.3 602.1,1206.7 604.9,1208.0 607.7,1209.3 610.5,1210.5 613.3,1211.8 616.1,1213.0 618.9,1214.2 621.7,1215.3 624.5,1216.4 627.3,1217.5 630.1,1218.6 632.9,1219.6 635.7,1220.6 638.4,1221.6 641.2,1222.5 644.0,1223.4 646.8,1224.3 649.6,1225.1 652.4,1225.9 655.2,1226.6" fill="none" stroke="#c0392b" stroke-width="1.6" stroke-linejoin="round" />
<line x1="74.7" y1="785.9" x2="74.7" y2="1378.5" stroke="#000" stroke-width="1.5" />
<line x1="70.2" y1="1291.4" x2="74.7" y2="1291.4" stroke="#000" stroke-width="1.1" />
<text transform="translate(67.2,1298.4) scale(0.908,1)" font-size="18.4" class="tk" text-anchor="end" >0.49</text>
<line x1="70.2" y1="1172" x2="74.7" y2="1172" stroke="#000" stroke-width="1.1" />
<text transform="translate(67.2,1179) scale(0.908,1)" font-size="18.4" class="tk" text-anchor="end" >0.50</text>
<line x1="70.2" y1="1052.5" x2="74.7" y2="1052.5" stroke="#000" stroke-width="1.1" />
<text transform="translate(67.2,1059.5) scale(0.908,1)" font-size="18.4" class="tk" text-anchor="end" >0.51</text>
<line x1="70.2" y1="933.1" x2="74.7" y2="933.1" stroke="#000" stroke-width="1.1" />
<text transform="translate(67.2,940.1) scale(0.908,1)" font-size="18.4" class="tk" text-anchor="end" >0.52</text>
<line x1="70.2" y1="813.6" x2="74.7" y2="813.6" stroke="#000" stroke-width="1.1" />
<text transform="translate(67.2,820.6) scale(0.908,1)" font-size="18.4" class="tk" text-anchor="end" >0.53</text>
<line x1="74.7" y1="1378.5" x2="683.1" y2="1378.5" stroke="#000" stroke-width="1.5" />
<line x1="99.5" y1="1378.5" x2="99.5" y2="1383" stroke="#000" stroke-width="1.1" />
<text transform="translate(99.5,1398.5) scale(0.908,1)" font-size="18.4" class="tk" text-anchor="middle" >0.0</text>
<line x1="210.6" y1="1378.5" x2="210.6" y2="1383" stroke="#000" stroke-width="1.1" />
<text transform="translate(210.6,1398.5) scale(0.908,1)" font-size="18.4" class="tk" text-anchor="middle" >0.5</text>
<line x1="321.8" y1="1378.5" x2="321.8" y2="1383" stroke="#000" stroke-width="1.1" />
<text transform="translate(321.8,1398.5) scale(0.908,1)" font-size="18.4" class="tk" text-anchor="middle" >1.0</text>
<line x1="432.9" y1="1378.5" x2="432.9" y2="1383" stroke="#000" stroke-width="1.1" />
<text transform="translate(432.9,1398.5) scale(0.908,1)" font-size="18.4" class="tk" text-anchor="middle" >1.5</text>
<line x1="544.1" y1="1378.5" x2="544.1" y2="1383" stroke="#000" stroke-width="1.1" />
<text transform="translate(544.1,1398.5) scale(0.908,1)" font-size="18.4" class="tk" text-anchor="middle" >2.0</text>
<line x1="655.2" y1="1378.5" x2="655.2" y2="1383" stroke="#000" stroke-width="1.1" />
<text transform="translate(655.2,1398.5) scale(0.908,1)" font-size="18.4" class="tk" text-anchor="middle" >2.5</text>
<text x="378.5" y="772" font-size="28.8" class="tt" text-anchor="middle" >Left side telomere</text>
<text transform="translate(378.8,1419) scale(0.895,1)" font-size="22" class="lb" text-anchor="middle" >Distance from telomere (Mb)</text>
<text x="0" y="0" font-size="23" class="lb" text-anchor="middle" transform="translate(26.8,1082.2) rotate(-90) scale(0.872,1)">GC content</text>
<line x1="101.3" y1="1237" x2="138.6" y2="1237" stroke="#7f9e72" stroke-width="8.6" />
<line x1="101.3" y1="1260.6" x2="138.6" y2="1260.6" stroke="#c0392b" stroke-width="6.6" />
<text transform="translate(146.3,1241.8) scale(0.88,1)" font-size="16.4" class="lg" text-anchor="start" >Chromosomes average</text>
<text transform="translate(146.3,1264.4) scale(0.88,1)" font-size="16.4" class="lg" text-anchor="start" >Polynomial fit</text>
<text transform="translate(146.3,1286.5) scale(0.88,1)" font-size="16.4" class="lg" text-anchor="start" >R² = 0.87</text>
<polyline points="750.9,1148.1 752.0,1130.5 753.0,1124.3 754.1,1135.5 755.2,1105.4 756.3,1125.0 757.3,1154.9 758.4,1129.5 759.5,1106.9 760.5,1115.3 761.6,1113.2 762.7,1101.7 763.7,1086.7 764.8,1097.6 765.9,1082.5 767.0,1101.6 768.0,1077.1 769.1,1130.3 770.2,1111.7 771.2,1115.7 772.3,1120.8 773.4,1149.1 774.5,1118.7 775.5,1128.6 776.6,1148.0 777.7,1150.3 778.7,1144.3 779.8,1135.6 780.9,1150.5 782.0,1157.7 783.0,1136.6 784.1,1136.3 785.2,1098.9 786.2,1126.3 787.3,1117.4 788.4,1095.2 789.4,1120.4 790.5,1109.3 791.6,1116.5 792.7,1123.9 793.7,1098.2 794.8,1134.0 795.9,1142.6 796.9,1167.5 798.0,1147.9 799.1,1118.4 800.2,1127.4 801.2,1111.3 802.3,1132.7 803.4,1106.9 804.4,1118.0 805.5,1129.2 806.6,1095.0 807.6,1109.5 808.7,1104.9 809.8,1110.7 810.9,1102.2 811.9,1108.6 813.0,1135.4 814.1,1119.7 815.1,1108.7 816.2,1105.0 817.3,1114.2 818.4,1080.4 819.4,1111.5 820.5,1109.4 821.6,1106.4 822.6,1129.2 823.7,1141.9 824.8,1113.9 825.8,1101.4 826.9,1105.9 828.0,1140.2 829.1,1131.8 830.1,1118.6 831.2,1106.0 832.3,1090.2 833.3,1096.8 834.4,1090.8 835.5,1075.6 836.6,1142.4 837.6,1111.7 838.7,1124.4 839.8,1113.5 840.8,1113.9 841.9,1137.0 843.0,1145.5 844.1,1125.1 845.1,1127.5 846.2,1112.1 847.3,1126.0 848.3,1086.1 849.4,1112.5 850.5,1082.0 851.5,1120.5 852.6,1113.9 853.7,1100.9 854.8,1140.0 855.8,1151.4 856.9,1131.2 858.0,1108.5 859.0,1094.3 860.1,1102.8 861.2,1097.6 862.3,1135.8 863.3,1139.4 864.4,1106.8 865.5,1128.7 866.5,1132.9 867.6,1162.2 868.7,1147.0 869.7,1165.9 870.8,1138.6 871.9,1106.0 873.0,1112.5 874.0,1118.2 875.1,1131.1 876.2,1119.5 877.2,1144.7 878.3,1144.2 879.4,1095.9 880.5,1148.5 881.5,1171.9 882.6,1207.7 883.7,1185.8 884.7,1212.8 885.8,1254.0 886.9,1262.3 888.0,1187.1 889.0,1141.2 890.1,1106.2 891.2,1114.6 892.2,1098.3 893.3,1080.9 894.4,1082.5 895.4,1122.3 896.5,1144.5 897.6,1142.8 898.7,1107.9 899.7,1122.0 900.8,1121.4 901.9,1100.1 902.9,1106.6 904.0,1116.3 905.1,1078.9 906.2,1070.1 907.2,1060.0 908.3,1052.4 909.4,1038.8 910.4,1059.2 911.5,1070.5 912.6,1103.7 913.6,1090.3 914.7,1090.1 915.8,1059.3 916.9,1051.6 917.9,1032.8 919.0,1030.7 920.1,1027.4 921.1,1037.3 922.2,1048.2 923.3,1062.1 924.4,1061.0 925.4,1077.0 926.5,1058.9 927.6,1059.7 928.6,1095.6 929.7,1123.9 930.8,1100.2 931.9,1084.6 932.9,1074.3 934.0,1040.3 935.1,1060.0 936.1,1080.5 937.2,1059.2 938.3,1038.1 939.3,1016.6 940.4,1055.5 941.5,1058.9 942.6,1063.4 943.6,1029.7 944.7,1029.0 945.8,1040.2 946.8,1031.9 947.9,1047.3 949.0,1050.9 950.1,1048.8 951.1,1055.8 952.2,1053.8 953.3,1041.3 954.3,1037.1 955.4,1011.9 956.5,1011.3 957.5,1027.6 958.6,1073.2 959.7,1080.1 960.8,1064.7 961.8,1055.0 962.9,1067.5 964.0,1055.8 965.0,1041.4 966.1,1048.3 967.2,1042.2 968.3,1038.3 969.3,1047.4 970.4,1054.2 971.5,1043.6 972.5,1031.3 973.6,1049.5 974.7,1075.7 975.7,1067.4 976.8,1036.7 977.9,1061.3 979.0,1025.8 980.0,1037.2 981.1,1029.0 982.2,1041.5 983.2,1022.2 984.3,1022.9 985.4,1017.2 986.5,1056.5 987.5,1025.4 988.6,1054.9 989.7,1048.1 990.7,1032.7 991.8,1041.5 992.9,1035.6 994.0,1041.8 995.0,1048.7 996.1,1071.0 997.2,1050.8 998.2,1035.4 999.3,1052.3 1000.4,1062.5 1001.4,1043.2 1002.5,1047.9 1003.6,1029.9 1004.7,1005.5 1005.7,993.3 1006.8,971.9 1007.9,986.0 1008.9,1021.6 1010.0,1036.0 1011.1,1019.1 1012.2,988.5 1013.2,1017.6 1014.3,1042.7 1015.4,1013.9 1016.4,1030.4 1017.5,1024.8 1018.6,1017.2 1019.6,1053.0 1020.7,1052.2 1021.8,1051.5 1022.9,1028.4 1023.9,1012.6 1025.0,1023.1 1026.1,1005.6 1027.1,1037.0 1028.2,1009.3 1029.3,995.9 1030.4,996.1 1031.4,1021.5 1032.5,1007.7 1033.6,1018.2 1034.6,976.5 1035.7,988.2 1036.8,991.2 1037.9,989.9 1038.9,976.7 1040.0,978.2 1041.1,969.7 1042.1,991.4 1043.2,963.7 1044.3,979.1 1045.3,962.6 1046.4,963.7 1047.5,948.3 1048.6,961.1 1049.6,997.2 1050.7,1011.4 1051.8,1004.3 1052.8,975.3 1053.9,997.9 1055.0,1002.7 1056.1,986.4 1057.1,1015.0 1058.2,1015.3 1059.3,1019.1 1060.3,1039.8 1061.4,1037.4 1062.5,1017.9 1063.5,996.2 1064.6,1003.9 1065.7,941.6 1066.8,952.2 1067.8,960.9 1068.9,967.1 1070.0,979.5 1071.0,952.5 1072.1,1006.5 1073.2,981.6 1074.3,992.1 1075.3,975.0 1076.4,964.6 1077.5,982.6 1078.5,984.7 1079.6,944.9 1080.7,959.5 1081.8,956.0 1082.8,959.7 1083.9,940.7 1085.0,924.3 1086.0,921.4 1087.1,925.9 1088.2,927.0 1089.2,958.1 1090.3,926.5 1091.4,945.1 1092.5,958.6 1093.5,954.7 1094.6,959.7 1095.7,939.6 1096.7,924.2 1097.8,906.5 1098.9,922.4 1100.0,937.8 1101.0,938.3 1102.1,953.8 1103.2,952.2 1104.2,901.7 1105.3,927.8 1106.4,933.3 1107.4,915.3 1108.5,913.0 1109.6,902.0 1110.7,925.5 1111.7,938.8 1112.8,901.1 1113.9,919.1 1114.9,916.0 1116.0,908.1 1117.1,940.7 1118.2,924.8 1119.2,925.0 1120.3,903.2 1121.4,907.5 1122.4,943.4 1123.5,904.1 1124.6,945.6 1125.6,925.0 1126.7,919.9 1127.8,915.3 1128.9,901.7 1129.9,878.5 1131.0,900.6 1132.1,905.7 1133.1,883.4 1134.2,877.4 1135.3,870.7 1136.4,874.4 1137.4,886.1 1138.5,895.6 1139.6,899.4 1140.6,876.1 1141.7,854.8 1142.8,836.3 1143.9,882.0 1144.9,887.9 1146.0,886.0 1147.1,887.9 1148.1,905.9 1149.2,854.3 1150.3,842.9 1151.3,868.3 1152.4,886.4 1153.5,887.5 1154.6,910.4 1155.6,906.0 1156.7,884.9 1157.8,860.4 1158.8,864.0 1159.9,859.2 1161.0,900.2 1162.1,958.9 1163.1,903.1 1164.2,900.3 1165.3,904.8 1166.3,876.1 1167.4,911.5 1168.5,928.2 1169.5,932.8 1170.6,893.2 1171.7,888.3 1172.8,936.3 1173.8,895.4 1174.9,905.9 1176.0,902.9 1177.0,922.9 1178.1,883.7 1179.2,891.7 1180.3,879.2 1181.3,915.0 1182.4,900.2 1183.5,904.2 1184.5,911.4 1185.6,924.9 1186.7,928.7 1187.8,938.5 1188.8,933.5 1189.9,919.4 1191.0,901.7 1192.0,932.2 1193.1,936.2 1194.2,930.0 1195.2,945.5 1196.3,927.7 1197.4,919.0 1198.5,913.4 1199.5,899.7 1200.6,883.6 1201.7,878.7 1202.7,885.6 1203.8,882.8 1204.9,906.4 1206.0,919.4 1207.0,896.2 1208.1,886.9 1209.2,852.8 1210.2,881.2 1211.3,907.5 1212.4,895.8 1213.4,903.7 1214.5,915.0 1215.6,878.8 1216.7,852.1 1217.7,868.1 1218.8,895.2 1219.9,891.6 1220.9,896.2 1222.0,923.2 1223.1,895.5 1224.2,892.6 1225.2,875.3 1226.3,901.1 1227.4,903.6 1228.4,907.1 1229.5,938.6 1230.6,876.3 1231.7,932.7 1232.7,941.4 1233.8,931.6 1234.9,949.9 1235.9,922.5 1237.0,927.0 1238.1,919.8 1239.1,914.3 1240.2,914.9 1241.3,914.1 1242.4,918.0 1243.4,909.1 1244.5,897.9 1245.6,912.0 1246.6,921.7 1247.7,925.0 1248.8,913.4 1249.9,920.3 1250.9,923.4 1252.0,945.2 1253.1,892.0 1254.1,925.6 1255.2,887.4 1256.3,886.0 1257.3,881.1 1258.4,892.6 1259.5,893.3 1260.6,897.2 1261.6,893.2 1262.7,886.5 1263.8,870.6 1264.8,909.1 1265.9,899.0 1267.0,873.5 1268.1,865.7 1269.1,906.2 1270.2,899.6 1271.3,896.9 1272.3,895.9 1273.4,941.1 1274.5,903.8 1275.5,932.1 1276.6,874.8 1277.7,876.8 1278.8,891.2 1279.8,883.9 1280.9,889.3 1282.0,903.9 1283.0,902.0 1284.1,892.7 1285.2,910.1 1286.3,890.3 1287.3,874.2 1288.4,868.0 1289.5,863.4 1290.5,859.4 1291.6,868.7 1292.7,862.0 1293.8,882.1 1294.8,885.0 1295.9,867.9 1297.0,850.8 1298.0,885.6 1299.1,921.8 1300.2,879.2 1301.2,907.4 1302.3,925.7 1303.4,968.4 1304.5,1014.1 1305.5,1066.8 1306.6,1112.3" fill="none" stroke="#7f9e72" stroke-width="4.6" stroke-linejoin="round" stroke-linejoin="miter" stroke-miterlimit="2"/>
<polyline points="750.9,1117.8 753.7,1119.6 756.5,1121.4 759.3,1123.1 762.1,1124.7 764.9,1126.2 767.7,1127.6 770.4,1128.9 773.2,1130.1 776.0,1131.2 778.8,1132.2 781.6,1133.2 784.4,1134.1 787.2,1134.8 790.0,1135.5 792.8,1136.1 795.6,1136.7 798.4,1137.1 801.2,1137.5 804.0,1137.8 806.7,1138.0 809.5,1138.1 812.3,1138.2 815.1,1138.2 817.9,1138.1 820.7,1137.9 823.5,1137.7 826.3,1137.4 829.1,1137.0 831.9,1136.6 834.7,1136.1 837.5,1135.5 840.3,1134.9 843.1,1134.2 845.8,1133.4 848.6,1132.6 851.4,1131.7 854.2,1130.8 857.0,1129.8 859.8,1128.7 862.6,1127.6 865.4,1126.4 868.2,1125.2 871.0,1123.9 873.8,1122.6 876.6,1121.2 879.4,1119.7 882.1,1118.3 884.9,1116.7 887.7,1115.2 890.5,1113.5 893.3,1111.9 896.1,1110.1 898.9,1108.4 901.7,1106.6 904.5,1104.7 907.3,1102.9 910.1,1101.0 912.9,1099.0 915.7,1097.0 918.4,1095.0 921.2,1092.9 924.0,1090.8 926.8,1088.7 929.6,1086.5 932.4,1084.4 935.2,1082.1 938.0,1079.9 940.8,1077.6 943.6,1075.3 946.4,1073.0 949.2,1070.7 952.0,1068.3 954.7,1065.9 957.5,1063.5 960.3,1061.1 963.1,1058.6 965.9,1056.2 968.7,1053.7 971.5,1051.2 974.3,1048.7 977.1,1046.2 979.9,1043.6 982.7,1041.1 985.5,1038.5 988.3,1035.9 991.1,1033.4 993.8,1030.8 996.6,1028.2 999.4,1025.6 1002.2,1023.0 1005.0,1020.4 1007.8,1017.8 1010.6,1015.2 1013.4,1012.6 1016.2,1010.0 1019.0,1007.5 1021.8,1004.9 1024.6,1002.3 1027.4,999.7 1030.1,997.1 1032.9,994.6 1035.7,992.0 1038.5,989.5 1041.3,986.9 1044.1,984.4 1046.9,981.9 1049.7,979.4 1052.5,977.0 1055.3,974.5 1058.1,972.1 1060.9,969.6 1063.7,967.2 1066.4,964.8 1069.2,962.5 1072.0,960.1 1074.8,957.8 1077.6,955.5 1080.4,953.3 1083.2,951.0 1086.0,948.8 1088.8,946.7 1091.6,944.5 1094.4,942.4 1097.2,940.3 1100.0,938.3 1102.8,936.2 1105.5,934.3 1108.3,932.3 1111.1,930.4 1113.9,928.6 1116.7,926.7 1119.5,924.9 1122.3,923.2 1125.1,921.5 1127.9,919.8 1130.7,918.2 1133.5,916.7 1136.3,915.1 1139.1,913.7 1141.8,912.3 1144.6,910.9 1147.4,909.6 1150.2,908.3 1153.0,907.1 1155.8,905.9 1158.6,904.8 1161.4,903.8 1164.2,902.8 1167.0,901.9 1169.8,901.0 1172.6,900.2 1175.4,899.5 1178.1,898.8 1180.9,898.2 1183.7,897.6 1186.5,897.1 1189.3,896.7 1192.1,896.4 1194.9,896.1 1197.7,895.9 1200.5,895.7 1203.3,895.7 1206.1,895.7 1208.9,895.8 1211.7,895.9 1214.4,896.2 1217.2,896.5 1220.0,896.9 1222.8,897.3 1225.6,897.9 1228.4,898.5 1231.2,899.3 1234.0,900.1 1236.8,901.0 1239.6,901.9 1242.4,903.0 1245.2,904.2 1248.0,905.4 1250.8,906.7 1253.5,908.2 1256.3,909.7 1259.1,911.3 1261.9,913.0 1264.7,914.8 1267.5,916.7 1270.3,918.7 1273.1,920.8 1275.9,923.0 1278.7,925.3 1281.5,927.7 1284.3,930.2 1287.1,932.8 1289.8,935.5 1292.6,938.4 1295.4,941.3 1298.2,944.3 1301.0,947.5 1303.8,950.7 1306.6,954.1" fill="none" stroke="#c0392b" stroke-width="1.6" stroke-linejoin="round" />
<line x1="1333" y1="785.9" x2="1333" y2="1378.5" stroke="#000" stroke-width="1.5" />
<line x1="1333" y1="1291.4" x2="1337.5" y2="1291.4" stroke="#000" stroke-width="1.1" />
<text transform="translate(1340.5,1298.4) scale(0.908,1)" font-size="18.4" class="tk" text-anchor="start" >0.49</text>
<line x1="1333" y1="1172" x2="1337.5" y2="1172" stroke="#000" stroke-width="1.1" />
<text transform="translate(1340.5,1179) scale(0.908,1)" font-size="18.4" class="tk" text-anchor="start" >0.50</text>
<line x1="1333" y1="1052.5" x2="1337.5" y2="1052.5" stroke="#000" stroke-width="1.1" />
<text transform="translate(1340.5,1059.5) scale(0.908,1)" font-size="18.4" class="tk" text-anchor="start" >0.51</text>
<line x1="1333" y1="933.1" x2="1337.5" y2="933.1" stroke="#000" stroke-width="1.1" />
<text transform="translate(1340.5,940.1) scale(0.908,1)" font-size="18.4" class="tk" text-anchor="start" >0.52</text>
<line x1="1333" y1="813.6" x2="1337.5" y2="813.6" stroke="#000" stroke-width="1.1" />
<text transform="translate(1340.5,820.6) scale(0.908,1)" font-size="18.4" class="tk" text-anchor="start" >0.53</text>
<line x1="723.7" y1="1378.5" x2="1333" y2="1378.5" stroke="#000" stroke-width="1.5" />
<line x1="750.9" y1="1378.5" x2="750.9" y2="1383" stroke="#000" stroke-width="1.1" />
<text transform="translate(750.9,1398.5) scale(0.908,1)" font-size="18.4" class="tk" text-anchor="middle" >-2.5</text>
<line x1="862" y1="1378.5" x2="862" y2="1383" stroke="#000" stroke-width="1.1" />
<text transform="translate(862,1398.5) scale(0.908,1)" font-size="18.4" class="tk" text-anchor="middle" >-2.0</text>
<line x1="973.2" y1="1378.5" x2="973.2" y2="1383" stroke="#000" stroke-width="1.1" />
<text transform="translate(973.2,1398.5) scale(0.908,1)" font-size="18.4" class="tk" text-anchor="middle" >-1.5</text>
<line x1="1084.3" y1="1378.5" x2="1084.3" y2="1383" stroke="#000" stroke-width="1.1" />
<text transform="translate(1084.3,1398.5) scale(0.908,1)" font-size="18.4" class="tk" text-anchor="middle" >-1.0</text>
<line x1="1195.5" y1="1378.5" x2="1195.5" y2="1383" stroke="#000" stroke-width="1.1" />
<text transform="translate(1195.5,1398.5) scale(0.908,1)" font-size="18.4" class="tk" text-anchor="middle" >-0.5</text>
<line x1="1306.6" y1="1378.5" x2="1306.6" y2="1383" stroke="#000" stroke-width="1.1" />
<text transform="translate(1306.6,1398.5) scale(0.908,1)" font-size="18.4" class="tk" text-anchor="middle" >0.0</text>
<text x="1028.2" y="772.7" font-size="28.8" class="tt" text-anchor="middle" >Right side telomere</text>
<text transform="translate(1028.3,1419) scale(0.895,1)" font-size="22" class="lb" text-anchor="middle" >Distance from telomere (Mb)</text>
<text x="0" y="0" font-size="23" class="lb" text-anchor="middle" transform="translate(1394,1082.2) rotate(-90) scale(0.872,1)">GC content</text>
<line x1="1073.8" y1="1237" x2="1111.1" y2="1237" stroke="#7f9e72" stroke-width="8.6" />
<line x1="1073.8" y1="1260.6" x2="1111.1" y2="1260.6" stroke="#c0392b" stroke-width="6.6" />
<text transform="translate(1119.3,1241.8) scale(0.88,1)" font-size="16.4" class="lg" text-anchor="start" >Chromosomes average</text>
<text transform="translate(1119.3,1264.4) scale(0.88,1)" font-size="16.4" class="lg" text-anchor="start" >Polynomial fit</text>
<text transform="translate(1119.3,1286.5) scale(0.88,1)" font-size="16.4" class="lg" text-anchor="start" >R² = 0.85</text>
<polyline points="1521.0,939.9 1521.4,939.9 1521.4,907.8 1521.8,907.8 1521.8,927.3 1522.2,927.3 1522.2,953.2 1522.6,953.2 1522.6,973.0 1522.9,973.0 1522.9,928.9 1523.3,928.9 1523.3,936.5 1523.7,936.5 1523.7,942.1 1524.1,942.1 1524.1,932.6 1524.5,932.6 1524.5,924.6 1524.9,924.6 1524.9,885.3 1525.3,885.3 1525.3,942.8 1525.7,942.8 1525.7,934.3 1526.1,934.3 1526.1,971.6 1526.5,971.6 1526.5,930.4 1526.8,930.4 1526.8,952.0 1527.2,952.0 1527.2,937.7 1527.6,937.7 1527.6,930.3 1528.0,930.3 1528.0,924.0 1528.4,924.0 1528.4,935.2 1528.8,935.2 1528.8,956.6 1529.2,956.6 1529.2,922.8 1529.6,922.8 1529.6,923.6 1530.0,923.6 1530.0,927.0 1530.4,927.0 1530.4,905.2 1530.7,905.2 1530.7,906.1 1531.1,906.1 1531.1,921.3 1531.5,921.3 1531.5,900.8 1531.9,900.8 1531.9,944.8 1532.3,944.8 1532.3,920.8 1532.7,920.8 1532.7,913.0 1533.1,913.0 1533.1,922.9 1533.5,922.9 1533.5,923.8 1533.9,923.8 1533.9,950.1 1534.3,950.1 1534.3,923.9 1534.6,923.9 1534.6,925.4 1535.0,925.4 1535.0,928.2 1535.4,928.2 1535.4,897.5 1535.8,897.5 1535.8,908.7 1536.2,908.7 1536.2,909.7 1536.6,909.7 1536.6,913.8 1537.0,913.8 1537.0,898.0 1537.4,898.0 1537.4,907.2 1537.8,907.2 1537.8,922.4 1538.2,922.4 1538.2,924.1 1538.5,924.1 1538.5,913.0 1538.9,913.0 1538.9,889.3 1539.3,889.3 1539.3,886.8 1539.7,886.8 1539.7,913.2 1540.1,913.2 1540.1,895.2 1540.5,895.2 1540.5,899.9 1540.9,899.9 1540.9,916.4 1541.3,916.4 1541.3,927.5 1541.7,927.5 1541.7,908.8 1542.1,908.8 1542.1,913.0 1542.4,913.0 1542.4,945.7 1542.8,945.7 1542.8,904.3 1543.2,904.3 1543.2,905.6 1543.6,905.6 1543.6,906.6 1544.0,906.6 1544.0,916.4 1544.4,916.4 1544.4,915.9 1544.8,915.9 1544.8,895.9 1545.2,895.9 1545.2,904.6 1545.6,904.6 1545.6,929.3 1546.0,929.3 1546.0,894.3 1546.3,894.3 1546.3,926.8 1546.7,926.8 1546.7,907.6 1547.1,907.6 1547.1,917.0 1547.5,917.0 1547.5,910.9 1547.9,910.9 1547.9,892.5 1548.3,892.5 1548.3,897.2 1548.7,897.2 1548.7,824.7 1549.1,824.7 1549.1,925.0 1549.5,925.0 1549.5,913.6 1549.9,913.6 1549.9,898.4 1550.2,898.4 1550.2,913.0 1550.6,913.0 1550.6,910.3 1551.0,910.3 1551.0,914.7 1551.4,914.7 1551.4,909.4 1551.8,909.4 1551.8,901.2 1552.2,901.2 1552.2,876.8 1552.6,876.8 1552.6,907.8 1553.0,907.8 1553.0,919.2 1553.4,919.2 1553.4,912.7 1553.8,912.7 1553.8,909.0 1554.1,909.0 1554.1,909.4 1554.5,909.4 1554.5,846.3 1554.9,846.3 1554.9,919.7 1555.3,919.7 1555.3,913.6 1555.7,913.6 1555.7,909.7 1556.1,909.7 1556.1,903.9 1556.5,903.9 1556.5,932.8 1556.9,932.8 1556.9,909.6 1557.3,909.6 1557.3,911.9 1557.7,911.9 1557.7,917.3 1558.0,917.3 1558.0,946.9 1558.4,946.9 1558.4,901.5 1558.8,901.5 1558.8,925.4 1559.2,925.4 1559.2,913.6 1559.6,913.6 1559.6,918.6 1560.0,918.6 1560.0,947.7 1560.4,947.7 1560.4,919.0 1560.8,919.0 1560.8,916.8 1561.2,916.8 1561.2,920.4 1561.6,920.4 1561.6,938.6 1561.9,938.6 1561.9,917.5 1562.3,917.5 1562.3,912.7 1562.7,912.7 1562.7,922.9 1563.1,922.9 1563.1,874.5 1563.5,874.5 1563.5,933.9 1563.9,933.9 1563.9,922.6 1564.3,922.6 1564.3,934.4 1564.7,934.4 1564.7,906.5 1565.1,906.5 1565.1,953.4 1565.5,953.4 1565.5,913.4 1565.8,913.4 1565.8,918.7 1566.2,918.7 1566.2,932.2 1566.6,932.2 1566.6,906.9 1567.0,906.9 1567.0,911.7 1567.4,911.7 1567.4,877.9 1567.8,877.9 1567.8,948.6 1568.2,948.6 1568.2,921.7 1568.6,921.7 1568.6,904.8 1569.0,904.8 1569.0,939.1 1569.4,939.1 1569.4,938.4 1569.7,938.4 1569.7,893.9 1570.1,893.9 1570.1,933.1 1570.5,933.1 1570.5,977.0 1570.9,977.0 1570.9,933.9 1571.3,933.9 1571.3,921.4 1571.7,921.4 1571.7,925.5 1572.1,925.5 1572.1,923.4 1572.5,923.4 1572.5,891.9 1572.9,891.9 1572.9,927.0 1573.3,927.0 1573.3,937.4 1573.7,937.4 1573.7,917.3 1574.0,917.3 1574.0,908.0 1574.4,908.0 1574.4,908.6 1574.8,908.6 1574.8,920.5 1575.2,920.5 1575.2,910.6 1575.6,910.6 1575.6,915.9 1576.0,915.9 1576.0,907.7 1576.4,907.7 1576.4,907.8 1576.8,907.8 1576.8,935.9 1577.2,935.9 1577.2,895.7 1577.6,895.7 1577.6,901.6 1577.9,901.6 1577.9,924.2 1578.3,924.2 1578.3,896.4 1578.7,896.4 1578.7,904.2 1579.1,904.2 1579.1,924.3 1579.5,924.3 1579.5,920.6 1579.9,920.6 1579.9,922.3 1580.3,922.3 1580.3,915.6 1580.7,915.6 1580.7,919.2 1581.1,919.2 1581.1,896.3 1581.5,896.3 1581.5,913.8 1581.8,913.8 1581.8,924.7 1582.2,924.7 1582.2,906.0 1582.6,906.0 1582.6,924.5 1583.0,924.5 1583.0,911.5 1583.4,911.5 1583.4,956.3 1583.8,956.3 1583.8,928.3 1584.2,928.3 1584.2,896.3 1584.6,896.3 1584.6,897.4 1585.0,897.4 1585.0,931.0 1585.4,931.0 1585.4,923.3 1585.7,923.3 1585.7,923.2 1586.1,923.2 1586.1,898.9 1586.5,898.9 1586.5,938.4 1586.9,938.4 1586.9,962.7 1587.3,962.7 1587.3,916.1 1587.7,916.1 1587.7,929.2 1588.1,929.2 1588.1,936.6 1588.5,936.6 1588.5,897.6 1588.9,897.6 1588.9,929.0 1589.3,929.0 1589.3,902.6 1589.6,902.6 1589.6,933.4 1590.0,933.4 1590.0,938.1 1590.4,938.1 1590.4,929.3 1590.8,929.3 1590.8,890.5 1591.2,890.5 1591.2,920.8 1591.6,920.8 1591.6,931.4 1592.0,931.4 1592.0,940.7 1592.4,940.7 1592.4,872.1 1592.8,872.1 1592.8,894.5 1593.2,894.5 1593.2,921.8 1593.5,921.8 1593.5,925.6 1593.9,925.6 1593.9,932.3 1594.3,932.3 1594.3,929.8 1594.7,929.8 1594.7,920.7 1595.1,920.7 1595.1,913.2 1595.5,913.2 1595.5,896.1 1595.9,896.1 1595.9,950.6 1596.3,950.6 1596.3,933.6 1596.7,933.6 1596.7,911.9 1597.1,911.9 1597.1,932.3 1597.4,932.3 1597.4,931.7 1597.8,931.7 1597.8,915.0 1598.2,915.0 1598.2,932.5 1598.6,932.5 1598.6,923.8 1599.0,923.8 1599.0,912.0 1599.4,912.0 1599.4,953.9 1599.8,953.9 1599.8,915.6 1600.2,915.6 1600.2,894.0 1600.6,894.0 1600.6,928.7 1601.0,928.7 1601.0,932.0 1601.3,932.0 1601.3,927.5 1601.7,927.5 1601.7,912.2 1602.1,912.2 1602.1,910.4 1602.5,910.4 1602.5,937.3 1602.9,937.3 1602.9,901.2 1603.3,901.2 1603.3,909.3 1603.7,909.3 1603.7,913.4 1604.1,913.4 1604.1,923.0 1604.5,923.0 1604.5,958.4 1604.9,958.4 1604.9,916.9 1605.2,916.9 1605.2,902.2 1605.6,902.2 1605.6,922.0 1606.0,922.0 1606.0,900.9 1606.4,900.9 1606.4,868.0 1606.8,868.0 1606.8,894.0 1607.2,894.0 1607.2,932.5 1607.6,932.5 1607.6,929.9 1608.0,929.9 1608.0,944.1 1608.4,944.1 1608.4,907.5 1608.8,907.5 1608.8,922.5 1609.1,922.5 1609.1,904.3 1609.5,904.3 1609.5,913.6 1609.9,913.6 1609.9,925.9 1610.3,925.9 1610.3,915.4 1610.7,915.4 1610.7,931.1 1611.1,931.1 1611.1,943.6 1611.5,943.6 1611.5,916.5 1611.9,916.5 1611.9,939.4 1612.3,939.4 1612.3,920.3 1612.7,920.3 1612.7,922.6 1613.0,922.6 1613.0,923.6 1613.4,923.6 1613.4,911.4 1613.8,911.4 1613.8,914.5 1614.2,914.5 1614.2,933.4 1614.6,933.4 1614.6,931.4 1615.0,931.4 1615.0,910.3 1615.4,910.3 1615.4,962.4 1615.8,962.4 1615.8,942.4 1616.2,942.4 1616.2,924.6 1616.6,924.6 1616.6,927.4 1616.9,927.4 1616.9,950.9 1617.3,950.9 1617.3,918.9 1617.7,918.9 1617.7,924.4 1618.1,924.4 1618.1,888.0 1618.5,888.0 1618.5,936.9 1618.9,936.9 1618.9,913.6 1619.3,913.6 1619.3,957.5 1619.7,957.5 1619.7,906.2 1620.1,906.2 1620.1,908.6 1620.5,908.6 1620.5,916.9 1620.9,916.9 1620.9,925.4 1621.2,925.4 1621.2,897.8 1621.6,897.8 1621.6,930.5 1622.0,930.5 1622.0,903.3 1622.4,903.3 1622.4,921.9 1622.8,921.9 1622.8,938.3 1623.2,938.3 1623.2,910.2 1623.6,910.2 1623.6,948.5 1624.0,948.5 1624.0,919.4 1624.4,919.4 1624.4,920.9 1624.8,920.9 1624.8,939.2 1625.1,939.2 1625.1,921.1 1625.5,921.1 1625.5,968.5 1625.9,968.5 1625.9,905.6 1626.3,905.6 1626.3,933.0 1626.7,933.0 1626.7,937.0 1627.1,937.0 1627.1,969.7 1627.5,969.7 1627.5,932.1 1627.9,932.1 1627.9,907.5 1628.3,907.5 1628.3,920.2 1628.7,920.2 1628.7,863.5 1629.0,863.5 1629.0,927.6 1629.4,927.6 1629.4,931.4 1629.8,931.4 1629.8,913.2 1630.2,913.2 1630.2,927.0 1630.6,927.0 1630.6,894.0 1631.0,894.0 1631.0,926.2 1631.4,926.2 1631.4,915.6 1631.8,915.6 1631.8,889.2 1632.2,889.2 1632.2,923.5 1632.6,923.5 1632.6,915.9 1632.9,915.9 1632.9,926.0 1633.3,926.0 1633.3,925.0 1633.7,925.0 1633.7,924.4 1634.1,924.4 1634.1,912.8 1634.5,912.8 1634.5,891.9 1634.9,891.9 1634.9,931.7 1635.3,931.7 1635.3,900.7 1635.7,900.7 1635.7,926.6 1636.1,926.6 1636.1,918.1 1636.5,918.1 1636.5,901.5 1636.8,901.5 1636.8,927.7 1637.2,927.7 1637.2,905.2 1637.6,905.2 1637.6,911.7 1638.0,911.7 1638.0,874.7 1638.4,874.7 1638.4,908.8 1638.8,908.8 1638.8,927.7 1639.2,927.7 1639.2,906.5 1639.6,906.5 1639.6,896.3 1640.0,896.3 1640.0,922.6 1640.4,922.6 1640.4,920.6 1640.7,920.6 1640.7,953.9 1641.1,953.9 1641.1,956.9 1641.5,956.9 1641.5,927.4 1641.9,927.4 1641.9,943.5 1642.3,943.5 1642.3,934.2 1642.7,934.2 1642.7,939.6 1643.1,939.6 1643.1,917.5 1643.5,917.5 1643.5,939.8 1643.9,939.8 1643.9,911.7 1644.3,911.7 1644.3,910.0 1644.6,910.0 1644.6,915.3 1645.0,915.3 1645.0,919.6 1645.4,919.6 1645.4,899.6 1645.8,899.6 1645.8,925.3 1646.2,925.3 1646.2,904.8 1646.6,904.8 1646.6,885.5 1647.0,885.5 1647.0,929.8 1647.4,929.8 1647.4,927.6 1647.8,927.6 1647.8,940.8 1648.2,940.8 1648.2,913.3 1648.5,913.3 1648.5,912.1 1648.9,912.1 1648.9,946.7 1649.3,946.7 1649.3,908.3 1649.7,908.3 1649.7,939.9 1650.1,939.9 1650.1,948.4 1650.5,948.4 1650.5,920.3 1650.9,920.3 1650.9,937.1 1651.3,937.1 1651.3,945.4 1651.7,945.4 1651.7,931.6 1652.1,931.6 1652.1,908.0 1652.4,908.0 1652.4,917.9 1652.8,917.9 1652.8,920.0 1653.2,920.0 1653.2,904.8 1653.6,904.8 1653.6,919.2 1654.0,919.2 1654.0,931.1 1654.4,931.1 1654.4,919.3 1654.8,919.3 1654.8,915.3 1655.2,915.3 1655.2,921.4 1655.6,921.4 1655.6,921.8 1656.0,921.8 1656.0,940.5 1656.3,940.5 1656.3,926.2 1656.7,926.2 1656.7,928.5 1657.1,928.5 1657.1,904.4 1657.5,904.4 1657.5,929.7 1657.9,929.7 1657.9,917.8 1658.3,917.8 1658.3,885.4 1658.7,885.4 1658.7,956.0 1659.1,956.0 1659.1,926.7 1659.5,926.7 1659.5,926.0 1659.9,926.0 1659.9,875.2 1660.2,875.2 1660.2,939.2 1660.6,939.2 1660.6,923.0 1661.0,923.0 1661.0,940.0 1661.4,940.0 1661.4,917.1 1661.8,917.1 1661.8,911.6 1662.2,911.6 1662.2,918.7 1662.6,918.7 1662.6,919.0 1663.0,919.0 1663.0,920.4 1663.4,920.4 1663.4,921.8 1663.8,921.8 1663.8,916.9 1664.1,916.9 1664.1,920.7 1664.5,920.7 1664.5,930.7 1664.9,930.7 1664.9,904.0 1665.3,904.0 1665.3,952.2 1665.7,952.2 1665.7,954.2 1666.1,954.2 1666.1,896.1 1666.5,896.1 1666.5,922.3 1666.9,922.3 1666.9,1002.8 1667.3,1002.8 1667.3,954.0 1667.7,954.0 1667.7,931.8 1668.0,931.8 1668.0,926.1 1668.4,926.1 1668.4,932.2 1668.8,932.2 1668.8,920.1 1669.2,920.1 1669.2,948.0 1669.6,948.0 1669.6,929.4 1670.0,929.4 1670.0,915.2 1670.4,915.2 1670.4,916.9 1670.8,916.9 1670.8,948.9 1671.2,948.9 1671.2,918.1 1671.6,918.1 1671.6,930.6 1672.0,930.6 1672.0,923.3 1672.3,923.3 1672.3,946.7 1672.7,946.7 1672.7,916.4 1673.1,916.4 1673.1,917.8 1673.5,917.8 1673.5,902.2 1673.9,902.2 1673.9,920.5 1674.3,920.5 1674.3,956.8 1674.7,956.8 1674.7,917.5 1675.1,917.5 1675.1,930.2 1675.5,930.2 1675.5,917.0 1675.9,917.0 1675.9,931.7 1676.2,931.7 1676.2,907.9 1676.6,907.9 1676.6,927.0 1677.0,927.0 1677.0,932.5 1677.4,932.5 1677.4,915.9 1677.8,915.9 1677.8,914.6 1678.2,914.6 1678.2,941.4 1678.6,941.4 1678.6,922.7 1679.0,922.7 1679.0,931.1 1679.4,931.1 1679.4,908.2 1679.8,908.2 1679.8,890.1 1680.1,890.1 1680.1,909.9 1680.5,909.9 1680.5,950.5 1680.9,950.5 1680.9,917.6 1681.3,917.6 1681.3,963.7 1681.7,963.7 1681.7,919.5 1682.1,919.5 1682.1,914.7 1682.5,914.7 1682.5,926.1 1682.9,926.1 1682.9,878.5 1683.3,878.5 1683.3,892.0 1683.7,892.0 1683.7,918.6 1684.0,918.6 1684.0,936.2 1684.4,936.2 1684.4,929.2 1684.8,929.2 1684.8,930.0 1685.2,930.0 1685.2,934.9 1685.6,934.9 1685.6,917.3 1686.0,917.3 1686.0,938.0 1686.4,938.0 1686.4,919.7 1686.8,919.7 1686.8,895.2 1687.2,895.2 1687.2,922.0 1687.6,922.0 1687.6,929.3 1687.9,929.3 1687.9,927.9 1688.3,927.9 1688.3,944.1 1688.7,944.1 1688.7,926.6 1689.1,926.6 1689.1,929.6 1689.5,929.6 1689.5,917.3 1689.9,917.3 1689.9,924.2 1690.3,924.2 1690.3,893.3 1690.7,893.3 1690.7,896.3 1691.1,896.3 1691.1,919.1 1691.5,919.1 1691.5,934.6 1691.8,934.6 1691.8,925.4 1692.2,925.4 1692.2,930.5 1692.6,930.5 1692.6,917.4 1693.0,917.4 1693.0,912.3 1693.4,912.3 1693.4,947.7 1693.8,947.7 1693.8,939.7 1694.2,939.7 1694.2,932.8 1694.6,932.8 1694.6,935.9 1695.0,935.9 1695.0,938.6 1695.4,938.6 1695.4,934.1 1695.7,934.1 1695.7,963.1 1696.1,963.1 1696.1,947.7 1696.5,947.7 1696.5,945.1 1696.9,945.1 1696.9,920.6 1697.3,920.6 1697.3,932.6 1697.7,932.6 1697.7,948.3 1698.1,948.3 1698.1,918.6 1698.5,918.6 1698.5,940.5 1698.9,940.5 1698.9,943.9 1699.3,943.9 1699.3,958.3 1699.6,958.3 1699.6,931.7 1700.0,931.7 1700.0,921.1 1700.4,921.1 1700.4,919.3 1700.8,919.3 1700.8,948.4 1701.2,948.4 1701.2,935.3 1701.6,935.3 1701.6,949.6 1702.0,949.6 1702.0,942.0 1702.4,942.0 1702.4,897.7 1702.8,897.7 1702.8,934.1 1703.2,934.1 1703.2,944.2 1703.5,944.2 1703.5,931.7 1703.9,931.7 1703.9,948.7 1704.3,948.7 1704.3,924.9 1704.7,924.9 1704.7,928.6 1705.1,928.6 1705.1,964.0 1705.5,964.0 1705.5,929.1 1705.9,929.1 1705.9,938.7 1706.3,938.7 1706.3,933.9 1706.7,933.9 1706.7,910.4 1707.1,910.4 1707.1,962.8 1707.4,962.8 1707.4,922.9 1707.8,922.9 1707.8,951.2 1708.2,951.2 1708.2,935.9 1708.6,935.9 1708.6,970.0 1709.0,970.0 1709.0,901.0 1709.4,901.0 1709.4,927.0 1709.8,927.0 1709.8,944.7 1710.2,944.7 1710.2,947.3 1710.6,947.3 1710.6,927.1 1711.0,927.1 1711.0,947.3 1711.3,947.3 1711.3,934.9 1711.7,934.9 1711.7,946.7 1712.1,946.7 1712.1,998.8 1712.5,998.8 1712.5,958.2 1712.9,958.2 1712.9,961.5 1713.3,961.5 1713.3,948.0 1713.7,948.0 1713.7,930.3 1714.1,930.3 1714.1,940.6 1714.5,940.6 1714.5,973.0 1714.9,973.0 1714.9,952.7 1715.2,952.7 1715.2,947.9 1715.6,947.9 1715.6,957.7 1716.0,957.7 1716.0,946.7 1716.4,946.7 1716.4,931.9 1716.8,931.9 1716.8,959.2 1717.2,959.2 1717.2,972.4 1717.6,972.4 1717.6,969.2 1718.0,969.2 1718.0,966.4 1718.4,966.4 1718.4,958.1 1718.8,958.1 1718.8,946.3 1719.1,946.3 1719.1,934.3 1719.5,934.3 1719.5,986.4 1719.9,986.4 1719.9,946.0 1720.3,946.0 1720.3,923.7 1720.7,923.7 1720.7,977.3 1721.1,977.3 1721.1,976.4 1721.5,976.4 1721.5,985.3 1721.9,985.3 1721.9,942.4 1722.3,942.4 1722.3,972.7 1722.7,972.7 1722.7,999.3 1723.1,999.3 1723.1,959.6 1723.4,959.6 1723.4,958.5 1723.8,958.5 1723.8,971.8 1724.2,971.8 1724.2,961.2 1724.6,961.2 1724.6,933.2 1725.0,933.2 1725.0,961.5 1725.4,961.5 1725.4,974.3 1725.8,974.3 1725.8,1004.1 1726.2,1004.1 1726.2,974.3 1726.6,974.3 1726.6,1015.9 1727.0,1015.9 1727.0,987.9 1727.3,987.9 1727.3,967.3 1727.7,967.3 1727.7,986.9 1728.1,986.9 1728.1,971.8 1728.5,971.8 1728.5,971.8 1728.9,971.8 1728.9,954.9 1729.3,954.9 1729.3,947.8 1729.7,947.8 1729.7,965.2 1730.1,965.2 1730.1,964.0 1730.5,964.0 1730.5,963.9 1730.9,963.9 1730.9,1075.8 1731.2,1075.8 1731.2,992.6 1731.6,992.6 1731.6,976.9 1732.0,976.9 1732.0,986.5 1732.4,986.5 1732.4,965.8 1732.8,965.8 1732.8,977.9 1733.2,977.9 1733.2,989.0 1733.6,989.0 1733.6,995.1 1734.0,995.1 1734.0,985.4 1734.4,985.4 1734.4,1017.9 1734.8,1017.9 1734.8,985.2 1735.1,985.2 1735.1,997.8 1735.5,997.8 1735.5,995.2 1735.9,995.2 1735.9,1020.0 1736.3,1020.0 1736.3,1011.8 1736.7,1011.8 1736.7,1006.1 1737.1,1006.1 1737.1,1004.7 1737.5,1004.7 1737.5,1039.3 1737.9,1039.3 1737.9,1009.9 1738.3,1009.9 1738.3,1008.0 1738.7,1008.0 1738.7,1002.2 1739.0,1002.2 1739.0,1008.3 1739.4,1008.3 1739.4,1034.0 1739.8,1034.0 1739.8,1007.1 1740.2,1007.1 1740.2,1007.7 1740.6,1007.7 1740.6,1044.8 1741.0,1044.8 1741.0,1024.8 1741.4,1024.8 1741.4,1033.3 1741.8,1033.3 1741.8,1066.6 1742.2,1066.6 1742.2,1030.1 1742.6,1030.1 1742.6,1024.0 1742.9,1024.0 1742.9,1039.1 1743.3,1039.1 1743.3,1044.3 1743.7,1044.3 1743.7,1061.5 1744.1,1061.5 1744.1,1048.8 1744.5,1048.8 1744.5,1074.1 1744.9,1074.1 1744.9,1037.9 1745.3,1037.9 1745.3,1083.5 1745.7,1083.5 1745.7,1063.7 1746.1,1063.7 1746.1,1082.9 1746.5,1082.9 1746.5,1066.3 1746.8,1066.3 1746.8,1064.1 1747.2,1064.1 1747.2,1074.5 1747.6,1074.5 1747.6,1078.2 1748.0,1078.2 1748.0,1069.2 1748.4,1069.2 1748.4,1076.1 1748.8,1076.1 1748.8,1110.0 1749.2,1110.0 1749.2,1105.7 1749.6,1105.7 1749.6,1076.7 1750.0,1076.7 1750.0,1106.7 1750.4,1106.7 1750.4,1096.8 1750.7,1096.8 1750.7,1112.8 1751.1,1112.8 1751.1,1071.2 1751.5,1071.2 1751.5,1095.3 1751.9,1095.3 1751.9,1120.3 1752.3,1120.3 1752.3,1112.7 1752.7,1112.7 1752.7,1108.2 1753.1,1108.2 1753.1,1103.1 1753.5,1103.1 1753.5,1089.1 1753.9,1089.1 1753.9,1112.1 1754.3,1112.1 1754.3,1176.9 1754.6,1176.9 1754.6,1139.2 1755.0,1139.2 1755.0,1130.4 1755.4,1130.4 1755.4,1169.0 1755.8,1169.0 1755.8,1133.2 1756.2,1133.2 1756.2,1158.3 1756.6,1158.3 1756.6,1157.6 1757.0,1157.6 1757.0,1117.6 1757.4,1117.6 1757.4,1141.0 1757.8,1141.0 1757.8,1118.3 1758.2,1118.3 1758.2,1162.1 1758.5,1162.1 1758.5,1147.5 1758.9,1147.5 1758.9,1146.5 1759.3,1146.5 1759.3,1138.7 1759.7,1138.7 1759.7,1131.8 1760.1,1131.8 1760.1,1148.3 1760.5,1148.3 1760.5,1166.2 1760.9,1166.2 1760.9,1155.4 1761.3,1155.4 1761.3,1183.7 1761.7,1183.7 1761.7,1150.7 1762.1,1150.7 1762.1,1157.3 1762.4,1157.3 1762.4,1184.4 1762.8,1184.4 1762.8,1169.1 1763.2,1169.1 1763.2,1183.9 1763.6,1183.9 1763.6,1197.2 1764.0,1197.2 1764.0,1163.8 1764.4,1163.8 1764.4,1153.2 1764.8,1153.2 1764.8,1170.3 1765.2,1170.3 1765.2,1172.1 1765.6,1172.1 1765.6,1192.5 1766.0,1192.5 1766.0,1142.9 1766.3,1142.9 1766.3,1176.8 1766.7,1176.8 1766.7,1180.9 1767.1,1180.9 1767.1,1212.6 1767.5,1212.6 1767.5,1218.2 1767.9,1218.2 1767.9,1170.7 1768.3,1170.7 1768.3,1174.0 1768.7,1174.0 1768.7,1169.6 1769.1,1169.6 1769.1,1192.3 1769.5,1192.3 1769.5,1192.8 1769.9,1192.8 1769.9,1176.9 1770.3,1176.9 1770.3,1194.1 1770.6,1194.1 1770.6,1203.7 1771.0,1203.7 1771.0,1193.7 1771.4,1193.7 1771.4,1206.3 1771.8,1206.3 1771.8,1252.5 1772.2,1252.5 1772.2,1190.7 1772.6,1190.7 1772.6,1213.6 1773.0,1213.6 1773.0,1225.0 1773.4,1225.0 1773.4,1233.3 1773.8,1233.3 1773.8,1250.2 1774.2,1250.2 1774.2,1233.8 1774.5,1233.8 1774.5,1213.2 1774.9,1213.2 1774.9,1222.8 1775.3,1222.8 1775.3,1213.0 1775.7,1213.0 1775.7,1219.5 1776.1,1219.5 1776.1,1256.6 1776.5,1256.6 1776.5,1264.4 1776.9,1264.4 1776.9,1241.3 1777.3,1241.3 1777.3,1229.7 1777.7,1229.7 1777.7,1232.1 1778.1,1232.1 1778.1,1239.5 1778.4,1239.5 1778.4,1294.5 1778.8,1294.5 1778.8,1232.9 1779.2,1232.9 1779.2,1248.6 1779.6,1248.6 1779.6,1231.4 1780.0,1231.4 1780.0,1253.1 1780.4,1253.1 1780.4,1281.6 1780.8,1281.6 1780.8,1224.7 1781.2,1224.7 1781.2,1248.2 1781.6,1248.2 1781.6,1259.3 1782.0,1259.3 1782.0,1254.2 1782.3,1254.2 1782.3,1251.9 1782.7,1251.9 1782.7,1258.4 1783.1,1258.4 1783.1,1234.2 1783.5,1234.2 1783.5,1248.0 1783.9,1248.0 1783.9,1226.9 1784.3,1226.9 1784.3,1250.9 1784.7,1250.9 1784.7,1277.1 1785.1,1277.1 1785.1,1245.3 1785.5,1245.3 1785.5,1247.3 1785.9,1247.3 1785.9,1277.3 1786.2,1277.3 1786.2,1270.4 1786.6,1270.4 1786.6,1308.0 1787.0,1308.0 1787.0,1271.1 1787.4,1271.1 1787.4,1239.3 1787.8,1239.3 1787.8,1263.2 1788.2,1263.2 1788.2,1266.5 1788.6,1266.5 1788.6,1249.8 1789.0,1249.8 1789.0,1249.6 1789.4,1249.6 1789.4,1254.2 1789.8,1254.2 1789.8,1281.3 1790.1,1281.3 1790.1,1261.5 1790.5,1261.5 1790.5,1206.8 1790.9,1206.8 1790.9,1259.3 1791.3,1259.3 1791.3,1272.6 1791.7,1272.6 1791.7,1272.4 1792.1,1272.4 1792.1,1247.5 1792.5,1247.5 1792.5,1245.4 1792.9,1245.4 1792.9,1251.7 1793.3,1251.7 1793.3,1247.7 1793.7,1247.7 1793.7,1249.2 1794.0,1249.2 1794.0,1272.2 1794.4,1272.2 1794.4,1244.6 1794.8,1244.6 1794.8,1252.7 1795.2,1252.7 1795.2,1233.0 1795.6,1233.0 1795.6,1252.9 1796.0,1252.9 1796.0,1239.4 1796.4,1239.4 1796.4,1239.5 1796.8,1239.5 1796.8,1262.8 1797.2,1262.8 1797.2,1254.2 1797.6,1254.2 1797.6,1242.6 1797.9,1242.6 1797.9,1224.1 1798.3,1224.1 1798.3,1252.9 1798.7,1252.9 1798.7,1257.5 1799.1,1257.5 1799.1,1288.5 1799.5,1288.5 1799.5,1247.9 1799.9,1247.9 1799.9,1247.5 1800.3,1247.5 1800.3,1275.8 1800.7,1275.8 1800.7,1259.3 1801.1,1259.3 1801.1,1243.2 1801.5,1243.2 1801.5,1235.3 1801.8,1235.3 1801.8,1224.9 1802.2,1224.9 1802.2,1254.9 1802.6,1254.9 1802.6,1246.8 1803.0,1246.8 1803.0,1244.6 1803.4,1244.6 1803.4,1260.5 1803.8,1260.5 1803.8,1221.8 1804.2,1221.8 1804.2,1254.8 1804.6,1254.8 1804.6,1270.0 1805.0,1270.0 1805.0,1231.9 1805.4,1231.9 1805.4,1222.0 1805.7,1222.0 1805.7,1265.6 1806.1,1265.6 1806.1,1255.0 1806.5,1255.0 1806.5,1271.3 1806.9,1271.3 1806.9,1246.3 1807.3,1246.3 1807.3,1249.8 1807.7,1249.8 1807.7,1249.6 1808.1,1249.6 1808.1,1274.1 1808.5,1274.1 1808.5,1235.6 1808.9,1235.6 1808.9,1240.1 1809.3,1240.1 1809.3,1195.7 1809.6,1195.7 1809.6,1230.6 1810.0,1230.6 1810.0,1269.9 1810.4,1269.9 1810.4,1245.2 1810.8,1245.2 1810.8,1287.6 1811.2,1287.6 1811.2,1224.5 1811.6,1224.5 1811.6,1240.9 1812.0,1240.9 1812.0,1243.7 1812.4,1243.7 1812.4,1259.2 1812.8,1259.2 1812.8,1239.9 1813.2,1239.9 1813.2,1252.7 1813.5,1252.7 1813.5,1253.9 1813.9,1253.9 1813.9,1254.8 1814.3,1254.8 1814.3,1262.8 1814.7,1262.8 1814.7,1251.8 1815.1,1251.8 1815.1,1283.2 1815.5,1283.2 1815.5,1235.8 1815.9,1235.8 1815.9,1251.9 1816.3,1251.9 1816.3,1251.1 1816.7,1251.1 1816.7,1248.0 1817.1,1248.0 1817.1,1248.9 1817.4,1248.9 1817.4,1239.2 1817.8,1239.2 1817.8,1256.4 1818.2,1256.4 1818.2,1233.8 1818.6,1233.8 1818.6,1228.9 1819.0,1228.9 1819.0,1231.4 1819.4,1231.4 1819.4,1229.3 1819.8,1229.3 1819.8,1243.2 1820.2,1243.2 1820.2,1236.1 1820.6,1236.1 1820.6,1237.7 1821.0,1237.7 1821.0,1215.5 1821.4,1215.5 1821.4,1215.4 1821.7,1215.4 1821.7,1234.7 1822.1,1234.7 1822.1,1207.7 1822.5,1207.7 1822.5,1223.3 1822.9,1223.3 1822.9,1195.7 1823.3,1195.7 1823.3,1199.3 1823.7,1199.3 1823.7,1245.3 1824.1,1245.3 1824.1,1181.2 1824.5,1181.2 1824.5,1185.7 1824.9,1185.7 1824.9,1212.0 1825.3,1212.0 1825.3,1184.2 1825.6,1184.2 1825.6,1178.4 1826.0,1178.4 1826.0,1174.8 1826.4,1174.8 1826.4,1196.4 1826.8,1196.4 1826.8,1186.1 1827.2,1186.1 1827.2,1203.9 1827.6,1203.9 1827.6,1175.5 1828.0,1175.5 1828.0,1167.1 1828.4,1167.1 1828.4,1195.4 1828.8,1195.4 1828.8,1147.9 1829.2,1147.9 1829.2,1173.4 1829.5,1173.4 1829.5,1149.1 1829.9,1149.1 1829.9,1159.6 1830.3,1159.6 1830.3,1159.1 1830.7,1159.1 1830.7,1152.3 1831.1,1152.3 1831.1,1143.0 1831.5,1143.0 1831.5,1150.4 1831.9,1150.4 1831.9,1151.3 1832.3,1151.3 1832.3,1137.7 1832.7,1137.7 1832.7,1111.8 1833.1,1111.8 1833.1,1129.6 1833.4,1129.6 1833.4,1141.1 1833.8,1141.1 1833.8,1127.0 1834.2,1127.0 1834.2,1108.9 1834.6,1108.9 1834.6,1117.8 1835.0,1117.8 1835.0,1120.8 1835.4,1120.8 1835.4,1089.1 1835.8,1089.1 1835.8,1096.5 1836.2,1096.5 1836.2,1105.3 1836.6,1105.3 1836.6,1107.1 1837.0,1107.1 1837.0,1080.9 1837.3,1080.9 1837.3,1086.7 1837.7,1086.7 1837.7,1074.6 1838.1,1074.6 1838.1,1068.4 1838.5,1068.4 1838.5,1079.5 1838.9,1079.5 1838.9,1027.6 1839.3,1027.6 1839.3,1054.0 1839.7,1054.0 1839.7,1048.2 1840.1,1048.2 1840.1,1060.6 1840.5,1060.6 1840.5,1057.8 1840.9,1057.8 1840.9,1052.6 1841.2,1052.6 1841.2,1039.7 1841.6,1039.7 1841.6,1044.1 1842.0,1044.1 1842.0,1022.6 1842.4,1022.6 1842.4,1020.9 1842.8,1020.9 1842.8,1023.2 1843.2,1023.2 1843.2,1023.0 1843.6,1023.0 1843.6,1030.5 1844.0,1030.5 1844.0,1047.2 1844.4,1047.2 1844.4,1032.7 1844.8,1032.7 1844.8,1048.8 1845.1,1048.8 1845.1,1002.5 1845.5,1002.5 1845.5,1017.6 1845.9,1017.6 1845.9,1017.0 1846.3,1017.0 1846.3,1022.2 1846.7,1022.2 1846.7,996.8 1847.1,996.8 1847.1,1005.2 1847.5,1005.2 1847.5,1016.9 1847.9,1016.9 1847.9,992.6 1848.3,992.6 1848.3,1003.2 1848.7,1003.2 1848.7,996.6 1849.0,996.6 1849.0,993.5 1849.4,993.5 1849.4,994.4 1849.8,994.4 1849.8,978.6 1850.2,978.6 1850.2,998.4 1850.6,998.4 1850.6,994.5 1851.0,994.5 1851.0,999.1 1851.4,999.1 1851.4,988.9 1851.8,988.9 1851.8,954.9 1852.2,954.9 1852.2,991.0 1852.6,991.0 1852.6,1017.8 1852.9,1017.8 1852.9,974.6 1853.3,974.6 1853.3,972.8 1853.7,972.8 1853.7,995.1 1854.1,995.1 1854.1,1009.0 1854.5,1009.0 1854.5,1001.2 1854.9,1001.2 1854.9,967.1 1855.3,967.1 1855.3,984.5 1855.7,984.5 1855.7,974.5 1856.1,974.5 1856.1,987.2 1856.5,987.2 1856.5,967.3 1856.8,967.3 1856.8,975.0 1857.2,975.0 1857.2,955.0 1857.6,955.0 1857.6,971.1 1858.0,971.1 1858.0,974.6 1858.4,974.6 1858.4,1001.3 1858.8,1001.3 1858.8,947.7 1859.2,947.7 1859.2,982.3 1859.6,982.3 1859.6,954.2 1860.0,954.2 1860.0,926.4 1860.4,926.4 1860.4,945.7 1860.7,945.7 1860.7,959.1 1861.1,959.1 1861.1,972.3 1861.5,972.3 1861.5,1031.8 1861.9,1031.8 1861.9,979.9 1862.3,979.9 1862.3,970.5 1862.7,970.5 1862.7,1002.9 1863.1,1002.9 1863.1,980.0 1863.5,980.0 1863.5,954.3 1863.9,954.3 1863.9,963.3 1864.3,963.3 1864.3,983.7 1864.6,983.7 1864.6,967.2 1865.0,967.2 1865.0,961.1 1865.4,961.1 1865.4,968.9 1865.8,968.9 1865.8,959.5 1866.2,959.5 1866.2,953.2 1866.6,953.2 1866.6,955.5 1867.0,955.5 1867.0,932.0 1867.4,932.0 1867.4,975.2 1867.8,975.2 1867.8,952.8 1868.2,952.8 1868.2,970.5 1868.6,970.5 1868.6,952.1 1868.9,952.1 1868.9,983.8 1869.3,983.8 1869.3,958.5 1869.7,958.5 1869.7,970.7 1870.1,970.7 1870.1,961.6 1870.5,961.6 1870.5,968.2 1870.9,968.2 1870.9,993.4 1871.3,993.4 1871.3,963.5 1871.7,963.5 1871.7,932.4 1872.1,932.4 1872.1,962.5 1872.5,962.5 1872.5,917.1 1872.8,917.1 1872.8,949.2 1873.2,949.2 1873.2,1025.7 1873.6,1025.7 1873.6,956.1 1874.0,956.1 1874.0,975.8 1874.4,975.8 1874.4,964.6 1874.8,964.6 1874.8,957.5 1875.2,957.5 1875.2,937.9 1875.6,937.9 1875.6,968.3 1876.0,968.3 1876.0,925.2 1876.4,925.2 1876.4,935.9 1876.7,935.9 1876.7,953.7 1877.1,953.7 1877.1,947.5 1877.5,947.5 1877.5,962.5 1877.9,962.5 1877.9,944.3 1878.3,944.3 1878.3,941.3 1878.7,941.3 1878.7,934.6 1879.1,934.6 1879.1,962.6 1879.5,962.6 1879.5,964.7 1879.9,964.7 1879.9,941.0 1880.3,941.0 1880.3,946.6 1880.6,946.6 1880.6,987.7 1881.0,987.7 1881.0,949.2 1881.4,949.2 1881.4,950.0 1881.8,950.0 1881.8,955.6 1882.2,955.6 1882.2,951.2 1882.6,951.2 1882.6,946.9 1883.0,946.9 1883.0,940.1 1883.4,940.1 1883.4,937.0 1883.8,937.0 1883.8,992.7 1884.2,992.7 1884.2,945.4 1884.5,945.4 1884.5,973.8 1884.9,973.8 1884.9,946.0 1885.3,946.0 1885.3,949.4 1885.7,949.4 1885.7,943.8 1886.1,943.8 1886.1,871.3 1886.5,871.3 1886.5,957.4 1886.9,957.4 1886.9,946.0 1887.3,946.0 1887.3,950.2 1887.7,950.2 1887.7,886.9 1888.1,886.9 1888.1,959.3 1888.4,959.3 1888.4,915.9 1888.8,915.9 1888.8,955.0 1889.2,955.0 1889.2,956.3 1889.6,956.3 1889.6,944.8 1890.0,944.8 1890.0,963.8 1890.4,963.8 1890.4,945.9 1890.8,945.9 1890.8,952.3 1891.2,952.3 1891.2,943.4 1891.6,943.4 1891.6,952.1 1892.0,952.1 1892.0,934.2 1892.3,934.2 1892.3,958.9 1892.7,958.9 1892.7,945.1 1893.1,945.1 1893.1,933.6 1893.5,933.6 1893.5,940.1 1893.9,940.1 1893.9,945.6 1894.3,945.6 1894.3,952.8 1894.7,952.8 1894.7,935.0 1895.1,935.0 1895.1,901.9 1895.5,901.9 1895.5,933.5 1895.9,933.5 1895.9,920.1 1896.2,920.1 1896.2,929.7 1896.6,929.7 1896.6,937.1 1897.0,937.1 1897.0,946.2 1897.4,946.2 1897.4,937.9 1897.8,937.9 1897.8,963.9 1898.2,963.9 1898.2,941.9 1898.6,941.9 1898.6,919.4 1899.0,919.4 1899.0,954.6 1899.4,954.6 1899.4,929.0 1899.8,929.0 1899.8,941.2 1900.1,941.2 1900.1,981.8 1900.5,981.8 1900.5,946.6 1900.9,946.6 1900.9,960.0 1901.3,960.0 1901.3,944.1 1901.7,944.1 1901.7,920.3 1902.1,920.3 1902.1,873.5 1902.5,873.5 1902.5,926.2 1902.9,926.2 1902.9,940.7 1903.3,940.7 1903.3,927.9 1903.7,927.9 1903.7,899.3 1904.0,899.3 1904.0,948.9 1904.4,948.9 1904.4,948.0 1904.8,948.0 1904.8,927.5 1905.2,927.5 1905.2,914.3 1905.6,914.3 1905.6,940.3 1906.0,940.3 1906.0,917.4 1906.4,917.4 1906.4,906.9 1906.8,906.9 1906.8,916.5 1907.2,916.5 1907.2,949.9 1907.6,949.9 1907.6,940.5 1907.9,940.5 1907.9,972.0 1908.3,972.0 1908.3,955.2 1908.7,955.2 1908.7,931.2 1909.1,931.2 1909.1,974.6 1909.5,974.6 1909.5,927.6 1909.9,927.6 1909.9,924.5 1910.3,924.5 1910.3,946.7 1910.7,946.7 1910.7,940.0 1911.1,940.0 1911.1,885.7 1911.5,885.7 1911.5,924.2 1911.8,924.2 1911.8,947.9 1912.2,947.9 1912.2,952.2 1912.6,952.2 1912.6,917.7 1913.0,917.7 1913.0,917.3 1913.4,917.3 1913.4,925.0 1913.8,925.0 1913.8,897.0 1914.2,897.0 1914.2,918.4 1914.6,918.4 1914.6,930.4 1915.0,930.4 1915.0,919.6 1915.4,919.6 1915.4,903.5 1915.7,903.5 1915.7,943.2 1916.1,943.2 1916.1,937.4 1916.5,937.4 1916.5,921.4 1916.9,921.4 1916.9,902.3 1917.3,902.3 1917.3,906.8 1917.7,906.8 1917.7,920.9 1918.1,920.9 1918.1,928.9 1918.5,928.9 1918.5,907.0 1918.9,907.0 1918.9,892.8 1919.3,892.8 1919.3,912.5 1919.7,912.5 1919.7,915.5 1920.0,915.5 1920.0,928.5 1920.4,928.5 1920.4,917.2 1920.8,917.2 1920.8,893.1 1921.2,893.1 1921.2,921.4 1921.6,921.4 1921.6,918.4 1922.0,918.4 1922.0,936.6 1922.4,936.6 1922.4,935.9 1922.8,935.9 1922.8,911.8 1923.2,911.8 1923.2,918.3 1923.6,918.3 1923.6,967.7 1923.9,967.7 1923.9,904.0 1924.3,904.0 1924.3,919.9 1924.7,919.9 1924.7,898.5 1925.1,898.5 1925.1,928.6 1925.5,928.6 1925.5,928.2 1925.9,928.2 1925.9,923.5 1926.3,923.5 1926.3,918.8 1926.7,918.8 1926.7,919.7 1927.1,919.7 1927.1,911.8 1927.5,911.8 1927.5,900.3 1927.8,900.3 1927.8,901.9 1928.2,901.9 1928.2,928.1 1928.6,928.1 1928.6,942.2 1929.0,942.2 1929.0,904.3 1929.4,904.3 1929.4,923.3 1929.8,923.3 1929.8,923.9 1930.2,923.9 1930.2,910.1 1930.6,910.1 1930.6,932.3 1931.0,932.3 1931.0,914.0 1931.4,914.0 1931.4,909.8 1931.7,909.8 1931.7,900.2 1932.1,900.2 1932.1,919.5 1932.5,919.5 1932.5,941.0 1932.9,941.0 1932.9,922.2 1933.3,922.2 1933.3,905.2 1933.7,905.2 1933.7,918.9 1934.1,918.9 1934.1,925.2 1934.5,925.2 1934.5,912.0 1934.9,912.0 1934.9,918.0 1935.3,918.0 1935.3,916.1 1935.6,916.1 1935.6,933.5 1936.0,933.5 1936.0,912.7 1936.4,912.7 1936.4,909.9 1936.8,909.9 1936.8,896.2 1937.2,896.2 1937.2,915.0 1937.6,915.0 1937.6,922.3 1938.0,922.3 1938.0,914.2 1938.4,914.2 1938.4,952.2 1938.8,952.2 1938.8,931.9 1939.2,931.9 1939.2,904.5 1939.5,904.5 1939.5,905.2 1939.9,905.2 1939.9,933.7 1940.3,933.7 1940.3,937.7 1940.7,937.7 1940.7,933.1 1941.1,933.1 1941.1,915.7 1941.5,915.7 1941.5,921.2 1941.9,921.2 1941.9,915.5 1942.3,915.5 1942.3,913.6 1942.7,913.6 1942.7,932.3 1943.1,932.3 1943.1,911.8 1943.4,911.8 1943.4,949.5 1943.8,949.5 1943.8,902.9 1944.2,902.9 1944.2,929.6 1944.6,929.6 1944.6,935.8 1945.0,935.8 1945.0,874.1 1945.4,874.1 1945.4,944.2 1945.8,944.2 1945.8,938.2 1946.2,938.2 1946.2,928.9 1946.6,928.9 1946.6,931.3 1947.0,931.3 1947.0,941.3 1947.3,941.3 1947.3,934.1 1947.7,934.1 1947.7,940.9 1948.1,940.9 1948.1,914.1 1948.5,914.1 1948.5,971.9 1948.9,971.9 1948.9,941.6 1949.3,941.6 1949.3,918.6 1949.7,918.6 1949.7,920.2 1950.1,920.2 1950.1,922.4 1950.5,922.4 1950.5,917.8 1950.9,917.8 1950.9,911.9 1951.2,911.9 1951.2,932.0 1951.6,932.0 1951.6,892.5 1952.0,892.5 1952.0,945.0 1952.4,945.0 1952.4,910.7 1952.8,910.7 1952.8,939.3 1953.2,939.3 1953.2,948.3 1953.6,948.3 1953.6,908.5 1954.0,908.5 1954.0,906.8 1954.4,906.8 1954.4,953.2 1954.8,953.2 1954.8,925.7 1955.1,925.7 1955.1,912.3 1955.5,912.3 1955.5,908.3 1955.9,908.3 1955.9,942.8 1956.3,942.8 1956.3,935.7 1956.7,935.7 1956.7,909.1 1957.1,909.1 1957.1,906.4 1957.5,906.4 1957.5,924.2 1957.9,924.2 1957.9,940.0 1958.3,940.0 1958.3,908.0 1958.7,908.0 1958.7,931.8 1959.0,931.8 1959.0,930.2 1959.4,930.2 1959.4,898.5 1959.8,898.5 1959.8,927.4 1960.2,927.4 1960.2,921.6 1960.6,921.6 1960.6,906.7 1961.0,906.7 1961.0,939.1 1961.4,939.1 1961.4,913.3 1961.8,913.3 1961.8,905.5 1962.2,905.5 1962.2,888.6 1962.6,888.6 1962.6,901.3 1962.9,901.3 1962.9,915.0 1963.3,915.0 1963.3,927.4 1963.7,927.4 1963.7,911.8 1964.1,911.8 1964.1,931.1 1964.5,931.1 1964.5,920.0 1964.9,920.0 1964.9,942.7 1965.3,942.7 1965.3,938.1 1965.7,938.1 1965.7,891.6 1966.1,891.6 1966.1,902.0 1966.5,902.0 1966.5,921.3 1966.8,921.3 1966.8,945.6 1967.2,945.6 1967.2,914.3 1967.6,914.3 1967.6,959.0 1968.0,959.0 1968.0,939.1 1968.4,939.1 1968.4,917.9 1968.8,917.9 1968.8,925.6 1969.2,925.6 1969.2,939.2 1969.6,939.2 1969.6,917.7 1970.0,917.7 1970.0,961.7 1970.4,961.7 1970.4,914.3 1970.8,914.3 1970.8,904.2 1971.1,904.2 1971.1,916.3 1971.5,916.3 1971.5,922.2 1971.9,922.2 1971.9,923.8 1972.3,923.8 1972.3,914.9 1972.7,914.9 1972.7,915.3 1973.1,915.3 1973.1,945.7 1973.5,945.7 1973.5,914.7 1973.9,914.7 1973.9,920.7 1974.3,920.7 1974.3,921.8 1974.7,921.8 1974.7,890.1 1975.0,890.1 1975.0,920.9 1975.4,920.9 1975.4,926.3 1975.8,926.3 1975.8,924.8 1976.2,924.8 1976.2,949.4 1976.6,949.4 1976.6,926.6 1977.0,926.6 1977.0,909.2 1977.4,909.2 1977.4,930.0 1977.8,930.0 1977.8,911.7 1978.2,911.7 1978.2,904.3 1978.6,904.3 1978.6,939.1 1978.9,939.1 1978.9,928.6 1979.3,928.6 1979.3,905.5 1979.7,905.5 1979.7,936.5 1980.1,936.5 1980.1,903.0 1980.5,903.0 1980.5,879.2 1980.9,879.2 1980.9,903.7 1981.3,903.7 1981.3,935.8 1981.7,935.8 1981.7,923.8 1982.1,923.8 1982.1,908.1 1982.5,908.1 1982.5,903.6 1982.8,903.6 1982.8,881.2 1983.2,881.2 1983.2,913.4 1983.6,913.4 1983.6,923.1 1984.0,923.1 1984.0,942.7 1984.4,942.7 1984.4,910.4 1984.8,910.4 1984.8,942.3 1985.2,942.3 1985.2,938.9 1985.6,938.9 1985.6,916.1 1986.0,916.1 1986.0,947.1 1986.4,947.1 1986.4,975.8 1986.7,975.8 1986.7,940.4 1987.1,940.4 1987.1,906.7 1987.5,906.7 1987.5,918.0 1987.9,918.0 1987.9,920.9 1988.3,920.9 1988.3,937.1 1988.7,937.1 1988.7,914.6 1989.1,914.6 1989.1,920.8 1989.5,920.8 1989.5,848.5 1989.9,848.5 1989.9,942.3 1990.3,942.3 1990.3,893.9 1990.6,893.9 1990.6,931.5 1991.0,931.5 1991.0,944.1 1991.4,944.1 1991.4,931.2 1991.8,931.2 1991.8,928.8 1992.2,928.8 1992.2,933.9 1992.6,933.9 1992.6,936.8 1993.0,936.8 1993.0,913.2 1993.4,913.2 1993.4,919.7 1993.8,919.7 1993.8,896.4 1994.2,896.4 1994.2,948.3 1994.5,948.3 1994.5,919.2 1994.9,919.2 1994.9,958.1 1995.3,958.1 1995.3,936.2 1995.7,936.2 1995.7,889.6 1996.1,889.6 1996.1,939.7 1996.5,939.7 1996.5,908.8 1996.9,908.8 1996.9,926.8 1997.3,926.8 1997.3,933.7 1997.7,933.7 1997.7,916.8 1998.1,916.8 1998.1,933.5 1998.4,933.5 1998.4,954.2 1998.8,954.2 1998.8,936.2 1999.2,936.2 1999.2,919.7 1999.6,919.7 1999.6,930.9 2000.0,930.9 2000.0,939.9 2000.4,939.9 2000.4,949.8 2000.8,949.8 2000.8,934.5 2001.2,934.5 2001.2,968.2 2001.6,968.2 2001.6,929.0 2002.0,929.0 2002.0,905.9 2002.3,905.9 2002.3,936.5 2002.7,936.5 2002.7,941.8 2003.1,941.8 2003.1,877.4 2003.5,877.4 2003.5,930.8 2003.9,930.8 2003.9,923.6 2004.3,923.6 2004.3,912.8 2004.7,912.8 2004.7,889.1 2005.1,889.1 2005.1,921.3 2005.5,921.3 2005.5,943.4 2005.9,943.4 2005.9,897.1 2006.2,897.1 2006.2,932.3 2006.6,932.3 2006.6,924.3 2007.0,924.3 2007.0,925.2 2007.4,925.2 2007.4,930.4 2007.8,930.4 2007.8,930.4 2008.2,930.4 2008.2,884.2 2008.6,884.2 2008.6,918.7 2009.0,918.7 2009.0,913.9 2009.4,913.9 2009.4,933.6 2009.8,933.6 2009.8,934.8 2010.1,934.8 2010.1,954.8 2010.5,954.8 2010.5,927.2 2010.9,927.2 2010.9,908.7 2011.3,908.7 2011.3,918.7 2011.7,918.7 2011.7,919.1 2012.1,919.1 2012.1,917.0 2012.5,917.0 2012.5,935.5 2012.9,935.5 2012.9,909.3 2013.3,909.3 2013.3,920.3 2013.7,920.3 2013.7,923.7 2014.0,923.7 2014.0,921.6 2014.4,921.6 2014.4,921.4 2014.8,921.4 2014.8,917.4 2015.2,917.4 2015.2,948.3 2015.6,948.3 2015.6,930.9 2016.0,930.9 2016.0,960.1 2016.4,960.1 2016.4,1026.5 2016.8,1026.5 2016.8,941.0 2017.2,941.0 2017.2,934.0 2017.6,934.0 2017.6,932.7 2018.0,932.7 2018.0,941.2 2018.3,941.2 2018.3,933.3 2018.7,933.3 2018.7,917.8 2019.1,917.8 2019.1,931.9 2019.5,931.9 2019.5,902.4 2019.9,902.4 2019.9,930.5 2020.3,930.5 2020.3,914.1 2020.7,914.1 2020.7,924.1 2021.1,924.1 2021.1,947.4 2021.5,947.4 2021.5,934.5 2021.9,934.5 2021.9,904.7 2022.2,904.7 2022.2,871.3 2022.6,871.3 2022.6,913.1 2023.0,913.1 2023.0,977.8 2023.4,977.8 2023.4,900.8 2023.8,900.8 2023.8,896.1 2024.2,896.1 2024.2,908.4 2024.6,908.4 2024.6,943.9 2025.0,943.9 2025.0,918.9 2025.4,918.9 2025.4,923.5 2025.8,923.5 2025.8,944.5 2026.1,944.5 2026.1,905.7 2026.5,905.7 2026.5,948.4 2026.9,948.4 2026.9,919.4 2027.3,919.4 2027.3,964.1 2027.7,964.1 2027.7,948.9 2028.1,948.9 2028.1,939.3 2028.5,939.3 2028.5,928.0 2028.9,928.0 2028.9,935.0 2029.3,935.0 2029.3,929.8 2029.7,929.8 2029.7,929.1 2030.0,929.1 2030.0,981.4 2030.4,981.4 2030.4,944.1 2030.8,944.1 2030.8,944.6 2031.2,944.6 2031.2,953.0 2031.6,953.0 2031.6,938.3 2032.0,938.3 2032.0,933.9 2032.4,933.9 2032.4,945.7 2032.8,945.7 2032.8,930.5 2033.2,930.5 2033.2,922.4 2033.6,922.4 2033.6,946.5 2033.9,946.5 2033.9,870.8 2034.3,870.8 2034.3,961.9 2034.7,961.9 2034.7,959.6 2035.1,959.6 2035.1,940.7 2035.5,940.7 2035.5,945.6 2035.9,945.6 2035.9,929.8 2036.3,929.8 2036.3,928.9 2036.7,928.9 2036.7,966.7 2037.1,966.7 2037.1,970.5 2037.5,970.5 2037.5,935.8 2037.8,935.8 2037.8,920.8 2038.2,920.8 2038.2,893.4 2038.6,893.4 2038.6,942.5 2039.0,942.5 2039.0,941.8 2039.4,941.8 2039.4,962.2 2039.8,962.2 2039.8,941.2 2040.2,941.2 2040.2,930.7 2040.6,930.7 2040.6,936.9 2041.0,936.9 2041.0,980.4 2041.4,980.4 2041.4,927.6 2041.7,927.6 2041.7,944.1 2042.1,944.1 2042.1,944.1 2042.5,944.1 2042.5,933.7 2042.9,933.7 2042.9,926.8 2043.3,926.8 2043.3,928.7 2043.7,928.7 2043.7,951.1 2044.1,951.1 2044.1,946.5 2044.5,946.5 2044.5,939.9 2044.9,939.9 2044.9,953.5 2045.3,953.5 2045.3,915.1 2045.6,915.1 2045.6,933.9 2046.0,933.9 2046.0,911.9 2046.4,911.9 2046.4,949.1 2046.8,949.1 2046.8,905.5 2047.2,905.5 2047.2,953.0 2047.6,953.0 2047.6,933.5 2048.0,933.5 2048.0,942.7 2048.4,942.7 2048.4,938.5 2048.8,938.5 2048.8,940.1 2049.2,940.1 2049.2,933.3 2049.5,933.3 2049.5,924.8 2049.9,924.8 2049.9,940.7 2050.3,940.7 2050.3,941.7 2050.7,941.7 2050.7,1063.0 2051.1,1063.0 2051.1,941.9 2051.5,941.9 2051.5,931.2 2051.9,931.2 2051.9,935.4 2052.3,935.4 2052.3,945.3 2052.7,945.3 2052.7,932.0 2053.1,932.0 2053.1,929.7 2053.4,929.7 2053.4,918.1 2053.8,918.1 2053.8,940.6 2054.2,940.6 2054.2,928.7 2054.6,928.7 2054.6,937.3 2055.0,937.3 2055.0,958.9 2055.4,958.9 2055.4,950.5 2055.8,950.5 2055.8,942.2 2056.2,942.2 2056.2,939.6 2056.6,939.6 2056.6,908.5 2057.0,908.5 2057.0,935.5 2057.3,935.5 2057.3,921.5 2057.7,921.5 2057.7,971.1 2058.1,971.1 2058.1,938.1 2058.5,938.1 2058.5,932.4 2058.9,932.4 2058.9,897.7 2059.3,897.7 2059.3,884.4 2059.7,884.4 2059.7,924.3 2060.1,924.3 2060.1,940.1 2060.5,940.1 2060.5,915.3 2060.9,915.3 2060.9,913.4 2061.2,913.4 2061.2,925.3 2061.6,925.3 2061.6,912.0 2062.0,912.0 2062.0,931.1 2062.4,931.1 2062.4,935.0 2062.8,935.0 2062.8,929.2 2063.2,929.2 2063.2,929.1 2063.6,929.1 2063.6,968.5 2064.0,968.5 2064.0,934.3 2064.4,934.3 2064.4,946.1 2064.8,946.1 2064.8,935.2 2065.1,935.2 2065.1,936.6 2065.5,936.6 2065.5,957.5 2065.9,957.5 2065.9,916.5 2066.3,916.5 2066.3,915.9 2066.7,915.9 2066.7,923.8" fill="none" stroke="#7f9e72" stroke-width="1.8" stroke-linejoin="round" />
<line x1="1754.9" y1="788.4" x2="1754.9" y2="1378.5" stroke="#000" stroke-width="1.8" stroke-dasharray="6.4,5.3"/>
<line x1="1832.8" y1="788.4" x2="1832.8" y2="1378.5" stroke="#000" stroke-width="1.8" stroke-dasharray="6.4,5.3"/>
<text x="1793.8" y="945.5" font-size="7.6" class="ib" text-anchor="middle" textLength="76" lengthAdjust="spacingAndGlyphs">insulation boundary</text>
<line x1="1494" y1="787.5" x2="1494" y2="1378.5" stroke="#000" stroke-width="1.5" />
<line x1="1489.5" y1="1378.5" x2="1494" y2="1378.5" stroke="#000" stroke-width="1.1" />
<text transform="translate(1486.5,1385.5) scale(0.908,1)" font-size="18.4" class="tk" text-anchor="end" >0.425</text>
<line x1="1489.5" y1="1242.2" x2="1494" y2="1242.2" stroke="#000" stroke-width="1.1" />
<text transform="translate(1486.5,1249.2) scale(0.908,1)" font-size="18.4" class="tk" text-anchor="end" >0.450</text>
<line x1="1489.5" y1="1105.8" x2="1494" y2="1105.8" stroke="#000" stroke-width="1.1" />
<text transform="translate(1486.5,1112.8) scale(0.908,1)" font-size="18.4" class="tk" text-anchor="end" >0.475</text>
<line x1="1489.5" y1="969.5" x2="1494" y2="969.5" stroke="#000" stroke-width="1.1" />
<text transform="translate(1486.5,976.5) scale(0.908,1)" font-size="18.4" class="tk" text-anchor="end" >0.500</text>
<line x1="1489.5" y1="833.1" x2="1494" y2="833.1" stroke="#000" stroke-width="1.1" />
<text transform="translate(1486.5,840.1) scale(0.908,1)" font-size="18.4" class="tk" text-anchor="end" >0.525</text>
<line x1="1494" y1="1378.5" x2="2094.4" y2="1378.5" stroke="#000" stroke-width="1.5" />
<line x1="1521" y1="1378.5" x2="1521" y2="1383" stroke="#000" stroke-width="1.1" />
<text transform="translate(1521,1398.5) scale(0.908,1)" font-size="18.4" class="tk" text-anchor="middle" >-35</text>
<line x1="1560" y1="1378.5" x2="1560" y2="1383" stroke="#000" stroke-width="1.1" />
<text transform="translate(1560,1398.5) scale(0.908,1)" font-size="18.4" class="tk" text-anchor="middle" >-30</text>
<line x1="1598.9" y1="1378.5" x2="1598.9" y2="1383" stroke="#000" stroke-width="1.1" />
<text transform="translate(1598.9,1398.5) scale(0.908,1)" font-size="18.4" class="tk" text-anchor="middle" >-25</text>
<line x1="1637.9" y1="1378.5" x2="1637.9" y2="1383" stroke="#000" stroke-width="1.1" />
<text transform="translate(1637.9,1398.5) scale(0.908,1)" font-size="18.4" class="tk" text-anchor="middle" >-20</text>
<line x1="1676.9" y1="1378.5" x2="1676.9" y2="1383" stroke="#000" stroke-width="1.1" />
<text transform="translate(1676.9,1398.5) scale(0.908,1)" font-size="18.4" class="tk" text-anchor="middle" >-15</text>
<line x1="1715.9" y1="1378.5" x2="1715.9" y2="1383" stroke="#000" stroke-width="1.1" />
<text transform="translate(1715.9,1398.5) scale(0.908,1)" font-size="18.4" class="tk" text-anchor="middle" >-10</text>
<line x1="1754.9" y1="1378.5" x2="1754.9" y2="1383" stroke="#000" stroke-width="1.1" />
<text transform="translate(1754.9,1398.5) scale(0.908,1)" font-size="18.4" class="tk" text-anchor="middle" >-5</text>
<line x1="1793.8" y1="1378.5" x2="1793.8" y2="1383" stroke="#000" stroke-width="1.1" />
<text transform="translate(1793.8,1398.5) scale(0.908,1)" font-size="18.4" class="tk" text-anchor="middle" >0</text>
<line x1="1832.8" y1="1378.5" x2="1832.8" y2="1383" stroke="#000" stroke-width="1.1" />
<text transform="translate(1832.8,1398.5) scale(0.908,1)" font-size="18.4" class="tk" text-anchor="middle" >5</text>
<line x1="1871.8" y1="1378.5" x2="1871.8" y2="1383" stroke="#000" stroke-width="1.1" />
<text transform="translate(1871.8,1398.5) scale(0.908,1)" font-size="18.4" class="tk" text-anchor="middle" >10</text>
<line x1="1910.8" y1="1378.5" x2="1910.8" y2="1383" stroke="#000" stroke-width="1.1" />
<text transform="translate(1910.8,1398.5) scale(0.908,1)" font-size="18.4" class="tk" text-anchor="middle" >15</text>
<line x1="1949.8" y1="1378.5" x2="1949.8" y2="1383" stroke="#000" stroke-width="1.1" />
<text transform="translate(1949.8,1398.5) scale(0.908,1)" font-size="18.4" class="tk" text-anchor="middle" >20</text>
<line x1="1988.8" y1="1378.5" x2="1988.8" y2="1383" stroke="#000" stroke-width="1.1" />
<text transform="translate(1988.8,1398.5) scale(0.908,1)" font-size="18.4" class="tk" text-anchor="middle" >25</text>
<line x1="2027.7" y1="1378.5" x2="2027.7" y2="1383" stroke="#000" stroke-width="1.1" />
<text transform="translate(2027.7,1398.5) scale(0.908,1)" font-size="18.4" class="tk" text-anchor="middle" >30</text>
<line x1="2066.7" y1="1378.5" x2="2066.7" y2="1383" stroke="#000" stroke-width="1.1" />
<text transform="translate(2066.7,1398.5) scale(0.908,1)" font-size="18.4" class="tk" text-anchor="middle" >35</text>
<text x="1794.5" y="772.7" font-size="28.8" class="tt" text-anchor="middle" >GC content at domain boundary regions</text>
<text transform="translate(1794.2,1420.5) scale(0.895,1)" font-size="22" class="lb" text-anchor="middle" >Position relative to domain boundary (kb)</text>
<text x="0" y="0" font-size="23" class="lb" text-anchor="middle" transform="translate(1441.2,1082.3) rotate(-90) scale(0.872,1)">GC content</text>
<polyline points="100.8,1671.3 101.2,1671.3 101.2,1726.2 101.6,1726.2 101.6,1715.8 102.0,1715.8 102.0,1701.4 102.3,1701.4 102.3,1701.1 102.7,1701.1 102.7,1730.5 103.1,1730.5 103.1,1723.1 103.5,1723.1 103.5,1808.7 103.9,1808.7 103.9,1716.9 104.3,1716.9 104.3,1736.5 104.7,1736.5 104.7,1710.7 105.1,1710.7 105.1,1682.7 105.5,1682.7 105.5,1752.7 105.9,1752.7 105.9,1758.8 106.2,1758.8 106.2,1760.7 106.6,1760.7 106.6,1720.3 107.0,1720.3 107.0,1723.2 107.4,1723.2 107.4,1760.0 107.8,1760.0 107.8,1745.8 108.2,1745.8 108.2,1749.1 108.6,1749.1 108.6,1745.0 109.0,1745.0 109.0,1752.8 109.4,1752.8 109.4,1755.7 109.8,1755.7 109.8,1752.9 110.1,1752.9 110.1,1719.6 110.5,1719.6 110.5,1730.2 110.9,1730.2 110.9,1761.3 111.3,1761.3 111.3,1825.5 111.7,1825.5 111.7,1734.9 112.1,1734.9 112.1,1750.0 112.5,1750.0 112.5,1837.8 112.9,1837.8 112.9,1716.1 113.3,1716.1 113.3,1760.2 113.6,1760.2 113.6,1720.7 114.0,1720.7 114.0,1820.9 114.4,1820.9 114.4,1777.0 114.8,1777.0 114.8,1797.8 115.2,1797.8 115.2,1818.5 115.6,1818.5 115.6,1747.7 116.0,1747.7 116.0,1761.3 116.4,1761.3 116.4,1750.8 116.8,1750.8 116.8,1702.7 117.2,1702.7 117.2,1811.2 117.5,1811.2 117.5,1747.9 117.9,1747.9 117.9,1801.2 118.3,1801.2 118.3,1735.1 118.7,1735.1 118.7,1744.1 119.1,1744.1 119.1,1802.9 119.5,1802.9 119.5,1758.0 119.9,1758.0 119.9,1753.0 120.3,1753.0 120.3,1753.8 120.7,1753.8 120.7,1780.9 121.0,1780.9 121.0,1780.0 121.4,1780.0 121.4,1817.0 121.8,1817.0 121.8,1741.0 122.2,1741.0 122.2,1765.2 122.6,1765.2 122.6,1774.5 123.0,1774.5 123.0,1777.8 123.4,1777.8 123.4,1749.5 123.8,1749.5 123.8,1770.8 124.2,1770.8 124.2,1713.3 124.6,1713.3 124.6,1764.3 124.9,1764.3 124.9,1765.3 125.3,1765.3 125.3,1746.6 125.7,1746.6 125.7,1744.3 126.1,1744.3 126.1,1783.7 126.5,1783.7 126.5,1771.1 126.9,1771.1 126.9,1740.7 127.3,1740.7 127.3,1748.1 127.7,1748.1 127.7,1766.4 128.1,1766.4 128.1,1755.5 128.5,1755.5 128.5,1763.8 128.8,1763.8 128.8,1792.5 129.2,1792.5 129.2,1720.3 129.6,1720.3 129.6,1773.3 130.0,1773.3 130.0,1743.4 130.4,1743.4 130.4,1729.1 130.8,1729.1 130.8,1832.6 131.2,1832.6 131.2,1733.6 131.6,1733.6 131.6,1787.4 132.0,1787.4 132.0,1743.0 132.3,1743.0 132.3,1746.9 132.7,1746.9 132.7,1755.5 133.1,1755.5 133.1,1760.7 133.5,1760.7 133.5,1716.6 133.9,1716.6 133.9,1728.2 134.3,1728.2 134.3,1697.7 134.7,1697.7 134.7,1749.7 135.1,1749.7 135.1,1736.4 135.5,1736.4 135.5,1733.3 135.9,1733.3 135.9,1720.6 136.2,1720.6 136.2,1706.4 136.6,1706.4 136.6,1774.6 137.0,1774.6 137.0,1753.0 137.4,1753.0 137.4,1712.0 137.8,1712.0 137.8,1743.0 138.2,1743.0 138.2,1710.2 138.6,1710.2 138.6,1774.3 139.0,1774.3 139.0,1714.8 139.4,1714.8 139.4,1760.7 139.7,1760.7 139.7,1737.4 140.1,1737.4 140.1,1705.7 140.5,1705.7 140.5,1766.0 140.9,1766.0 140.9,1747.0 141.3,1747.0 141.3,1672.2 141.7,1672.2 141.7,1802.6 142.1,1802.6 142.1,1763.3 142.5,1763.3 142.5,1723.8 142.9,1723.8 142.9,1697.5 143.3,1697.5 143.3,1732.8 143.6,1732.8 143.6,1725.0 144.0,1725.0 144.0,1771.1 144.4,1771.1 144.4,1739.6 144.8,1739.6 144.8,1706.3 145.2,1706.3 145.2,1737.4 145.6,1737.4 145.6,1751.6 146.0,1751.6 146.0,1796.5 146.4,1796.5 146.4,1751.0 146.8,1751.0 146.8,1774.9 147.1,1774.9 147.1,1737.8 147.5,1737.8 147.5,1757.9 147.9,1757.9 147.9,1790.3 148.3,1790.3 148.3,1737.3 148.7,1737.3 148.7,1759.7 149.1,1759.7 149.1,1875.1 149.5,1875.1 149.5,1755.3 149.9,1755.3 149.9,1777.2 150.3,1777.2 150.3,1747.0 150.7,1747.0 150.7,1761.9 151.0,1761.9 151.0,1762.3 151.4,1762.3 151.4,1744.3 151.8,1744.3 151.8,1741.6 152.2,1741.6 152.2,1712.1 152.6,1712.1 152.6,1731.6 153.0,1731.6 153.0,1714.2 153.4,1714.2 153.4,1751.0 153.8,1751.0 153.8,1735.2 154.2,1735.2 154.2,1709.1 154.6,1709.1 154.6,1732.5 154.9,1732.5 154.9,1787.2 155.3,1787.2 155.3,1741.8 155.7,1741.8 155.7,1714.1 156.1,1714.1 156.1,1732.9 156.5,1732.9 156.5,1731.3 156.9,1731.3 156.9,1785.9 157.3,1785.9 157.3,1681.9 157.7,1681.9 157.7,1708.1 158.1,1708.1 158.1,1786.9 158.4,1786.9 158.4,1698.9 158.8,1698.9 158.8,1691.0 159.2,1691.0 159.2,1689.4 159.6,1689.4 159.6,1845.1 160.0,1845.1 160.0,1706.5 160.4,1706.5 160.4,1705.7 160.8,1705.7 160.8,1711.7 161.2,1711.7 161.2,1763.6 161.6,1763.6 161.6,1714.9 162.0,1714.9 162.0,1703.1 162.3,1703.1 162.3,1692.9 162.7,1692.9 162.7,1709.9 163.1,1709.9 163.1,1691.9 163.5,1691.9 163.5,1741.8 163.9,1741.8 163.9,1739.9 164.3,1739.9 164.3,1718.3 164.7,1718.3 164.7,1777.4 165.1,1777.4 165.1,1730.6 165.5,1730.6 165.5,1742.9 165.8,1742.9 165.8,1713.5 166.2,1713.5 166.2,1721.0 166.6,1721.0 166.6,1731.4 167.0,1731.4 167.0,1728.3 167.4,1728.3 167.4,1796.3 167.8,1796.3 167.8,1685.3 168.2,1685.3 168.2,1727.1 168.6,1727.1 168.6,1754.3 169.0,1754.3 169.0,1755.9 169.4,1755.9 169.4,1762.7 169.7,1762.7 169.7,1755.4 170.1,1755.4 170.1,1727.1 170.5,1727.1 170.5,1774.1 170.9,1774.1 170.9,1703.7 171.3,1703.7 171.3,1754.1 171.7,1754.1 171.7,1697.1 172.1,1697.1 172.1,1696.0 172.5,1696.0 172.5,1705.6 172.9,1705.6 172.9,1683.0 173.3,1683.0 173.3,1732.6 173.6,1732.6 173.6,1710.7 174.0,1710.7 174.0,1724.0 174.4,1724.0 174.4,1706.1 174.8,1706.1 174.8,1742.9 175.2,1742.9 175.2,1717.6 175.6,1717.6 175.6,1713.9 176.0,1713.9 176.0,1723.2 176.4,1723.2 176.4,1687.7 176.8,1687.7 176.8,1704.6 177.1,1704.6 177.1,1687.8 177.5,1687.8 177.5,1710.0 177.9,1710.0 177.9,1732.3 178.3,1732.3 178.3,1775.3 178.7,1775.3 178.7,1717.1 179.1,1717.1 179.1,1699.6 179.5,1699.6 179.5,1676.2 179.9,1676.2 179.9,1647.9 180.3,1647.9 180.3,1710.6 180.7,1710.6 180.7,1741.3 181.0,1741.3 181.0,1716.7 181.4,1716.7 181.4,1708.3 181.8,1708.3 181.8,1707.9 182.2,1707.9 182.2,1684.8 182.6,1684.8 182.6,1678.8 183.0,1678.8 183.0,1624.4 183.4,1624.4 183.4,1696.3 183.8,1696.3 183.8,1690.7 184.2,1690.7 184.2,1722.8 184.5,1722.8 184.5,1658.5 184.9,1658.5 184.9,1695.5 185.3,1695.5 185.3,1682.7 185.7,1682.7 185.7,1690.0 186.1,1690.0 186.1,1731.1 186.5,1731.1 186.5,1742.1 186.9,1742.1 186.9,1698.5 187.3,1698.5 187.3,1657.2 187.7,1657.2 187.7,1664.5 188.1,1664.5 188.1,1678.0 188.4,1678.0 188.4,1645.1 188.8,1645.1 188.8,1693.3 189.2,1693.3 189.2,1695.1 189.6,1695.1 189.6,1702.8 190.0,1702.8 190.0,1727.0 190.4,1727.0 190.4,1641.5 190.8,1641.5 190.8,1672.3 191.2,1672.3 191.2,1740.2 191.6,1740.2 191.6,1712.3 192.0,1712.3 192.0,1655.3 192.3,1655.3 192.3,1774.5 192.7,1774.5 192.7,1700.2 193.1,1700.2 193.1,1697.5 193.5,1697.5 193.5,1694.0 193.9,1694.0 193.9,1673.2 194.3,1673.2 194.3,1810.6 194.7,1810.6 194.7,1703.7 195.1,1703.7 195.1,1685.3 195.5,1685.3 195.5,1714.2 195.8,1714.2 195.8,1740.8 196.2,1740.8 196.2,1608.5 196.6,1608.5 196.6,1781.7 197.0,1781.7 197.0,1715.8 197.4,1715.8 197.4,1679.3 197.8,1679.3 197.8,1671.5 198.2,1671.5 198.2,1752.9 198.6,1752.9 198.6,1784.8 199.0,1784.8 199.0,1662.5 199.4,1662.5 199.4,1732.2 199.7,1732.2 199.7,1734.8 200.1,1734.8 200.1,1802.2 200.5,1802.2 200.5,1677.3 200.9,1677.3 200.9,1710.4 201.3,1710.4 201.3,1703.6 201.7,1703.6 201.7,1662.5 202.1,1662.5 202.1,1700.6 202.5,1700.6 202.5,1697.2 202.9,1697.2 202.9,1726.4 203.2,1726.4 203.2,1680.3 203.6,1680.3 203.6,1656.6 204.0,1656.6 204.0,1650.3 204.4,1650.3 204.4,1805.2 204.8,1805.2 204.8,1711.6 205.2,1711.6 205.2,1674.2 205.6,1674.2 205.6,1725.1 206.0,1725.1 206.0,1731.7 206.4,1731.7 206.4,1739.6 206.8,1739.6 206.8,1693.2 207.1,1693.2 207.1,1709.4 207.5,1709.4 207.5,1790.5 207.9,1790.5 207.9,1710.3 208.3,1710.3 208.3,1714.2 208.7,1714.2 208.7,1793.3 209.1,1793.3 209.1,1716.0 209.5,1716.0 209.5,1682.2 209.9,1682.2 209.9,1733.1 210.3,1733.1 210.3,1675.3 210.7,1675.3 210.7,1705.5 211.0,1705.5 211.0,1704.9 211.4,1704.9 211.4,1670.7 211.8,1670.7 211.8,1718.6 212.2,1718.6 212.2,1728.2 212.6,1728.2 212.6,1711.8 213.0,1711.8 213.0,1723.4 213.4,1723.4 213.4,1758.8 213.8,1758.8 213.8,1697.7 214.2,1697.7 214.2,1761.0 214.5,1761.0 214.5,1636.5 214.9,1636.5 214.9,1722.2 215.3,1722.2 215.3,1697.9 215.7,1697.9 215.7,1713.4 216.1,1713.4 216.1,1706.0 216.5,1706.0 216.5,1720.5 216.9,1720.5 216.9,1648.5 217.3,1648.5 217.3,1727.3 217.7,1727.3 217.7,1656.5 218.1,1656.5 218.1,1709.0 218.4,1709.0 218.4,1751.2 218.8,1751.2 218.8,1734.1 219.2,1734.1 219.2,1689.0 219.6,1689.0 219.6,1711.3 220.0,1711.3 220.0,1702.0 220.4,1702.0 220.4,1702.1 220.8,1702.1 220.8,1734.4 221.2,1734.4 221.2,1721.7 221.6,1721.7 221.6,1764.4 221.9,1764.4 221.9,1631.1 222.3,1631.1 222.3,1733.4 222.7,1733.4 222.7,1735.7 223.1,1735.7 223.1,1708.0 223.5,1708.0 223.5,1756.5 223.9,1756.5 223.9,1703.3 224.3,1703.3 224.3,1633.1 224.7,1633.1 224.7,1718.5 225.1,1718.5 225.1,1730.2 225.5,1730.2 225.5,1682.7 225.8,1682.7 225.8,1732.7 226.2,1732.7 226.2,1707.0 226.6,1707.0 226.6,1735.0 227.0,1735.0 227.0,1707.2 227.4,1707.2 227.4,1723.4 227.8,1723.4 227.8,1681.1 228.2,1681.1 228.2,1742.5 228.6,1742.5 228.6,1746.0 229.0,1746.0 229.0,1708.5 229.4,1708.5 229.4,1740.3 229.7,1740.3 229.7,1697.8 230.1,1697.8 230.1,1711.3 230.5,1711.3 230.5,1750.9 230.9,1750.9 230.9,1747.6 231.3,1747.6 231.3,1737.2 231.7,1737.2 231.7,1724.8 232.1,1724.8 232.1,1740.6 232.5,1740.6 232.5,1695.4 232.9,1695.4 232.9,1710.0 233.2,1710.0 233.2,1726.0 233.6,1726.0 233.6,1746.6 234.0,1746.6 234.0,1734.9 234.4,1734.9 234.4,1686.2 234.8,1686.2 234.8,1704.4 235.2,1704.4 235.2,1746.2 235.6,1746.2 235.6,1712.5 236.0,1712.5 236.0,1741.9 236.4,1741.9 236.4,1715.2 236.8,1715.2 236.8,1740.5 237.1,1740.5 237.1,1742.9 237.5,1742.9 237.5,1679.4 237.9,1679.4 237.9,1750.5 238.3,1750.5 238.3,1709.8 238.7,1709.8 238.7,1706.2 239.1,1706.2 239.1,1702.0 239.5,1702.0 239.5,1687.5 239.9,1687.5 239.9,1726.2 240.3,1726.2 240.3,1692.4 240.6,1692.4 240.6,1682.0 241.0,1682.0 241.0,1742.9 241.4,1742.9 241.4,1667.9 241.8,1667.9 241.8,1698.0 242.2,1698.0 242.2,1711.9 242.6,1711.9 242.6,1744.1 243.0,1744.1 243.0,1713.4 243.4,1713.4 243.4,1734.6 243.8,1734.6 243.8,1728.9 244.2,1728.9 244.2,1738.0 244.5,1738.0 244.5,1738.2 244.9,1738.2 244.9,1731.1 245.3,1731.1 245.3,1774.7 245.7,1774.7 245.7,1772.0 246.1,1772.0 246.1,1720.9 246.5,1720.9 246.5,1735.8 246.9,1735.8 246.9,1753.9 247.3,1753.9 247.3,1774.5 247.7,1774.5 247.7,1712.7 248.1,1712.7 248.1,1754.3 248.4,1754.3 248.4,1744.4 248.8,1744.4 248.8,1734.3 249.2,1734.3 249.2,1683.9 249.6,1683.9 249.6,1805.2 250.0,1805.2 250.0,1729.5 250.4,1729.5 250.4,1641.8 250.8,1641.8 250.8,1737.1 251.2,1737.1 251.2,1675.8 251.6,1675.8 251.6,1733.8 251.9,1733.8 251.9,1682.0 252.3,1682.0 252.3,1728.5 252.7,1728.5 252.7,1657.0 253.1,1657.0 253.1,1722.2 253.5,1722.2 253.5,1706.8 253.9,1706.8 253.9,1716.9 254.3,1716.9 254.3,1713.1 254.7,1713.1 254.7,1768.5 255.1,1768.5 255.1,1698.3 255.5,1698.3 255.5,1759.1 255.8,1759.1 255.8,1702.5 256.2,1702.5 256.2,1838.6 256.6,1838.6 256.6,1645.6 257.0,1645.6 257.0,1752.3 257.4,1752.3 257.4,1649.8 257.8,1649.8 257.8,1708.9 258.2,1708.9 258.2,1735.8 258.6,1735.8 258.6,1702.6 259.0,1702.6 259.0,1737.7 259.3,1737.7 259.3,1735.8 259.7,1735.8 259.7,1728.5 260.1,1728.5 260.1,1772.0 260.5,1772.0 260.5,1731.4 260.9,1731.4 260.9,1696.8 261.3,1696.8 261.3,1738.2 261.7,1738.2 261.7,1739.8 262.1,1739.8 262.1,1757.5 262.5,1757.5 262.5,1746.3 262.9,1746.3 262.9,1715.6 263.2,1715.6 263.2,1737.3 263.6,1737.3 263.6,1718.1 264.0,1718.1 264.0,1730.6 264.4,1730.6 264.4,1724.7 264.8,1724.7 264.8,1712.4 265.2,1712.4 265.2,1716.0 265.6,1716.0 265.6,1694.4 266.0,1694.4 266.0,1718.6 266.4,1718.6 266.4,1707.2 266.8,1707.2 266.8,1675.9 267.1,1675.9 267.1,1704.6 267.5,1704.6 267.5,1708.1 267.9,1708.1 267.9,1708.9 268.3,1708.9 268.3,1711.9 268.7,1711.9 268.7,1727.1 269.1,1727.1 269.1,1737.4 269.5,1737.4 269.5,1738.4 269.9,1738.4 269.9,1762.2 270.3,1762.2 270.3,1707.8 270.6,1707.8 270.6,1771.7 271.0,1771.7 271.0,1695.9 271.4,1695.9 271.4,1738.7 271.8,1738.7 271.8,1727.3 272.2,1727.3 272.2,1723.5 272.6,1723.5 272.6,1655.6 273.0,1655.6 273.0,1729.3 273.4,1729.3 273.4,1737.6 273.8,1737.6 273.8,1724.9 274.2,1724.9 274.2,1736.3 274.5,1736.3 274.5,1701.1 274.9,1701.1 274.9,1721.7 275.3,1721.7 275.3,1706.4 275.7,1706.4 275.7,1610.8 276.1,1610.8 276.1,1742.2 276.5,1742.2 276.5,1745.1 276.9,1745.1 276.9,1759.1 277.3,1759.1 277.3,1736.1 277.7,1736.1 277.7,1758.5 278.0,1758.5 278.0,1729.9 278.4,1729.9 278.4,1757.2 278.8,1757.2 278.8,1690.5 279.2,1690.5 279.2,1692.3 279.6,1692.3 279.6,1719.3 280.0,1719.3 280.0,1750.9 280.4,1750.9 280.4,1621.7 280.8,1621.7 280.8,1724.9 281.2,1724.9 281.2,1641.2 281.6,1641.2 281.6,1694.3 281.9,1694.3 281.9,1689.2 282.3,1689.2 282.3,1748.3 282.7,1748.3 282.7,1730.0 283.1,1730.0 283.1,1684.6 283.5,1684.6 283.5,1699.9 283.9,1699.9 283.9,1696.8 284.3,1696.8 284.3,1791.4 284.7,1791.4 284.7,1661.6 285.1,1661.6 285.1,1692.0 285.5,1692.0 285.5,1710.0 285.8,1710.0 285.8,1694.0 286.2,1694.0 286.2,1709.0 286.6,1709.0 286.6,1718.4 287.0,1718.4 287.0,1669.4 287.4,1669.4 287.4,1703.9 287.8,1703.9 287.8,1688.2 288.2,1688.2 288.2,1731.4 288.6,1731.4 288.6,1691.9 289.0,1691.9 289.0,1708.9 289.3,1708.9 289.3,1730.0 289.7,1730.0 289.7,1736.5 290.1,1736.5 290.1,1716.1 290.5,1716.1 290.5,1679.8 290.9,1679.8 290.9,1739.0 291.3,1739.0 291.3,1718.7 291.7,1718.7 291.7,1706.1 292.1,1706.1 292.1,1671.7 292.5,1671.7 292.5,1746.0 292.9,1746.0 292.9,1704.1 293.2,1704.1 293.2,1686.8 293.6,1686.8 293.6,1696.9 294.0,1696.9 294.0,1720.0 294.4,1720.0 294.4,1671.8 294.8,1671.8 294.8,1707.2 295.2,1707.2 295.2,1736.3 295.6,1736.3 295.6,1742.8 296.0,1742.8 296.0,1712.2 296.4,1712.2 296.4,1637.8 296.7,1637.8 296.7,1777.3 297.1,1777.3 297.1,1648.0 297.5,1648.0 297.5,1697.9 297.9,1697.9 297.9,1717.2 298.3,1717.2 298.3,1703.5 298.7,1703.5 298.7,1685.6 299.1,1685.6 299.1,1726.4 299.5,1726.4 299.5,1730.2 299.9,1730.2 299.9,1702.3 300.3,1702.3 300.3,1735.0 300.6,1735.0 300.6,1725.0 301.0,1725.0 301.0,1739.1 301.4,1739.1 301.4,1710.3 301.8,1710.3 301.8,1722.6 302.2,1722.6 302.2,1723.7 302.6,1723.7 302.6,1728.6 303.0,1728.6 303.0,1782.5 303.4,1782.5 303.4,1653.7 303.8,1653.7 303.8,1737.9 304.1,1737.9 304.1,1748.3 304.5,1748.3 304.5,1706.8 304.9,1706.8 304.9,1699.7 305.3,1699.7 305.3,1717.1 305.7,1717.1 305.7,1713.9 306.1,1713.9 306.1,1692.4 306.5,1692.4 306.5,1728.3 306.9,1728.3 306.9,1669.0 307.3,1669.0 307.3,1806.1 307.7,1806.1 307.7,1737.1 308.0,1737.1 308.0,1701.0 308.4,1701.0 308.4,1687.4 308.8,1687.4 308.8,1675.1 309.2,1675.1 309.2,1693.9 309.6,1693.9 309.6,1688.4 310.0,1688.4 310.0,1667.0 310.4,1667.0 310.4,1725.8 310.8,1725.8 310.8,1781.2 311.2,1781.2 311.2,1713.2 311.6,1713.2 311.6,1718.7 311.9,1718.7 311.9,1790.0 312.3,1790.0 312.3,1665.1 312.7,1665.1 312.7,1772.6 313.1,1772.6 313.1,1678.3 313.5,1678.3 313.5,1651.8 313.9,1651.8 313.9,1695.3 314.3,1695.3 314.3,1772.0 314.7,1772.0 314.7,1730.5 315.1,1730.5 315.1,1760.6 315.4,1760.6 315.4,1724.7 315.8,1724.7 315.8,1672.2 316.2,1672.2 316.2,1721.0 316.6,1721.0 316.6,1687.0 317.0,1687.0 317.0,1726.8 317.4,1726.8 317.4,1673.9 317.8,1673.9 317.8,1698.9 318.2,1698.9 318.2,1747.6 318.6,1747.6 318.6,1737.6 319.0,1737.6 319.0,1678.3 319.3,1678.3 319.3,1712.1 319.7,1712.1 319.7,1673.6 320.1,1673.6 320.1,1754.1 320.5,1754.1 320.5,1695.5 320.9,1695.5 320.9,1777.0 321.3,1777.0 321.3,1790.0 321.7,1790.0 321.7,1743.9 322.1,1743.9 322.1,1764.0 322.5,1764.0 322.5,1754.5 322.8,1754.5 322.8,1730.2 323.2,1730.2 323.2,1711.2 323.6,1711.2 323.6,1719.1 324.0,1719.1 324.0,1751.6 324.4,1751.6 324.4,1731.0 324.8,1731.0 324.8,1833.3 325.2,1833.3 325.2,1743.5 325.6,1743.5 325.6,1735.2 326.0,1735.2 326.0,1726.8 326.4,1726.8 326.4,1758.7 326.7,1758.7 326.7,1766.8 327.1,1766.8 327.1,1658.6 327.5,1658.6 327.5,1725.0 327.9,1725.0 327.9,1704.7 328.3,1704.7 328.3,1790.4 328.7,1790.4 328.7,1830.0 329.1,1830.0 329.1,1810.0 329.5,1810.0 329.5,1763.9 329.9,1763.9 329.9,1788.4 330.3,1788.4 330.3,1751.3 330.6,1751.3 330.6,1794.8 331.0,1794.8 331.0,1764.7 331.4,1764.7 331.4,1779.6 331.8,1779.6 331.8,1787.6 332.2,1787.6 332.2,1802.7 332.6,1802.7 332.6,1910.3 333.0,1910.3 333.0,1873.4 333.4,1873.4 333.4,1825.5 333.8,1825.5 333.8,1808.0 334.1,1808.0 334.1,1819.0 334.5,1819.0 334.5,1799.5 334.9,1799.5 334.9,1819.9 335.3,1819.9 335.3,1825.5 335.7,1825.5 335.7,1840.0 336.1,1840.0 336.1,1851.4 336.5,1851.4 336.5,1878.4 336.9,1878.4 336.9,1943.1 337.3,1943.1 337.3,1940.9 337.7,1940.9 337.7,1817.4 338.0,1817.4 338.0,1888.0 338.4,1888.0 338.4,1894.0 338.8,1894.0 338.8,1865.5 339.2,1865.5 339.2,1843.9 339.6,1843.9 339.6,1855.9 340.0,1855.9 340.0,1849.6 340.4,1849.6 340.4,1964.8 340.8,1964.8 340.8,1919.6 341.2,1919.6 341.2,1923.2 341.5,1923.2 341.5,1927.1 341.9,1927.1 341.9,1893.1 342.3,1893.1 342.3,1908.1 342.7,1908.1 342.7,1851.6 343.1,1851.6 343.1,1880.3 343.5,1880.3 343.5,1898.5 343.9,1898.5 343.9,2000.8 344.3,2000.8 344.3,1940.5 344.7,1940.5 344.7,1882.4 345.1,1882.4 345.1,1825.7 345.4,1825.7 345.4,1967.6 345.8,1967.6 345.8,1838.1 346.2,1838.1 346.2,1929.6 346.6,1929.6 346.6,1882.2 347.0,1882.2 347.0,1988.9 347.4,1988.9 347.4,1919.7 347.8,1919.7 347.8,1920.4 348.2,1920.4 348.2,1896.3 348.6,1896.3 348.6,1897.0 349.0,1897.0 349.0,1902.9 349.3,1902.9 349.3,1928.4 349.7,1928.4 349.7,1945.6 350.1,1945.6 350.1,1906.1 350.5,1906.1 350.5,1916.8 350.9,1916.8 350.9,1933.9 351.3,1933.9 351.3,1930.4 351.7,1930.4 351.7,1928.6 352.1,1928.6 352.1,1977.4 352.5,1977.4 352.5,1947.3 352.8,1947.3 352.8,1921.6 353.2,1921.6 353.2,1897.2 353.6,1897.2 353.6,1936.9 354.0,1936.9 354.0,1916.0 354.4,1916.0 354.4,1899.6 354.8,1899.6 354.8,1916.4 355.2,1916.4 355.2,1977.9 355.6,1977.9 355.6,1895.2 356.0,1895.2 356.0,1918.0 356.4,1918.0 356.4,1933.9 356.7,1933.9 356.7,1965.6 357.1,1965.6 357.1,1896.3 357.5,1896.3 357.5,1885.4 357.9,1885.4 357.9,1947.2 358.3,1947.2 358.3,1980.2 358.7,1980.2 358.7,1969.3 359.1,1969.3 359.1,1972.1 359.5,1972.1 359.5,1953.0 359.9,1953.0 359.9,1927.9 360.2,1927.9 360.2,1944.4 360.6,1944.4 360.6,1937.4 361.0,1937.4 361.0,1972.2 361.4,1972.2 361.4,2001.5 361.8,2001.5 361.8,1947.8 362.2,1947.8 362.2,1975.7 362.6,1975.7 362.6,2001.3 363.0,2001.3 363.0,1970.1 363.4,1970.1 363.4,1963.2 363.8,1963.2 363.8,1958.2 364.1,1958.2 364.1,1945.3 364.5,1945.3 364.5,2040.2 364.9,2040.2 364.9,1996.3 365.3,1996.3 365.3,2019.6 365.7,2019.6 365.7,2082.1 366.1,2082.1 366.1,1982.9 366.5,1982.9 366.5,1988.0 366.9,1988.0 366.9,2031.1 367.3,2031.1 367.3,1972.7 367.7,1972.7 367.7,2008.1 368.0,2008.1 368.0,1931.5 368.4,1931.5 368.4,1994.2 368.8,1994.2 368.8,2080.4 369.2,2080.4 369.2,1989.9 369.6,1989.9 369.6,1993.9 370.0,1993.9 370.0,2006.8 370.4,2006.8 370.4,2036.8 370.8,2036.8 370.8,2074.2 371.2,2074.2 371.2,1970.8 371.5,1970.8 371.5,2032.2 371.9,2032.2 371.9,1987.3 372.3,1987.3 372.3,1967.9 372.7,1967.9 372.7,1994.9 373.1,1994.9 373.1,1964.2 373.5,1964.2 373.5,1868.6 373.9,1868.6 373.9,1970.4 374.3,1970.4 374.3,2034.4 374.7,2034.4 374.7,1993.4 375.1,1993.4 375.1,1999.9 375.4,1999.9 375.4,2004.5 375.8,2004.5 375.8,2021.8 376.2,2021.8 376.2,2026.9 376.6,2026.9 376.6,1975.9 377.0,1975.9 377.0,1975.5 377.4,1975.5 377.4,2015.9 377.8,2015.9 377.8,1993.9 378.2,1993.9 378.2,1986.2 378.6,1986.2 378.6,1983.1 378.9,1983.1 378.9,2001.9 379.3,2001.9 379.3,1981.0 379.7,1981.0 379.7,1964.5 380.1,1964.5 380.1,1963.9 380.5,1963.9 380.5,1952.2 380.9,1952.2 380.9,1970.1 381.3,1970.1 381.3,1998.8 381.7,1998.8 381.7,2025.8 382.1,2025.8 382.1,1905.9 382.5,1905.9 382.5,1978.5 382.8,1978.5 382.8,1952.0 383.2,1952.0 383.2,2045.9 383.6,2045.9 383.6,1978.2 384.0,1978.2 384.0,2013.1 384.4,2013.1 384.4,1962.5 384.8,1962.5 384.8,1987.8 385.2,1987.8 385.2,1981.6 385.6,1981.6 385.6,1923.1 386.0,1923.1 386.0,1958.4 386.4,1958.4 386.4,1970.5 386.7,1970.5 386.7,1960.9 387.1,1960.9 387.1,1954.4 387.5,1954.4 387.5,1950.5 387.9,1950.5 387.9,1929.6 388.3,1929.6 388.3,2028.1 388.7,2028.1 388.7,1966.9 389.1,1966.9 389.1,1952.6 389.5,1952.6 389.5,1971.8 389.9,1971.8 389.9,1980.5 390.2,1980.5 390.2,1997.8 390.6,1997.8 390.6,1993.5 391.0,1993.5 391.0,1950.2 391.4,1950.2 391.4,1954.3 391.8,1954.3 391.8,1941.9 392.2,1941.9 392.2,1916.1 392.6,1916.1 392.6,1986.2 393.0,1986.2 393.0,2013.3 393.4,2013.3 393.4,1933.3 393.8,1933.3 393.8,1975.1 394.1,1975.1 394.1,2002.1 394.5,2002.1 394.5,1961.6 394.9,1961.6 394.9,1980.9 395.3,1980.9 395.3,1969.0 395.7,1969.0 395.7,1941.6 396.1,1941.6 396.1,1963.9 396.5,1963.9 396.5,1948.7 396.9,1948.7 396.9,1915.3 397.3,1915.3 397.3,1951.9 397.6,1951.9 397.6,1919.8 398.0,1919.8 398.0,1947.8 398.4,1947.8 398.4,1995.8 398.8,1995.8 398.8,1965.5 399.2,1965.5 399.2,1932.5 399.6,1932.5 399.6,1954.9 400.0,1954.9 400.0,1962.7 400.4,1962.7 400.4,1904.0 400.8,1904.0 400.8,1988.8 401.2,1988.8 401.2,1954.8 401.5,1954.8 401.5,1936.8 401.9,1936.8 401.9,1962.9 402.3,1962.9 402.3,1966.5 402.7,1966.5 402.7,1982.2 403.1,1982.2 403.1,1980.4 403.5,1980.4 403.5,1984.3 403.9,1984.3 403.9,2001.7 404.3,2001.7 404.3,1982.7 404.7,1982.7 404.7,2009.4 405.1,2009.4 405.1,1942.3 405.4,1942.3 405.4,1933.7 405.8,1933.7 405.8,1956.5 406.2,1956.5 406.2,1918.9 406.6,1918.9 406.6,2004.2 407.0,2004.2 407.0,1967.4 407.4,1967.4 407.4,1984.6 407.8,1984.6 407.8,1978.0 408.2,1978.0 408.2,1944.1 408.6,1944.1 408.6,1937.1 408.9,1937.1 408.9,1954.4 409.3,1954.4 409.3,1984.3 409.7,1984.3 409.7,1972.3 410.1,1972.3 410.1,1977.5 410.5,1977.5 410.5,1997.8 410.9,1997.8 410.9,1936.2 411.3,1936.2 411.3,1908.1 411.7,1908.1 411.7,2021.8 412.1,2021.8 412.1,1952.4 412.5,1952.4 412.5,1952.8 412.8,1952.8 412.8,1946.5 413.2,1946.5 413.2,1870.5 413.6,1870.5 413.6,1920.4 414.0,1920.4 414.0,1912.0 414.4,1912.0 414.4,1888.5 414.8,1888.5 414.8,1887.4 415.2,1887.4 415.2,1875.0 415.6,1875.0 415.6,1909.7 416.0,1909.7 416.0,1895.6 416.3,1895.6 416.3,1917.1 416.7,1917.1 416.7,1837.6 417.1,1837.6 417.1,1897.0 417.5,1897.0 417.5,1855.0 417.9,1855.0 417.9,1860.4 418.3,1860.4 418.3,1905.2 418.7,1905.2 418.7,1825.0 419.1,1825.0 419.1,1886.6 419.5,1886.6 419.5,1844.3 419.9,1844.3 419.9,1849.7 420.2,1849.7 420.2,1866.5 420.6,1866.5 420.6,1817.4 421.0,1817.4 421.0,1885.0 421.4,1885.0 421.4,1860.3 421.8,1860.3 421.8,1855.2 422.2,1855.2 422.2,1876.8 422.6,1876.8 422.6,1876.6 423.0,1876.6 423.0,1857.9 423.4,1857.9 423.4,1865.4 423.8,1865.4 423.8,1853.9 424.1,1853.9 424.1,1836.0 424.5,1836.0 424.5,1896.7 424.9,1896.7 424.9,1888.4 425.3,1888.4 425.3,1727.2 425.7,1727.2 425.7,1826.1 426.1,1826.1 426.1,1865.4 426.5,1865.4 426.5,1803.0 426.9,1803.0 426.9,1889.6 427.3,1889.6 427.3,1868.6 427.6,1868.6 427.6,1851.2 428.0,1851.2 428.0,1810.8 428.4,1810.8 428.4,1856.1 428.8,1856.1 428.8,1801.9 429.2,1801.9 429.2,1853.4 429.6,1853.4 429.6,1842.7 430.0,1842.7 430.0,1874.4 430.4,1874.4 430.4,1899.7 430.8,1899.7 430.8,1838.6 431.2,1838.6 431.2,1813.4 431.5,1813.4 431.5,1848.6 431.9,1848.6 431.9,1837.3 432.3,1837.3 432.3,1845.9 432.7,1845.9 432.7,1792.2 433.1,1792.2 433.1,1818.1 433.5,1818.1 433.5,1773.5 433.9,1773.5 433.9,1886.3 434.3,1886.3 434.3,1834.0 434.7,1834.0 434.7,1871.3 435.0,1871.3 435.0,1878.7 435.4,1878.7 435.4,1848.6 435.8,1848.6 435.8,1882.8 436.2,1882.8 436.2,1849.6 436.6,1849.6 436.6,1910.4 437.0,1910.4 437.0,1868.4 437.4,1868.4 437.4,1848.8 437.8,1848.8 437.8,1855.7 438.2,1855.7 438.2,1821.8 438.6,1821.8 438.6,1856.3 438.9,1856.3 438.9,1859.4 439.3,1859.4 439.3,1807.2 439.7,1807.2 439.7,1776.9 440.1,1776.9 440.1,1855.5 440.5,1855.5 440.5,1770.8 440.9,1770.8 440.9,1858.3 441.3,1858.3 441.3,1801.0 441.7,1801.0 441.7,1731.2 442.1,1731.2 442.1,1818.7 442.5,1818.7 442.5,1809.2 442.8,1809.2 442.8,1750.6 443.2,1750.6 443.2,1838.3 443.6,1838.3 443.6,1809.9 444.0,1809.9 444.0,1798.8 444.4,1798.8 444.4,1867.4 444.8,1867.4 444.8,1817.7 445.2,1817.7 445.2,1809.1 445.6,1809.1 445.6,1749.2 446.0,1749.2 446.0,1825.7 446.3,1825.7 446.3,1832.7 446.7,1832.7 446.7,1754.3 447.1,1754.3 447.1,1765.3 447.5,1765.3 447.5,1807.7 447.9,1807.7 447.9,1810.5 448.3,1810.5 448.3,1779.3 448.7,1779.3 448.7,1837.7 449.1,1837.7 449.1,1777.6 449.5,1777.6 449.5,1836.2 449.9,1836.2 449.9,1815.9 450.2,1815.9 450.2,1772.1 450.6,1772.1 450.6,1785.1 451.0,1785.1 451.0,1773.3 451.4,1773.3 451.4,1785.6 451.8,1785.6 451.8,1770.4 452.2,1770.4 452.2,1778.5 452.6,1778.5 452.6,1781.3 453.0,1781.3 453.0,1768.6 453.4,1768.6 453.4,1870.3 453.7,1870.3 453.7,1826.8 454.1,1826.8 454.1,1821.5 454.5,1821.5 454.5,1685.3 454.9,1685.3 454.9,1814.1 455.3,1814.1 455.3,1832.5 455.7,1832.5 455.7,1787.6 456.1,1787.6 456.1,1788.2 456.5,1788.2 456.5,1904.7 456.9,1904.7 456.9,1759.7 457.3,1759.7 457.3,1807.8 457.6,1807.8 457.6,1788.2 458.0,1788.2 458.0,1808.7 458.4,1808.7 458.4,1824.2 458.8,1824.2 458.8,1768.0 459.2,1768.0 459.2,1844.6 459.6,1844.6 459.6,1764.2 460.0,1764.2 460.0,1810.5 460.4,1810.5 460.4,1780.1 460.8,1780.1 460.8,1780.8 461.1,1780.8 461.1,1810.7 461.5,1810.7 461.5,1814.1 461.9,1814.1 461.9,1776.6 462.3,1776.6 462.3,1763.2 462.7,1763.2 462.7,1806.3 463.1,1806.3 463.1,1769.6 463.5,1769.6 463.5,1737.3 463.9,1737.3 463.9,1804.8 464.3,1804.8 464.3,1765.3 464.7,1765.3 464.7,1762.6 465.0,1762.6 465.0,1740.6 465.4,1740.6 465.4,1749.4 465.8,1749.4 465.8,1752.5 466.2,1752.5 466.2,1736.0 466.6,1736.0 466.6,1812.5 467.0,1812.5 467.0,1807.0 467.4,1807.0 467.4,1757.5 467.8,1757.5 467.8,1738.3 468.2,1738.3 468.2,1733.9 468.6,1733.9 468.6,1770.1 468.9,1770.1 468.9,1810.4 469.3,1810.4 469.3,1791.5 469.7,1791.5 469.7,1724.9 470.1,1724.9 470.1,1768.4 470.5,1768.4 470.5,1749.7 470.9,1749.7 470.9,1706.3 471.3,1706.3 471.3,1762.1 471.7,1762.1 471.7,1839.5 472.1,1839.5 472.1,1726.3 472.4,1726.3 472.4,1710.8 472.8,1710.8 472.8,1707.4 473.2,1707.4 473.2,1765.9 473.6,1765.9 473.6,1740.3 474.0,1740.3 474.0,1742.1 474.4,1742.1 474.4,1729.9 474.8,1729.9 474.8,1781.6 475.2,1781.6 475.2,1758.3 475.6,1758.3 475.6,1740.8 476.0,1740.8 476.0,1727.4 476.3,1727.4 476.3,1738.9 476.7,1738.9 476.7,1787.5 477.1,1787.5 477.1,1763.3 477.5,1763.3 477.5,1839.2 477.9,1839.2 477.9,1751.0 478.3,1751.0 478.3,1763.6 478.7,1763.6 478.7,1737.3 479.1,1737.3 479.1,1760.5 479.5,1760.5 479.5,1723.9 479.8,1723.9 479.8,1725.7 480.2,1725.7 480.2,1717.2 480.6,1717.2 480.6,1864.2 481.0,1864.2 481.0,1734.0 481.4,1734.0 481.4,1755.9 481.8,1755.9 481.8,1724.9 482.2,1724.9 482.2,1789.0 482.6,1789.0 482.6,1717.6 483.0,1717.6 483.0,1732.7 483.4,1732.7 483.4,1768.5 483.7,1768.5 483.7,1702.5 484.1,1702.5 484.1,1732.4 484.5,1732.4 484.5,1718.8 484.9,1718.8 484.9,1598.3 485.3,1598.3 485.3,1715.7 485.7,1715.7 485.7,1822.8 486.1,1822.8 486.1,1768.4 486.5,1768.4 486.5,1785.0 486.9,1785.0 486.9,1735.3 487.3,1735.3 487.3,1727.9 487.6,1727.9 487.6,1766.8 488.0,1766.8 488.0,1733.0 488.4,1733.0 488.4,1761.4 488.8,1761.4 488.8,1704.2 489.2,1704.2 489.2,1710.1 489.6,1710.1 489.6,1761.0 490.0,1761.0 490.0,1686.3 490.4,1686.3 490.4,1763.6 490.8,1763.6 490.8,1709.7 491.1,1709.7 491.1,1704.9 491.5,1704.9 491.5,1735.9 491.9,1735.9 491.9,1768.3 492.3,1768.3 492.3,1755.3 492.7,1755.3 492.7,1733.4 493.1,1733.4 493.1,1767.6 493.5,1767.6 493.5,1713.0 493.9,1713.0 493.9,1730.4 494.3,1730.4 494.3,1740.2 494.7,1740.2 494.7,1720.4 495.0,1720.4 495.0,1738.3 495.4,1738.3 495.4,1689.1 495.8,1689.1 495.8,1784.5 496.2,1784.5 496.2,1776.6 496.6,1776.6 496.6,1740.1 497.0,1740.1 497.0,1742.1 497.4,1742.1 497.4,1825.6 497.8,1825.6 497.8,1745.0 498.2,1745.0 498.2,1667.1 498.5,1667.1 498.5,1681.9 498.9,1681.9 498.9,1725.3 499.3,1725.3 499.3,1739.7 499.7,1739.7 499.7,1749.7 500.1,1749.7 500.1,1728.3 500.5,1728.3 500.5,1724.5 500.9,1724.5 500.9,1708.2 501.3,1708.2 501.3,1725.5 501.7,1725.5 501.7,1695.0 502.1,1695.0 502.1,1743.3 502.4,1743.3 502.4,1719.0 502.8,1719.0 502.8,1703.2 503.2,1703.2 503.2,1743.9 503.6,1743.9 503.6,1736.5 504.0,1736.5 504.0,1736.5 504.4,1736.5 504.4,1780.8 504.8,1780.8 504.8,1746.7 505.2,1746.7 505.2,1663.3 505.6,1663.3 505.6,1716.2 506.0,1716.2 506.0,1748.3 506.3,1748.3 506.3,1714.1 506.7,1714.1 506.7,1740.5 507.1,1740.5 507.1,1696.3 507.5,1696.3 507.5,1708.6 507.9,1708.6 507.9,1744.5 508.3,1744.5 508.3,1701.3 508.7,1701.3 508.7,1691.0 509.1,1691.0 509.1,1691.2 509.5,1691.2 509.5,1713.0 509.8,1713.0 509.8,1659.4 510.2,1659.4 510.2,1729.2 510.6,1729.2 510.6,1738.0 511.0,1738.0 511.0,1637.3 511.4,1637.3 511.4,1715.7 511.8,1715.7 511.8,1732.0 512.2,1732.0 512.2,1737.9 512.6,1737.9 512.6,1763.7 513.0,1763.7 513.0,1760.7 513.4,1760.7 513.4,1672.9 513.7,1672.9 513.7,1672.1 514.1,1672.1 514.1,1715.2 514.5,1715.2 514.5,1719.9 514.9,1719.9 514.9,1662.6 515.3,1662.6 515.3,1797.7 515.7,1797.7 515.7,1743.9 516.1,1743.9 516.1,1698.9 516.5,1698.9 516.5,1719.0 516.9,1719.0 516.9,1693.8 517.2,1693.8 517.2,1701.2 517.6,1701.2 517.6,1744.4 518.0,1744.4 518.0,1762.0 518.4,1762.0 518.4,1732.8 518.8,1732.8 518.8,1709.6 519.2,1709.6 519.2,1700.6 519.6,1700.6 519.6,1694.5 520.0,1694.5 520.0,1715.5 520.4,1715.5 520.4,1730.2 520.8,1730.2 520.8,1647.4 521.1,1647.4 521.1,1733.4 521.5,1733.4 521.5,1702.4 521.9,1702.4 521.9,1683.6 522.3,1683.6 522.3,1734.7 522.7,1734.7 522.7,1687.3 523.1,1687.3 523.1,1768.7 523.5,1768.7 523.5,1683.6 523.9,1683.6 523.9,1708.5 524.3,1708.5 524.3,1721.3 524.7,1721.3 524.7,1727.8 525.0,1727.8 525.0,1725.8 525.4,1725.8 525.4,1661.8 525.8,1661.8 525.8,1679.2 526.2,1679.2 526.2,1714.8 526.6,1714.8 526.6,1791.4 527.0,1791.4 527.0,1694.6 527.4,1694.6 527.4,1689.8 527.8,1689.8 527.8,1735.9 528.2,1735.9 528.2,1674.8 528.5,1674.8 528.5,1756.0 528.9,1756.0 528.9,1705.6 529.3,1705.6 529.3,1741.7 529.7,1741.7 529.7,1679.5 530.1,1679.5 530.1,1757.4 530.5,1757.4 530.5,1750.9 530.9,1750.9 530.9,1734.6 531.3,1734.6 531.3,1700.9 531.7,1700.9 531.7,1741.9 532.1,1741.9 532.1,1701.9 532.4,1701.9 532.4,1751.8 532.8,1751.8 532.8,1751.7 533.2,1751.7 533.2,1760.3 533.6,1760.3 533.6,1708.4 534.0,1708.4 534.0,1743.3 534.4,1743.3 534.4,1697.3 534.8,1697.3 534.8,1726.1 535.2,1726.1 535.2,1717.9 535.6,1717.9 535.6,1762.4 535.9,1762.4 535.9,1748.4 536.3,1748.4 536.3,1700.5 536.7,1700.5 536.7,1744.9 537.1,1744.9 537.1,1708.5 537.5,1708.5 537.5,1700.1 537.9,1700.1 537.9,1720.0 538.3,1720.0 538.3,1685.5 538.7,1685.5 538.7,1708.0 539.1,1708.0 539.1,1729.7 539.5,1729.7 539.5,1705.4 539.8,1705.4 539.8,1743.3 540.2,1743.3 540.2,1699.0 540.6,1699.0 540.6,1752.0 541.0,1752.0 541.0,1780.5 541.4,1780.5 541.4,1706.6 541.8,1706.6 541.8,1707.9 542.2,1707.9 542.2,1684.5 542.6,1684.5 542.6,1670.7 543.0,1670.7 543.0,1698.9 543.4,1698.9 543.4,1699.5 543.7,1699.5 543.7,1727.1 544.1,1727.1 544.1,1701.3 544.5,1701.3 544.5,1745.8 544.9,1745.8 544.9,1682.2 545.3,1682.2 545.3,1733.7 545.7,1733.7 545.7,1736.4 546.1,1736.4 546.1,1689.0 546.5,1689.0 546.5,1694.2 546.9,1694.2 546.9,1722.2 547.2,1722.2 547.2,1672.7 547.6,1672.7 547.6,1683.1 548.0,1683.1 548.0,1729.3 548.4,1729.3 548.4,1647.3 548.8,1647.3 548.8,1780.9 549.2,1780.9 549.2,1685.3 549.6,1685.3 549.6,1777.0 550.0,1777.0 550.0,1739.9 550.4,1739.9 550.4,1719.2 550.8,1719.2 550.8,1719.1 551.1,1719.1 551.1,1749.9 551.5,1749.9 551.5,1734.5 551.9,1734.5 551.9,1719.4 552.3,1719.4 552.3,1750.6 552.7,1750.6 552.7,1694.1 553.1,1694.1 553.1,1761.3 553.5,1761.3 553.5,1707.3 553.9,1707.3 553.9,1827.4 554.3,1827.4 554.3,1754.1 554.6,1754.1 554.6,1645.5 555.0,1645.5 555.0,1698.0 555.4,1698.0 555.4,1728.0 555.8,1728.0 555.8,1706.9 556.2,1706.9 556.2,1717.5 556.6,1717.5 556.6,1720.6 557.0,1720.6 557.0,1735.2 557.4,1735.2 557.4,1674.1 557.8,1674.1 557.8,1715.7 558.2,1715.7 558.2,1723.5 558.5,1723.5 558.5,1703.8 558.9,1703.8 558.9,1704.2 559.3,1704.2 559.3,1750.2 559.7,1750.2 559.7,1755.2 560.1,1755.2 560.1,1766.9 560.5,1766.9 560.5,1703.5 560.9,1703.5 560.9,1727.3 561.3,1727.3 561.3,1745.2 561.7,1745.2 561.7,1704.6 562.1,1704.6 562.1,1721.2 562.4,1721.2 562.4,1797.0 562.8,1797.0 562.8,1693.7 563.2,1693.7 563.2,1693.6 563.6,1693.6 563.6,1675.8 564.0,1675.8 564.0,1705.7 564.4,1705.7 564.4,1691.8 564.8,1691.8 564.8,1692.5 565.2,1692.5 565.2,1701.4 565.6,1701.4 565.6,1722.2 565.9,1722.2 565.9,1715.0 566.3,1715.0 566.3,1677.4 566.7,1677.4 566.7,1683.6 567.1,1683.6 567.1,1675.0 567.5,1675.0 567.5,1765.9 567.9,1765.9 567.9,1653.3 568.3,1653.3 568.3,1741.8 568.7,1741.8 568.7,1717.2 569.1,1717.2 569.1,1693.8 569.5,1693.8 569.5,1645.1 569.8,1645.1 569.8,1726.4 570.2,1726.4 570.2,1700.9 570.6,1700.9 570.6,1673.6 571.0,1673.6 571.0,1775.9 571.4,1775.9 571.4,1760.9 571.8,1760.9 571.8,1725.3 572.2,1725.3 572.2,1742.9 572.6,1742.9 572.6,1768.1 573.0,1768.1 573.0,1791.5 573.3,1791.5 573.3,1676.4 573.7,1676.4 573.7,1714.2 574.1,1714.2 574.1,1744.2 574.5,1744.2 574.5,1711.8 574.9,1711.8 574.9,1718.6 575.3,1718.6 575.3,1726.6 575.7,1726.6 575.7,1796.9 576.1,1796.9 576.1,1733.7 576.5,1733.7 576.5,1724.3 576.9,1724.3 576.9,1726.8 577.2,1726.8 577.2,1699.1 577.6,1699.1 577.6,1803.9 578.0,1803.9 578.0,1681.1 578.4,1681.1 578.4,1710.0 578.8,1710.0 578.8,1740.1 579.2,1740.1 579.2,1765.0 579.6,1765.0 579.6,1724.3 580.0,1724.3 580.0,1698.1 580.4,1698.1 580.4,1685.7 580.8,1685.7 580.8,1741.4 581.1,1741.4 581.1,1738.3 581.5,1738.3 581.5,1695.6 581.9,1695.6 581.9,1747.7 582.3,1747.7 582.3,1721.1 582.7,1721.1 582.7,1725.3 583.1,1725.3 583.1,1735.4 583.5,1735.4 583.5,1719.1 583.9,1719.1 583.9,1683.2 584.3,1683.2 584.3,1747.2 584.6,1747.2 584.6,1752.8 585.0,1752.8 585.0,1733.5 585.4,1733.5 585.4,1749.4 585.8,1749.4 585.8,1702.1 586.2,1702.1 586.2,1710.8 586.6,1710.8 586.6,1685.9 587.0,1685.9 587.0,1663.9 587.4,1663.9 587.4,1738.9 587.8,1738.9 587.8,1756.5 588.2,1756.5 588.2,1720.9 588.5,1720.9 588.5,1767.9 588.9,1767.9 588.9,1715.3 589.3,1715.3 589.3,1778.4 589.7,1778.4 589.7,1650.1 590.1,1650.1 590.1,1707.2 590.5,1707.2 590.5,1747.5 590.9,1747.5 590.9,1739.1 591.3,1739.1 591.3,1705.8 591.7,1705.8 591.7,1720.5 592.0,1720.5 592.0,1733.7 592.4,1733.7 592.4,1808.6 592.8,1808.6 592.8,1610.8 593.2,1610.8 593.2,1643.1 593.6,1643.1 593.6,1665.6 594.0,1665.6 594.0,1754.6 594.4,1754.6 594.4,1702.7 594.8,1702.7 594.8,1713.6 595.2,1713.6 595.2,1715.1 595.6,1715.1 595.6,1738.8 595.9,1738.8 595.9,1710.9 596.3,1710.9 596.3,1686.9 596.7,1686.9 596.7,1721.9 597.1,1721.9 597.1,1731.9 597.5,1731.9 597.5,1725.0 597.9,1725.0 597.9,1795.4 598.3,1795.4 598.3,1724.6 598.7,1724.6 598.7,1724.8 599.1,1724.8 599.1,1773.6 599.5,1773.6 599.5,1790.2 599.8,1790.2 599.8,1748.2 600.2,1748.2 600.2,1770.3 600.6,1770.3 600.6,1781.1 601.0,1781.1 601.0,1798.3 601.4,1798.3 601.4,1772.4 601.8,1772.4 601.8,1734.5 602.2,1734.5 602.2,1712.1 602.6,1712.1 602.6,1681.0 603.0,1681.0 603.0,1722.0 603.3,1722.0 603.3,1737.4 603.7,1737.4 603.7,1750.1 604.1,1750.1 604.1,1747.6 604.5,1747.6 604.5,1731.5 604.9,1731.5 604.9,1715.3 605.3,1715.3 605.3,1750.3 605.7,1750.3 605.7,1706.5 606.1,1706.5 606.1,1785.1 606.5,1785.1 606.5,1845.3 606.9,1845.3 606.9,1727.8 607.2,1727.8 607.2,1798.0 607.6,1798.0 607.6,1702.3 608.0,1702.3 608.0,1729.7 608.4,1729.7 608.4,1761.8 608.8,1761.8 608.8,1770.0 609.2,1770.0 609.2,1721.8 609.6,1721.8 609.6,1699.2 610.0,1699.2 610.0,1698.9 610.4,1698.9 610.4,1777.7 610.7,1777.7 610.7,1722.1 611.1,1722.1 611.1,1802.5 611.5,1802.5 611.5,1746.8 611.9,1746.8 611.9,1735.7 612.3,1735.7 612.3,1772.1 612.7,1772.1 612.7,1777.4 613.1,1777.4 613.1,1746.8 613.5,1746.8 613.5,1712.4 613.9,1712.4 613.9,1688.0 614.3,1688.0 614.3,1703.6 614.6,1703.6 614.6,1719.2 615.0,1719.2 615.0,1723.5 615.4,1723.5 615.4,1744.7 615.8,1744.7 615.8,1709.6 616.2,1709.6 616.2,1736.1 616.6,1736.1 616.6,1737.1 617.0,1737.1 617.0,1730.8 617.4,1730.8 617.4,1697.6 617.8,1697.6 617.8,1849.9 618.1,1849.9 618.1,1692.2 618.5,1692.2 618.5,1756.8 618.9,1756.8 618.9,1712.1 619.3,1712.1 619.3,1723.6 619.7,1723.6 619.7,1776.1 620.1,1776.1 620.1,1778.4 620.5,1778.4 620.5,1707.4 620.9,1707.4 620.9,1731.7 621.3,1731.7 621.3,1755.6 621.7,1755.6 621.7,1736.2 622.0,1736.2 622.0,1718.3 622.4,1718.3 622.4,1718.2 622.8,1718.2 622.8,1742.8 623.2,1742.8 623.2,1727.7 623.6,1727.7 623.6,1652.2 624.0,1652.2 624.0,1775.4 624.4,1775.4 624.4,1716.9 624.8,1716.9 624.8,1721.9 625.2,1721.9 625.2,1752.5 625.6,1752.5 625.6,1792.7 625.9,1792.7 625.9,1755.7 626.3,1755.7 626.3,1708.8 626.7,1708.8 626.7,1713.4 627.1,1713.4 627.1,1747.2 627.5,1747.2 627.5,1775.7 627.9,1775.7 627.9,1721.9 628.3,1721.9 628.3,1787.7 628.7,1787.7 628.7,1752.3 629.1,1752.3 629.1,1740.4 629.4,1740.4 629.4,1756.8 629.8,1756.8 629.8,1755.2 630.2,1755.2 630.2,1774.2 630.6,1774.2 630.6,1675.0 631.0,1675.0 631.0,1705.7 631.4,1705.7 631.4,1668.7 631.8,1668.7 631.8,1727.6 632.2,1727.6 632.2,1770.2 632.6,1770.2 632.6,1605.1 633.0,1605.1 633.0,1732.2 633.3,1732.2 633.3,1709.3 633.7,1709.3 633.7,1752.5 634.1,1752.5 634.1,1759.2 634.5,1759.2 634.5,1751.1 634.9,1751.1 634.9,1733.6 635.3,1733.6 635.3,1726.7 635.7,1726.7 635.7,1752.7 636.1,1752.7 636.1,1704.1 636.5,1704.1 636.5,1791.0 636.8,1791.0 636.8,1716.8 637.2,1716.8 637.2,1753.2 637.6,1753.2 637.6,1739.5 638.0,1739.5 638.0,1743.0 638.4,1743.0 638.4,1714.4 638.8,1714.4 638.8,1752.1 639.2,1752.1 639.2,1757.0 639.6,1757.0 639.6,1773.1 640.0,1773.1 640.0,1764.0 640.4,1764.0 640.4,1748.5 640.7,1748.5 640.7,1796.3 641.1,1796.3 641.1,1810.7 641.5,1810.7 641.5,1725.7 641.9,1725.7 641.9,1699.2 642.3,1699.2 642.3,1693.2 642.7,1693.2 642.7,1728.8 643.1,1728.8 643.1,1707.0 643.5,1707.0 643.5,1703.0 643.9,1703.0 643.9,1696.6 644.3,1696.6 644.3,1767.5 644.6,1767.5 644.6,1742.4 645.0,1742.4 645.0,1715.4 645.4,1715.4 645.4,1827.6 645.8,1827.6 645.8,1774.7" fill="none" stroke="#7f9e72" stroke-width="1.8" stroke-linejoin="round" />
<line x1="334.4" y1="1562.6" x2="334.4" y2="2151.3" stroke="#000" stroke-width="1.8" stroke-dasharray="6.4,5.3"/>
<line x1="412.2" y1="1562.6" x2="412.2" y2="2151.3" stroke="#000" stroke-width="1.8" stroke-dasharray="6.4,5.3"/>
<text x="373.3" y="1723.8" font-size="7.6" class="ib" text-anchor="middle" textLength="75.9" lengthAdjust="spacingAndGlyphs">insulation boundary</text>
<line x1="73.5" y1="1561.7" x2="73.5" y2="2151.3" stroke="#000" stroke-width="1.5" />
<line x1="69" y1="2121.7" x2="73.5" y2="2121.7" stroke="#000" stroke-width="1.1" />
<text transform="translate(66,2128.7) scale(0.908,1)" font-size="18.4" class="tk" text-anchor="end" >0.425</text>
<line x1="69" y1="2012.6" x2="73.5" y2="2012.6" stroke="#000" stroke-width="1.1" />
<text transform="translate(66,2019.6) scale(0.908,1)" font-size="18.4" class="tk" text-anchor="end" >0.450</text>
<line x1="69" y1="1903.5" x2="73.5" y2="1903.5" stroke="#000" stroke-width="1.1" />
<text transform="translate(66,1910.5) scale(0.908,1)" font-size="18.4" class="tk" text-anchor="end" >0.475</text>
<line x1="69" y1="1794.4" x2="73.5" y2="1794.4" stroke="#000" stroke-width="1.1" />
<text transform="translate(66,1801.4) scale(0.908,1)" font-size="18.4" class="tk" text-anchor="end" >0.500</text>
<line x1="69" y1="1685.3" x2="73.5" y2="1685.3" stroke="#000" stroke-width="1.1" />
<text transform="translate(66,1692.3) scale(0.908,1)" font-size="18.4" class="tk" text-anchor="end" >0.525</text>
<line x1="69" y1="1576.2" x2="73.5" y2="1576.2" stroke="#000" stroke-width="1.1" />
<text transform="translate(66,1583.2) scale(0.908,1)" font-size="18.4" class="tk" text-anchor="end" >0.550</text>
<line x1="73.5" y1="2151.3" x2="673.8" y2="2151.3" stroke="#000" stroke-width="1.5" />
<line x1="100.8" y1="2151.3" x2="100.8" y2="2155.8" stroke="#000" stroke-width="1.1" />
<text transform="translate(100.8,2171.3) scale(0.908,1)" font-size="18.4" class="tk" text-anchor="middle" >-35</text>
<line x1="139.7" y1="2151.3" x2="139.7" y2="2155.8" stroke="#000" stroke-width="1.1" />
<text transform="translate(139.7,2171.3) scale(0.908,1)" font-size="18.4" class="tk" text-anchor="middle" >-30</text>
<line x1="178.7" y1="2151.3" x2="178.7" y2="2155.8" stroke="#000" stroke-width="1.1" />
<text transform="translate(178.7,2171.3) scale(0.908,1)" font-size="18.4" class="tk" text-anchor="middle" >-25</text>
<line x1="217.6" y1="2151.3" x2="217.6" y2="2155.8" stroke="#000" stroke-width="1.1" />
<text transform="translate(217.6,2171.3) scale(0.908,1)" font-size="18.4" class="tk" text-anchor="middle" >-20</text>
<line x1="256.5" y1="2151.3" x2="256.5" y2="2155.8" stroke="#000" stroke-width="1.1" />
<text transform="translate(256.5,2171.3) scale(0.908,1)" font-size="18.4" class="tk" text-anchor="middle" >-15</text>
<line x1="295.4" y1="2151.3" x2="295.4" y2="2155.8" stroke="#000" stroke-width="1.1" />
<text transform="translate(295.4,2171.3) scale(0.908,1)" font-size="18.4" class="tk" text-anchor="middle" >-10</text>
<line x1="334.4" y1="2151.3" x2="334.4" y2="2155.8" stroke="#000" stroke-width="1.1" />
<text transform="translate(334.4,2171.3) scale(0.908,1)" font-size="18.4" class="tk" text-anchor="middle" >-5</text>
<line x1="373.3" y1="2151.3" x2="373.3" y2="2155.8" stroke="#000" stroke-width="1.1" />
<text transform="translate(373.3,2171.3) scale(0.908,1)" font-size="18.4" class="tk" text-anchor="middle" >0</text>
<line x1="412.2" y1="2151.3" x2="412.2" y2="2155.8" stroke="#000" stroke-width="1.1" />
<text transform="translate(412.2,2171.3) scale(0.908,1)" font-size="18.4" class="tk" text-anchor="middle" >5</text>
<line x1="451.2" y1="2151.3" x2="451.2" y2="2155.8" stroke="#000" stroke-width="1.1" />
<text transform="translate(451.2,2171.3) scale(0.908,1)" font-size="18.4" class="tk" text-anchor="middle" >10</text>
<line x1="490.1" y1="2151.3" x2="490.1" y2="2155.8" stroke="#000" stroke-width="1.1" />
<text transform="translate(490.1,2171.3) scale(0.908,1)" font-size="18.4" class="tk" text-anchor="middle" >15</text>
<line x1="529" y1="2151.3" x2="529" y2="2155.8" stroke="#000" stroke-width="1.1" />
<text transform="translate(529,2171.3) scale(0.908,1)" font-size="18.4" class="tk" text-anchor="middle" >20</text>
<line x1="568" y1="2151.3" x2="568" y2="2155.8" stroke="#000" stroke-width="1.1" />
<text transform="translate(568,2171.3) scale(0.908,1)" font-size="18.4" class="tk" text-anchor="middle" >25</text>
<line x1="606.9" y1="2151.3" x2="606.9" y2="2155.8" stroke="#000" stroke-width="1.1" />
<text transform="translate(606.9,2171.3) scale(0.908,1)" font-size="18.4" class="tk" text-anchor="middle" >30</text>
<line x1="645.8" y1="2151.3" x2="645.8" y2="2155.8" stroke="#000" stroke-width="1.1" />
<text transform="translate(645.8,2171.3) scale(0.908,1)" font-size="18.4" class="tk" text-anchor="middle" >35</text>
<text x="373.5" y="1511.1" font-size="28.8" class="tt" text-anchor="middle" >GC content at domain boundary regions</text>
<text transform="translate(373.5,1545.5) scale(1.03,1)" font-size="28.8" class="tt" text-anchor="middle" >(Contigs Smic 1.0)</text>
<text transform="translate(373.6,2193.3) scale(0.895,1)" font-size="22" class="lb" text-anchor="middle" >Position relative to domain boundary (kb)</text>
<text x="0" y="0" font-size="23" class="lb" text-anchor="middle" transform="translate(17.1,1856.8) rotate(-90) scale(0.872,1)">GC content</text>
<polyline points="817.3,1718.5 817.7,1718.5 817.7,1659.9 818.1,1659.9 818.1,1677.3 818.5,1677.3 818.5,1717.0 818.9,1717.0 818.9,1727.9 819.3,1727.9 819.3,1711.6 819.6,1711.6 819.6,1691.4 820.0,1691.4 820.0,1665.5 820.4,1665.5 820.4,1714.5 820.8,1714.5 820.8,1689.9 821.2,1689.9 821.2,1693.4 821.6,1693.4 821.6,1655.8 822.0,1655.8 822.0,1628.1 822.4,1628.1 822.4,1703.6 822.8,1703.6 822.8,1679.7 823.2,1679.7 823.2,1713.5 823.5,1713.5 823.5,1705.1 823.9,1705.1 823.9,1673.6 824.3,1673.6 824.3,1722.8 824.7,1722.8 824.7,1747.6 825.1,1747.6 825.1,1690.5 825.5,1690.5 825.5,1710.9 825.9,1710.9 825.9,1694.3 826.3,1694.3 826.3,1698.2 826.7,1698.2 826.7,1693.4 827.0,1693.4 827.0,1677.8 827.4,1677.8 827.4,1785.2 827.8,1785.2 827.8,1729.7 828.2,1729.7 828.2,1681.0 828.6,1681.0 828.6,1642.2 829.0,1642.2 829.0,1708.4 829.4,1708.4 829.4,1675.0 829.8,1675.0 829.8,1677.7 830.2,1677.7 830.2,1690.3 830.6,1690.3 830.6,1690.1 830.9,1690.1 830.9,1696.1 831.3,1696.1 831.3,1680.9 831.7,1680.9 831.7,1709.6 832.1,1709.6 832.1,1718.0 832.5,1718.0 832.5,1660.3 832.9,1660.3 832.9,1696.9 833.3,1696.9 833.3,1700.0 833.7,1700.0 833.7,1679.9 834.1,1679.9 834.1,1636.0 834.4,1636.0 834.4,1680.0 834.8,1680.0 834.8,1724.9 835.2,1724.9 835.2,1657.6 835.6,1657.6 835.6,1694.8 836.0,1694.8 836.0,1702.0 836.4,1702.0 836.4,1667.9 836.8,1667.9 836.8,1670.0 837.2,1670.0 837.2,1667.5 837.6,1667.5 837.6,1658.5 838.0,1658.5 838.0,1690.1 838.3,1690.1 838.3,1666.0 838.7,1666.0 838.7,1677.1 839.1,1677.1 839.1,1693.1 839.5,1693.1 839.5,1681.8 839.9,1681.8 839.9,1686.2 840.3,1686.2 840.3,1675.4 840.7,1675.4 840.7,1687.1 841.1,1687.1 841.1,1676.0 841.5,1676.0 841.5,1700.3 841.8,1700.3 841.8,1695.0 842.2,1695.0 842.2,1696.9 842.6,1696.9 842.6,1712.2 843.0,1712.2 843.0,1713.7 843.4,1713.7 843.4,1695.3 843.8,1695.3 843.8,1694.7 844.2,1694.7 844.2,1676.5 844.6,1676.5 844.6,1699.6 845.0,1699.6 845.0,1691.8 845.4,1691.8 845.4,1720.7 845.7,1720.7 845.7,1706.9 846.1,1706.9 846.1,1686.5 846.5,1686.5 846.5,1687.2 846.9,1687.2 846.9,1713.8 847.3,1713.8 847.3,1725.1 847.7,1725.1 847.7,1685.8 848.1,1685.8 848.1,1662.7 848.5,1662.7 848.5,1655.8 848.9,1655.8 848.9,1686.8 849.2,1686.8 849.2,1664.7 849.6,1664.7 849.6,1700.0 850.0,1700.0 850.0,1641.5 850.4,1641.5 850.4,1677.0 850.8,1677.0 850.8,1697.4 851.2,1697.4 851.2,1699.7 851.6,1699.7 851.6,1688.2 852.0,1688.2 852.0,1672.5 852.4,1672.5 852.4,1666.2 852.8,1666.2 852.8,1688.0 853.1,1688.0 853.1,1701.5 853.5,1701.5 853.5,1686.1 853.9,1686.1 853.9,1683.7 854.3,1683.7 854.3,1699.4 854.7,1699.4 854.7,1703.1 855.1,1703.1 855.1,1703.4 855.5,1703.4 855.5,1693.9 855.9,1693.9 855.9,1680.9 856.3,1680.9 856.3,1702.5 856.6,1702.5 856.6,1678.3 857.0,1678.3 857.0,1703.6 857.4,1703.6 857.4,1707.5 857.8,1707.5 857.8,1686.5 858.2,1686.5 858.2,1711.5 858.6,1711.5 858.6,1705.9 859.0,1705.9 859.0,1637.2 859.4,1637.2 859.4,1720.7 859.8,1720.7 859.8,1696.5 860.2,1696.5 860.2,1691.1 860.5,1691.1 860.5,1679.6 860.9,1679.6 860.9,1688.3 861.3,1688.3 861.3,1703.8 861.7,1703.8 861.7,1704.4 862.1,1704.4 862.1,1682.2 862.5,1682.2 862.5,1685.2 862.9,1685.2 862.9,1708.1 863.3,1708.1 863.3,1671.7 863.7,1671.7 863.7,1689.2 864.0,1689.2 864.0,1640.9 864.4,1640.9 864.4,1680.4 864.8,1680.4 864.8,1677.4 865.2,1677.4 865.2,1709.1 865.6,1709.1 865.6,1698.9 866.0,1698.9 866.0,1658.0 866.4,1658.0 866.4,1659.9 866.8,1659.9 866.8,1685.3 867.2,1685.3 867.2,1700.5 867.6,1700.5 867.6,1691.5 867.9,1691.5 867.9,1724.9 868.3,1724.9 868.3,1687.2 868.7,1687.2 868.7,1707.5 869.1,1707.5 869.1,1673.9 869.5,1673.9 869.5,1687.1 869.9,1687.1 869.9,1697.2 870.3,1697.2 870.3,1675.4 870.7,1675.4 870.7,1702.8 871.1,1702.8 871.1,1691.8 871.4,1691.8 871.4,1695.1 871.8,1695.1 871.8,1691.6 872.2,1691.6 872.2,1723.5 872.6,1723.5 872.6,1673.6 873.0,1673.6 873.0,1718.7 873.4,1718.7 873.4,1711.9 873.8,1711.9 873.8,1665.2 874.2,1665.2 874.2,1721.2 874.6,1721.2 874.6,1668.2 875.0,1668.2 875.0,1639.4 875.3,1639.4 875.3,1710.0 875.7,1710.0 875.7,1693.3 876.1,1693.3 876.1,1704.5 876.5,1704.5 876.5,1714.8 876.9,1714.8 876.9,1708.3 877.3,1708.3 877.3,1703.6 877.7,1703.6 877.7,1695.9 878.1,1695.9 878.1,1719.7 878.5,1719.7 878.5,1697.1 878.8,1697.1 878.8,1695.0 879.2,1695.0 879.2,1705.6 879.6,1705.6 879.6,1645.2 880.0,1645.2 880.0,1691.8 880.4,1691.8 880.4,1707.3 880.8,1707.3 880.8,1698.6 881.2,1698.6 881.2,1750.4 881.6,1750.4 881.6,1697.2 882.0,1697.2 882.0,1724.2 882.4,1724.2 882.4,1697.0 882.7,1697.0 882.7,1701.2 883.1,1701.2 883.1,1676.5 883.5,1676.5 883.5,1695.4 883.9,1695.4 883.9,1679.7 884.3,1679.7 884.3,1682.2 884.7,1682.2 884.7,1677.9 885.1,1677.9 885.1,1679.5 885.5,1679.5 885.5,1700.0 885.9,1700.0 885.9,1658.6 886.2,1658.6 886.2,1707.7 886.6,1707.7 886.6,1660.6 887.0,1660.6 887.0,1695.8 887.4,1695.8 887.4,1703.4 887.8,1703.4 887.8,1716.8 888.2,1716.8 888.2,1717.1 888.6,1717.1 888.6,1650.9 889.0,1650.9 889.0,1680.1 889.4,1680.1 889.4,1695.1 889.8,1695.1 889.8,1696.2 890.1,1696.2 890.1,1720.8 890.5,1720.8 890.5,1715.4 890.9,1715.4 890.9,1707.5 891.3,1707.5 891.3,1681.8 891.7,1681.8 891.7,1683.3 892.1,1683.3 892.1,1706.4 892.5,1706.4 892.5,1698.5 892.9,1698.5 892.9,1671.1 893.3,1671.1 893.3,1712.2 893.6,1712.2 893.6,1684.9 894.0,1684.9 894.0,1707.9 894.4,1707.9 894.4,1695.2 894.8,1695.2 894.8,1714.1 895.2,1714.1 895.2,1697.6 895.6,1697.6 895.6,1673.8 896.0,1673.8 896.0,1674.8 896.4,1674.8 896.4,1703.5 896.8,1703.5 896.8,1709.3 897.2,1709.3 897.2,1709.4 897.5,1709.4 897.5,1689.7 897.9,1689.7 897.9,1703.5 898.3,1703.5 898.3,1711.6 898.7,1711.6 898.7,1708.5 899.1,1708.5 899.1,1704.1 899.5,1704.1 899.5,1720.6 899.9,1720.6 899.9,1697.7 900.3,1697.7 900.3,1689.6 900.7,1689.6 900.7,1720.6 901.0,1720.6 901.0,1676.1 901.4,1676.1 901.4,1703.6 901.8,1703.6 901.8,1705.3 902.2,1705.3 902.2,1668.4 902.6,1668.4 902.6,1694.0 903.0,1694.0 903.0,1701.4 903.4,1701.4 903.4,1681.1 903.8,1681.1 903.8,1706.0 904.2,1706.0 904.2,1689.3 904.6,1689.3 904.6,1668.5 904.9,1668.5 904.9,1684.7 905.3,1684.7 905.3,1706.3 905.7,1706.3 905.7,1688.6 906.1,1688.6 906.1,1683.5 906.5,1683.5 906.5,1700.9 906.9,1700.9 906.9,1702.0 907.3,1702.0 907.3,1676.3 907.7,1676.3 907.7,1695.8 908.1,1695.8 908.1,1715.1 908.4,1715.1 908.4,1739.8 908.8,1739.8 908.8,1666.7 909.2,1666.7 909.2,1726.6 909.6,1726.6 909.6,1691.8 910.0,1691.8 910.0,1700.3 910.4,1700.3 910.4,1688.1 910.8,1688.1 910.8,1690.5 911.2,1690.5 911.2,1694.0 911.6,1694.0 911.6,1715.9 912.0,1715.9 912.0,1718.8 912.3,1718.8 912.3,1720.0 912.7,1720.0 912.7,1732.3 913.1,1732.3 913.1,1728.3 913.5,1728.3 913.5,1704.3 913.9,1704.3 913.9,1692.4 914.3,1692.4 914.3,1689.2 914.7,1689.2 914.7,1712.3 915.1,1712.3 915.1,1728.1 915.5,1728.1 915.5,1666.6 915.8,1666.6 915.8,1695.9 916.2,1695.9 916.2,1690.4 916.6,1690.4 916.6,1704.7 917.0,1704.7 917.0,1690.0 917.4,1690.0 917.4,1685.1 917.8,1685.1 917.8,1695.0 918.2,1695.0 918.2,1703.7 918.6,1703.7 918.6,1699.4 919.0,1699.4 919.0,1703.5 919.4,1703.5 919.4,1679.1 919.7,1679.1 919.7,1710.5 920.1,1710.5 920.1,1667.9 920.5,1667.9 920.5,1705.6 920.9,1705.6 920.9,1646.4 921.3,1646.4 921.3,1704.4 921.7,1704.4 921.7,1694.2 922.1,1694.2 922.1,1675.7 922.5,1675.7 922.5,1722.6 922.9,1722.6 922.9,1680.5 923.2,1680.5 923.2,1708.6 923.6,1708.6 923.6,1728.0 924.0,1728.0 924.0,1664.7 924.4,1664.7 924.4,1755.2 924.8,1755.2 924.8,1702.9 925.2,1702.9 925.2,1690.2 925.6,1690.2 925.6,1691.0 926.0,1691.0 926.0,1677.6 926.4,1677.6 926.4,1671.2 926.8,1671.2 926.8,1694.3 927.1,1694.3 927.1,1689.2 927.5,1689.2 927.5,1683.4 927.9,1683.4 927.9,1677.7 928.3,1677.7 928.3,1701.3 928.7,1701.3 928.7,1712.8 929.1,1712.8 929.1,1675.1 929.5,1675.1 929.5,1711.6 929.9,1711.6 929.9,1685.2 930.3,1685.2 930.3,1685.1 930.6,1685.1 930.6,1672.0 931.0,1672.0 931.0,1691.8 931.4,1691.8 931.4,1678.4 931.8,1678.4 931.8,1709.4 932.2,1709.4 932.2,1673.1 932.6,1673.1 932.6,1668.4 933.0,1668.4 933.0,1670.2 933.4,1670.2 933.4,1685.7 933.8,1685.7 933.8,1674.6 934.2,1674.6 934.2,1680.9 934.5,1680.9 934.5,1681.3 934.9,1681.3 934.9,1707.1 935.3,1707.1 935.3,1698.9 935.7,1698.9 935.7,1731.5 936.1,1731.5 936.1,1712.7 936.5,1712.7 936.5,1684.9 936.9,1684.9 936.9,1691.0 937.3,1691.0 937.3,1682.1 937.7,1682.1 937.7,1703.3 938.0,1703.3 938.0,1700.4 938.4,1700.4 938.4,1704.1 938.8,1704.1 938.8,1685.3 939.2,1685.3 939.2,1657.0 939.6,1657.0 939.6,1691.0 940.0,1691.0 940.0,1763.7 940.4,1763.7 940.4,1675.9 940.8,1675.9 940.8,1702.2 941.2,1702.2 941.2,1683.7 941.6,1683.7 941.6,1692.2 941.9,1692.2 941.9,1690.2 942.3,1690.2 942.3,1712.7 942.7,1712.7 942.7,1750.6 943.1,1750.6 943.1,1699.5 943.5,1699.5 943.5,1704.4 943.9,1704.4 943.9,1679.4 944.3,1679.4 944.3,1696.2 944.7,1696.2 944.7,1674.5 945.1,1674.5 945.1,1699.2 945.4,1699.2 945.4,1728.3 945.8,1728.3 945.8,1691.0 946.2,1691.0 946.2,1693.9 946.6,1693.9 946.6,1692.7 947.0,1692.7 947.0,1693.8 947.4,1693.8 947.4,1681.7 947.8,1681.7 947.8,1710.3 948.2,1710.3 948.2,1686.4 948.6,1686.4 948.6,1692.4 949.0,1692.4 949.0,1702.0 949.3,1702.0 949.3,1680.8 949.7,1680.8 949.7,1686.5 950.1,1686.5 950.1,1691.1 950.5,1691.1 950.5,1671.5 950.9,1671.5 950.9,1678.1 951.3,1678.1 951.3,1697.5 951.7,1697.5 951.7,1704.1 952.1,1704.1 952.1,1716.0 952.5,1716.0 952.5,1697.6 952.8,1697.6 952.8,1710.6 953.2,1710.6 953.2,1712.7 953.6,1712.7 953.6,1697.4 954.0,1697.4 954.0,1697.3 954.4,1697.3 954.4,1717.7 954.8,1717.7 954.8,1697.0 955.2,1697.0 955.2,1716.6 955.6,1716.6 955.6,1699.7 956.0,1699.7 956.0,1703.3 956.4,1703.3 956.4,1705.5 956.7,1705.5 956.7,1700.3 957.1,1700.3 957.1,1686.0 957.5,1686.0 957.5,1674.3 957.9,1674.3 957.9,1708.4 958.3,1708.4 958.3,1704.1 958.7,1704.1 958.7,1674.8 959.1,1674.8 959.1,1710.6 959.5,1710.6 959.5,1700.5 959.9,1700.5 959.9,1697.5 960.2,1697.5 960.2,1662.1 960.6,1662.1 960.6,1720.5 961.0,1720.5 961.0,1696.1 961.4,1696.1 961.4,1702.7 961.8,1702.7 961.8,1702.4 962.2,1702.4 962.2,1683.5 962.6,1683.5 962.6,1649.5 963.0,1649.5 963.0,1699.7 963.4,1699.7 963.4,1699.7 963.8,1699.7 963.8,1690.9 964.1,1690.9 964.1,1672.0 964.5,1672.0 964.5,1702.4 964.9,1702.4 964.9,1701.6 965.3,1701.6 965.3,1694.5 965.7,1694.5 965.7,1707.4 966.1,1707.4 966.1,1710.7 966.5,1710.7 966.5,1682.6 966.9,1682.6 966.9,1692.5 967.3,1692.5 967.3,1659.6 967.6,1659.6 967.6,1708.5 968.0,1708.5 968.0,1741.0 968.4,1741.0 968.4,1670.2 968.8,1670.2 968.8,1756.9 969.2,1756.9 969.2,1696.2 969.6,1696.2 969.6,1691.3 970.0,1691.3 970.0,1695.9 970.4,1695.9 970.4,1705.2 970.8,1705.2 970.8,1710.6 971.2,1710.6 971.2,1663.6 971.5,1663.6 971.5,1677.5 971.9,1677.5 971.9,1643.5 972.3,1643.5 972.3,1693.6 972.7,1693.6 972.7,1674.8 973.1,1674.8 973.1,1693.7 973.5,1693.7 973.5,1686.3 973.9,1686.3 973.9,1710.8 974.3,1710.8 974.3,1681.3 974.7,1681.3 974.7,1751.4 975.0,1751.4 975.0,1723.0 975.4,1723.0 975.4,1685.9 975.8,1685.9 975.8,1710.1 976.2,1710.1 976.2,1697.7 976.6,1697.7 976.6,1703.8 977.0,1703.8 977.0,1687.6 977.4,1687.6 977.4,1708.6 977.8,1708.6 977.8,1676.5 978.2,1676.5 978.2,1695.7 978.6,1695.7 978.6,1700.9 978.9,1700.9 978.9,1713.0 979.3,1713.0 979.3,1684.8 979.7,1684.8 979.7,1698.2 980.1,1698.2 980.1,1680.5 980.5,1680.5 980.5,1711.8 980.9,1711.8 980.9,1703.2 981.3,1703.2 981.3,1699.4 981.7,1699.4 981.7,1718.8 982.1,1718.8 982.1,1695.8 982.4,1695.8 982.4,1731.8 982.8,1731.8 982.8,1717.8 983.2,1717.8 983.2,1696.5 983.6,1696.5 983.6,1679.6 984.0,1679.6 984.0,1702.8 984.4,1702.8 984.4,1684.0 984.8,1684.0 984.8,1704.1 985.2,1704.1 985.2,1653.9 985.6,1653.9 985.6,1726.6 986.0,1726.6 986.0,1716.7 986.3,1716.7 986.3,1712.1 986.7,1712.1 986.7,1705.0 987.1,1705.0 987.1,1665.9 987.5,1665.9 987.5,1759.6 987.9,1759.6 987.9,1686.8 988.3,1686.8 988.3,1723.2 988.7,1723.2 988.7,1679.8 989.1,1679.8 989.1,1622.3 989.5,1622.3 989.5,1700.1 989.8,1700.1 989.8,1714.0 990.2,1714.0 990.2,1657.8 990.6,1657.8 990.6,1703.5 991.0,1703.5 991.0,1703.7 991.4,1703.7 991.4,1703.8 991.8,1703.8 991.8,1699.7 992.2,1699.7 992.2,1733.1 992.6,1733.1 992.6,1689.0 993.0,1689.0 993.0,1693.3 993.4,1693.3 993.4,1745.7 993.7,1745.7 993.7,1698.4 994.1,1698.4 994.1,1712.4 994.5,1712.4 994.5,1663.3 994.9,1663.3 994.9,1708.8 995.3,1708.8 995.3,1703.0 995.7,1703.0 995.7,1700.2 996.1,1700.2 996.1,1659.5 996.5,1659.5 996.5,1714.2 996.9,1714.2 996.9,1708.2 997.2,1708.2 997.2,1693.1 997.6,1693.1 997.6,1744.4 998.0,1744.4 998.0,1718.7 998.4,1718.7 998.4,1709.0 998.8,1709.0 998.8,1762.5 999.2,1762.5 999.2,1714.9 999.6,1714.9 999.6,1683.9 1000.0,1683.9 1000.0,1726.6 1000.4,1726.6 1000.4,1646.8 1000.8,1646.8 1000.8,1714.5 1001.1,1714.5 1001.1,1709.4 1001.5,1709.4 1001.5,1710.0 1001.9,1710.0 1001.9,1699.8 1002.3,1699.8 1002.3,1682.8 1002.7,1682.8 1002.7,1686.9 1003.1,1686.9 1003.1,1719.6 1003.5,1719.6 1003.5,1700.4 1003.9,1700.4 1003.9,1739.0 1004.3,1739.0 1004.3,1688.8 1004.6,1688.8 1004.6,1686.8 1005.0,1686.8 1005.0,1706.2 1005.4,1706.2 1005.4,1735.8 1005.8,1735.8 1005.8,1698.3 1006.2,1698.3 1006.2,1714.3 1006.6,1714.3 1006.6,1687.8 1007.0,1687.8 1007.0,1696.3 1007.4,1696.3 1007.4,1692.9 1007.8,1692.9 1007.8,1702.6 1008.2,1702.6 1008.2,1726.3 1008.5,1726.3 1008.5,1719.4 1008.9,1719.4 1008.9,1721.2 1009.3,1721.2 1009.3,1715.5 1009.7,1715.5 1009.7,1718.9 1010.1,1718.9 1010.1,1734.7 1010.5,1734.7 1010.5,1719.3 1010.9,1719.3 1010.9,1708.4 1011.3,1708.4 1011.3,1734.5 1011.7,1734.5 1011.7,1714.5 1012.0,1714.5 1012.0,1734.9 1012.4,1734.9 1012.4,1722.7 1012.8,1722.7 1012.8,1724.2 1013.2,1724.2 1013.2,1698.6 1013.6,1698.6 1013.6,1708.8 1014.0,1708.8 1014.0,1723.4 1014.4,1723.4 1014.4,1738.1 1014.8,1738.1 1014.8,1675.6 1015.2,1675.6 1015.2,1724.2 1015.6,1724.2 1015.6,1734.2 1015.9,1734.2 1015.9,1725.9 1016.3,1725.9 1016.3,1732.4 1016.7,1732.4 1016.7,1740.2 1017.1,1740.2 1017.1,1714.0 1017.5,1714.0 1017.5,1725.5 1017.9,1725.5 1017.9,1744.3 1018.3,1744.3 1018.3,1711.4 1018.7,1711.4 1018.7,1686.8 1019.1,1686.8 1019.1,1743.3 1019.4,1743.3 1019.4,1723.2 1019.8,1723.2 1019.8,1729.2 1020.2,1729.2 1020.2,1745.2 1020.6,1745.2 1020.6,1736.0 1021.0,1736.0 1021.0,1718.8 1021.4,1718.8 1021.4,1729.2 1021.8,1729.2 1021.8,1711.5 1022.2,1711.5 1022.2,1759.1 1022.6,1759.1 1022.6,1746.3 1023.0,1746.3 1023.0,1760.0 1023.3,1760.0 1023.3,1757.2 1023.7,1757.2 1023.7,1729.4 1024.1,1729.4 1024.1,1692.7 1024.5,1692.7 1024.5,1749.5 1024.9,1749.5 1024.9,1756.7 1025.3,1756.7 1025.3,1720.5 1025.7,1720.5 1025.7,1725.5 1026.1,1725.5 1026.1,1746.4 1026.5,1746.4 1026.5,1754.8 1026.8,1754.8 1026.8,1778.7 1027.2,1778.7 1027.2,1749.0 1027.6,1749.0 1027.6,1730.7 1028.0,1730.7 1028.0,1770.0 1028.4,1770.0 1028.4,1769.0 1028.8,1769.0 1028.8,1764.5 1029.2,1764.5 1029.2,1736.3 1029.6,1736.3 1029.6,1766.4 1030.0,1766.4 1030.0,1746.6 1030.4,1746.6 1030.4,1801.0 1030.7,1801.0 1030.7,1769.9 1031.1,1769.9 1031.1,1742.0 1031.5,1742.0 1031.5,1761.0 1031.9,1761.0 1031.9,1714.1 1032.3,1714.1 1032.3,1782.6 1032.7,1782.6 1032.7,1742.1 1033.1,1742.1 1033.1,1763.8 1033.5,1763.8 1033.5,1765.0 1033.9,1765.0 1033.9,1755.2 1034.2,1755.2 1034.2,1793.7 1034.6,1793.7 1034.6,1786.9 1035.0,1786.9 1035.0,1778.0 1035.4,1778.0 1035.4,1802.3 1035.8,1802.3 1035.8,1757.9 1036.2,1757.9 1036.2,1815.1 1036.6,1815.1 1036.6,1809.9 1037.0,1809.9 1037.0,1806.9 1037.4,1806.9 1037.4,1795.7 1037.8,1795.7 1037.8,1806.2 1038.1,1806.2 1038.1,1805.3 1038.5,1805.3 1038.5,1818.4 1038.9,1818.4 1038.9,1784.7 1039.3,1784.7 1039.3,1793.7 1039.7,1793.7 1039.7,1784.1 1040.1,1784.1 1040.1,1855.0 1040.5,1855.0 1040.5,1813.3 1040.9,1813.3 1040.9,1796.6 1041.3,1796.6 1041.3,1822.4 1041.6,1822.4 1041.6,1815.0 1042.0,1815.0 1042.0,1814.6 1042.4,1814.6 1042.4,1809.3 1042.8,1809.3 1042.8,1818.3 1043.2,1818.3 1043.2,1803.6 1043.6,1803.6 1043.6,1843.6 1044.0,1843.6 1044.0,1838.7 1044.4,1838.7 1044.4,1831.0 1044.8,1831.0 1044.8,1842.3 1045.2,1842.3 1045.2,1845.5 1045.5,1845.5 1045.5,1875.7 1045.9,1875.7 1045.9,1866.0 1046.3,1866.0 1046.3,1851.1 1046.7,1851.1 1046.7,1865.1 1047.1,1865.1 1047.1,1876.2 1047.5,1876.2 1047.5,1862.1 1047.9,1862.1 1047.9,1867.6 1048.3,1867.6 1048.3,1866.7 1048.7,1866.7 1048.7,1944.4 1049.0,1944.4 1049.0,1846.1 1049.4,1846.1 1049.4,1884.8 1049.8,1884.8 1049.8,1883.3 1050.2,1883.3 1050.2,1950.2 1050.6,1950.2 1050.6,1868.2 1051.0,1868.2 1051.0,1898.5 1051.4,1898.5 1051.4,1892.6 1051.8,1892.6 1051.8,1885.3 1052.2,1885.3 1052.2,1918.3 1052.6,1918.3 1052.6,1881.1 1052.9,1881.1 1052.9,1924.7 1053.3,1924.7 1053.3,1947.4 1053.7,1947.4 1053.7,1919.5 1054.1,1919.5 1054.1,1923.7 1054.5,1923.7 1054.5,1912.3 1054.9,1912.3 1054.9,1916.8 1055.3,1916.8 1055.3,1929.3 1055.7,1929.3 1055.7,1921.5 1056.1,1921.5 1056.1,1963.2 1056.4,1963.2 1056.4,1941.3 1056.8,1941.3 1056.8,1878.4 1057.2,1878.4 1057.2,1937.5 1057.6,1937.5 1057.6,1928.7 1058.0,1928.7 1058.0,1952.9 1058.4,1952.9 1058.4,1944.4 1058.8,1944.4 1058.8,1940.0 1059.2,1940.0 1059.2,1938.4 1059.6,1938.4 1059.6,1931.3 1060.0,1931.3 1060.0,1973.7 1060.3,1973.7 1060.3,1906.0 1060.7,1906.0 1060.7,2037.1 1061.1,2037.1 1061.1,1949.5 1061.5,1949.5 1061.5,1969.8 1061.9,1969.8 1061.9,1989.5 1062.3,1989.5 1062.3,2006.5 1062.7,2006.5 1062.7,1990.8 1063.1,1990.8 1063.1,1989.3 1063.5,1989.3 1063.5,1979.0 1063.8,1979.0 1063.8,1910.1 1064.2,1910.1 1064.2,1983.6 1064.6,1983.6 1064.6,1993.8 1065.0,1993.8 1065.0,1972.5 1065.4,1972.5 1065.4,1945.8 1065.8,1945.8 1065.8,1978.4 1066.2,1978.4 1066.2,1986.9 1066.6,1986.9 1066.6,1984.1 1067.0,1984.1 1067.0,1975.5 1067.4,1975.5 1067.4,1976.5 1067.7,1976.5 1067.7,2007.8 1068.1,2007.8 1068.1,1949.0 1068.5,1949.0 1068.5,1976.3 1068.9,1976.3 1068.9,1982.9 1069.3,1982.9 1069.3,2000.2 1069.7,2000.2 1069.7,2023.2 1070.1,2023.2 1070.1,1990.5 1070.5,1990.5 1070.5,1992.7 1070.9,1992.7 1070.9,1990.0 1071.2,1990.0 1071.2,1995.1 1071.6,1995.1 1071.6,1989.9 1072.0,1989.9 1072.0,1993.5 1072.4,1993.5 1072.4,1972.5 1072.8,1972.5 1072.8,2042.7 1073.2,2042.7 1073.2,1981.5 1073.6,1981.5 1073.6,2001.8 1074.0,2001.8 1074.0,2024.7 1074.4,2024.7 1074.4,2006.0 1074.8,2006.0 1074.8,2038.3 1075.1,2038.3 1075.1,2017.6 1075.5,2017.6 1075.5,2010.8 1075.9,2010.8 1075.9,2024.7 1076.3,2024.7 1076.3,2015.5 1076.7,2015.5 1076.7,2026.4 1077.1,2026.4 1077.1,2003.6 1077.5,2003.6 1077.5,2043.2 1077.9,2043.2 1077.9,2037.3 1078.3,2037.3 1078.3,2033.9 1078.6,2033.9 1078.6,2012.6 1079.0,2012.6 1079.0,2020.6 1079.4,2020.6 1079.4,2036.0 1079.8,2036.0 1079.8,2003.3 1080.2,2003.3 1080.2,2051.8 1080.6,2051.8 1080.6,1986.8 1081.0,1986.8 1081.0,2018.2 1081.4,2018.2 1081.4,2065.1 1081.8,2065.1 1081.8,2016.8 1082.2,2016.8 1082.2,2005.7 1082.5,2005.7 1082.5,2022.6 1082.9,2022.6 1082.9,2036.6 1083.3,2036.6 1083.3,2034.3 1083.7,2034.3 1083.7,2040.4 1084.1,2040.4 1084.1,2040.7 1084.5,2040.7 1084.5,2026.4 1084.9,2026.4 1084.9,1970.6 1085.3,1970.6 1085.3,2056.0 1085.7,2056.0 1085.7,2020.0 1086.0,2020.0 1086.0,2025.7 1086.4,2025.7 1086.4,2025.3 1086.8,2025.3 1086.8,1970.9 1087.2,1970.9 1087.2,2036.6 1087.6,2036.6 1087.6,2030.4 1088.0,2030.4 1088.0,2038.3 1088.4,2038.3 1088.4,2052.4 1088.8,2052.4 1088.8,2063.5 1089.2,2063.5 1089.2,2065.1 1089.6,2065.1 1089.6,2024.2 1089.9,2024.2 1089.9,2052.1 1090.3,2052.1 1090.3,2003.7 1090.7,2003.7 1090.7,2048.9 1091.1,2048.9 1091.1,2054.8 1091.5,2054.8 1091.5,2101.6 1091.9,2101.6 1091.9,2045.9 1092.3,2045.9 1092.3,2029.0 1092.7,2029.0 1092.7,2027.8 1093.1,2027.8 1093.1,2012.9 1093.5,2012.9 1093.5,2039.6 1093.8,2039.6 1093.8,2044.3 1094.2,2044.3 1094.2,2039.5 1094.6,2039.5 1094.6,2046.7 1095.0,2046.7 1095.0,2068.5 1095.4,2068.5 1095.4,2047.9 1095.8,2047.9 1095.8,2024.4 1096.2,2024.4 1096.2,2057.1 1096.6,2057.1 1096.6,2016.9 1097.0,2016.9 1097.0,2037.6 1097.3,2037.6 1097.3,2024.3 1097.7,2024.3 1097.7,2038.7 1098.1,2038.7 1098.1,2027.0 1098.5,2027.0 1098.5,1997.8 1098.9,1997.8 1098.9,1995.2 1099.3,1995.2 1099.3,2043.5 1099.7,2043.5 1099.7,2020.8 1100.1,2020.8 1100.1,2044.2 1100.5,2044.2 1100.5,2018.3 1100.9,2018.3 1100.9,2060.4 1101.2,2060.4 1101.2,2021.8 1101.6,2021.8 1101.6,2070.6 1102.0,2070.6 1102.0,1999.5 1102.4,1999.5 1102.4,2032.1 1102.8,2032.1 1102.8,2020.9 1103.2,2020.9 1103.2,2018.1 1103.6,2018.1 1103.6,2026.2 1104.0,2026.2 1104.0,2007.5 1104.4,2007.5 1104.4,2041.4 1104.7,2041.4 1104.7,1988.9 1105.1,1988.9 1105.1,2006.7 1105.5,2006.7 1105.5,2055.2 1105.9,2055.2 1105.9,2043.4 1106.3,2043.4 1106.3,2038.8 1106.7,2038.8 1106.7,2017.4 1107.1,2017.4 1107.1,2048.8 1107.5,2048.8 1107.5,2041.8 1107.9,2041.8 1107.9,2038.9 1108.3,2038.9 1108.3,2031.4 1108.6,2031.4 1108.6,2004.8 1109.0,2004.8 1109.0,2018.4 1109.4,2018.4 1109.4,2027.2 1109.8,2027.2 1109.8,2018.9 1110.2,2018.9 1110.2,2018.2 1110.6,2018.2 1110.6,2009.6 1111.0,2009.6 1111.0,2017.5 1111.4,2017.5 1111.4,1990.4 1111.8,1990.4 1111.8,2005.4 1112.1,2005.4 1112.1,2066.9 1112.5,2066.9 1112.5,1979.7 1112.9,1979.7 1112.9,1996.0 1113.3,1996.0 1113.3,1996.2 1113.7,1996.2 1113.7,1957.9 1114.1,1957.9 1114.1,2060.2 1114.5,2060.2 1114.5,2043.5 1114.9,2043.5 1114.9,1955.8 1115.3,1955.8 1115.3,2006.5 1115.7,2006.5 1115.7,1990.1 1116.0,1990.1 1116.0,2010.7 1116.4,2010.7 1116.4,2000.3 1116.8,2000.3 1116.8,1979.4 1117.2,1979.4 1117.2,1988.7 1117.6,1988.7 1117.6,1996.1 1118.0,1996.1 1118.0,1981.6 1118.4,1981.6 1118.4,1998.7 1118.8,1998.7 1118.8,2012.3 1119.2,2012.3 1119.2,1985.5 1119.5,1985.5 1119.5,1990.3 1119.9,1990.3 1119.9,1992.7 1120.3,1992.7 1120.3,2006.7 1120.7,2006.7 1120.7,1973.2 1121.1,1973.2 1121.1,1993.4 1121.5,1993.4 1121.5,1985.4 1121.9,1985.4 1121.9,1973.5 1122.3,1973.5 1122.3,1964.8 1122.7,1964.8 1122.7,1934.4 1123.1,1934.4 1123.1,1947.4 1123.4,1947.4 1123.4,1990.2 1123.8,1990.2 1123.8,1957.8 1124.2,1957.8 1124.2,1967.3 1124.6,1967.3 1124.6,1960.8 1125.0,1960.8 1125.0,1915.5 1125.4,1915.5 1125.4,1947.7 1125.8,1947.7 1125.8,1958.0 1126.2,1958.0 1126.2,1967.1 1126.6,1967.1 1126.6,1927.4 1126.9,1927.4 1126.9,1940.3 1127.3,1940.3 1127.3,1948.3 1127.7,1948.3 1127.7,1907.6 1128.1,1907.6 1128.1,1944.6 1128.5,1944.6 1128.5,1928.7 1128.9,1928.7 1128.9,1909.1 1129.3,1909.1 1129.3,1909.9 1129.7,1909.9 1129.7,1910.2 1130.1,1910.2 1130.1,1950.0 1130.5,1950.0 1130.5,1920.7 1130.8,1920.7 1130.8,1917.0 1131.2,1917.0 1131.2,1897.1 1131.6,1897.1 1131.6,1875.4 1132.0,1875.4 1132.0,1914.9 1132.4,1914.9 1132.4,1871.8 1132.8,1871.8 1132.8,1873.6 1133.2,1873.6 1133.2,1848.5 1133.6,1848.5 1133.6,1876.8 1134.0,1876.8 1134.0,1856.0 1134.3,1856.0 1134.3,1854.7 1134.7,1854.7 1134.7,1842.3 1135.1,1842.3 1135.1,1826.1 1135.5,1826.1 1135.5,1819.8 1135.9,1819.8 1135.9,1830.8 1136.3,1830.8 1136.3,1833.8 1136.7,1833.8 1136.7,1852.0 1137.1,1852.0 1137.1,1835.7 1137.5,1835.7 1137.5,1808.4 1137.9,1808.4 1137.9,1830.5 1138.2,1830.5 1138.2,1815.4 1138.6,1815.4 1138.6,1825.1 1139.0,1825.1 1139.0,1807.1 1139.4,1807.1 1139.4,1828.9 1139.8,1828.9 1139.8,1802.2 1140.2,1802.2 1140.2,1802.7 1140.6,1802.7 1140.6,1801.1 1141.0,1801.1 1141.0,1801.4 1141.4,1801.4 1141.4,1816.0 1141.7,1816.0 1141.7,1801.8 1142.1,1801.8 1142.1,1834.9 1142.5,1834.9 1142.5,1796.2 1142.9,1796.2 1142.9,1787.9 1143.3,1787.9 1143.3,1782.9 1143.7,1782.9 1143.7,1758.8 1144.1,1758.8 1144.1,1803.9 1144.5,1803.9 1144.5,1773.2 1144.9,1773.2 1144.9,1805.9 1145.3,1805.9 1145.3,1761.6 1145.6,1761.6 1145.6,1802.9 1146.0,1802.9 1146.0,1781.9 1146.4,1781.9 1146.4,1815.7 1146.8,1815.7 1146.8,1755.1 1147.2,1755.1 1147.2,1773.2 1147.6,1773.2 1147.6,1790.7 1148.0,1790.7 1148.0,1770.3 1148.4,1770.3 1148.4,1764.7 1148.8,1764.7 1148.8,1770.1 1149.1,1770.1 1149.1,1786.3 1149.5,1786.3 1149.5,1763.3 1149.9,1763.3 1149.9,1701.2 1150.3,1701.2 1150.3,1738.4 1150.7,1738.4 1150.7,1776.6 1151.1,1776.6 1151.1,1748.1 1151.5,1748.1 1151.5,1775.3 1151.9,1775.3 1151.9,1746.1 1152.3,1746.1 1152.3,1773.3 1152.7,1773.3 1152.7,1751.5 1153.0,1751.5 1153.0,1776.1 1153.4,1776.1 1153.4,1777.8 1153.8,1777.8 1153.8,1753.6 1154.2,1753.6 1154.2,1740.8 1154.6,1740.8 1154.6,1739.6 1155.0,1739.6 1155.0,1773.3 1155.4,1773.3 1155.4,1779.6 1155.8,1779.6 1155.8,1745.3 1156.2,1745.3 1156.2,1752.5 1156.5,1752.5 1156.5,1768.7 1156.9,1768.7 1156.9,1735.6 1157.3,1735.6 1157.3,1776.4 1157.7,1776.4 1157.7,1758.1 1158.1,1758.1 1158.1,1760.5 1158.5,1760.5 1158.5,1764.1 1158.9,1764.1 1158.9,1791.2 1159.3,1791.2 1159.3,1761.4 1159.7,1761.4 1159.7,1753.2 1160.1,1753.2 1160.1,1819.6 1160.4,1819.6 1160.4,1748.1 1160.8,1748.1 1160.8,1740.8 1161.2,1740.8 1161.2,1721.6 1161.6,1721.6 1161.6,1759.7 1162.0,1759.7 1162.0,1747.1 1162.4,1747.1 1162.4,1766.8 1162.8,1766.8 1162.8,1743.1 1163.2,1743.1 1163.2,1748.2 1163.6,1748.2 1163.6,1748.2 1163.9,1748.2 1163.9,1756.3 1164.3,1756.3 1164.3,1717.9 1164.7,1717.9 1164.7,1710.7 1165.1,1710.7 1165.1,1734.7 1165.5,1734.7 1165.5,1761.8 1165.9,1761.8 1165.9,1710.8 1166.3,1710.8 1166.3,1780.2 1166.7,1780.2 1166.7,1736.4 1167.1,1736.4 1167.1,1739.4 1167.5,1739.4 1167.5,1725.6 1167.8,1725.6 1167.8,1724.7 1168.2,1724.7 1168.2,1735.7 1168.6,1735.7 1168.6,1730.0 1169.0,1730.0 1169.0,1755.7 1169.4,1755.7 1169.4,1711.6 1169.8,1711.6 1169.8,1765.5 1170.2,1765.5 1170.2,1725.5 1170.6,1725.5 1170.6,1751.7 1171.0,1751.7 1171.0,1707.3 1171.3,1707.3 1171.3,1757.6 1171.7,1757.6 1171.7,1753.2 1172.1,1753.2 1172.1,1760.9 1172.5,1760.9 1172.5,1737.2 1172.9,1737.2 1172.9,1775.1 1173.3,1775.1 1173.3,1770.3 1173.7,1770.3 1173.7,1737.3 1174.1,1737.3 1174.1,1710.8 1174.5,1710.8 1174.5,1765.2 1174.9,1765.2 1174.9,1728.2 1175.2,1728.2 1175.2,1726.6 1175.6,1726.6 1175.6,1761.8 1176.0,1761.8 1176.0,1718.2 1176.4,1718.2 1176.4,1750.9 1176.8,1750.9 1176.8,1711.0 1177.2,1711.0 1177.2,1747.6 1177.6,1747.6 1177.6,1717.1 1178.0,1717.1 1178.0,1732.4 1178.4,1732.4 1178.4,1737.5 1178.7,1737.5 1178.7,1725.7 1179.1,1725.7 1179.1,1696.7 1179.5,1696.7 1179.5,1722.5 1179.9,1722.5 1179.9,1747.3 1180.3,1747.3 1180.3,1741.8 1180.7,1741.8 1180.7,1719.0 1181.1,1719.0 1181.1,1741.1 1181.5,1741.1 1181.5,1767.5 1181.9,1767.5 1181.9,1719.0 1182.3,1719.0 1182.3,1824.1 1182.6,1824.1 1182.6,1748.6 1183.0,1748.6 1183.0,1723.0 1183.4,1723.0 1183.4,1708.4 1183.8,1708.4 1183.8,1740.5 1184.2,1740.5 1184.2,1749.7 1184.6,1749.7 1184.6,1788.3 1185.0,1788.3 1185.0,1756.6 1185.4,1756.6 1185.4,1701.6 1185.8,1701.6 1185.8,1733.6 1186.1,1733.6 1186.1,1767.8 1186.5,1767.8 1186.5,1701.8 1186.9,1701.8 1186.9,1754.2 1187.3,1754.2 1187.3,1746.5 1187.7,1746.5 1187.7,1733.5 1188.1,1733.5 1188.1,1742.9 1188.5,1742.9 1188.5,1730.9 1188.9,1730.9 1188.9,1744.3 1189.3,1744.3 1189.3,1734.9 1189.7,1734.9 1189.7,1774.4 1190.0,1774.4 1190.0,1711.1 1190.4,1711.1 1190.4,1737.5 1190.8,1737.5 1190.8,1758.4 1191.2,1758.4 1191.2,1733.0 1191.6,1733.0 1191.6,1750.4 1192.0,1750.4 1192.0,1697.5 1192.4,1697.5 1192.4,1714.8 1192.8,1714.8 1192.8,1732.7 1193.2,1732.7 1193.2,1766.2 1193.5,1766.2 1193.5,1727.1 1193.9,1727.1 1193.9,1738.2 1194.3,1738.2 1194.3,1727.0 1194.7,1727.0 1194.7,1708.8 1195.1,1708.8 1195.1,1711.0 1195.5,1711.0 1195.5,1743.6 1195.9,1743.6 1195.9,1720.1 1196.3,1720.1 1196.3,1739.5 1196.7,1739.5 1196.7,1710.0 1197.1,1710.0 1197.1,1720.9 1197.4,1720.9 1197.4,1705.6 1197.8,1705.6 1197.8,1697.1 1198.2,1697.1 1198.2,1734.3 1198.6,1734.3 1198.6,1715.7 1199.0,1715.7 1199.0,1731.6 1199.4,1731.6 1199.4,1710.9 1199.8,1710.9 1199.8,1748.2 1200.2,1748.2 1200.2,1718.6 1200.6,1718.6 1200.6,1754.8 1200.9,1754.8 1200.9,1731.2 1201.3,1731.2 1201.3,1707.2 1201.7,1707.2 1201.7,1733.5 1202.1,1733.5 1202.1,1720.8 1202.5,1720.8 1202.5,1722.6 1202.9,1722.6 1202.9,1716.6 1203.3,1716.6 1203.3,1719.7 1203.7,1719.7 1203.7,1684.2 1204.1,1684.2 1204.1,1730.5 1204.5,1730.5 1204.5,1740.4 1204.8,1740.4 1204.8,1728.1 1205.2,1728.1 1205.2,1729.2 1205.6,1729.2 1205.6,1762.2 1206.0,1762.2 1206.0,1762.9 1206.4,1762.9 1206.4,1716.2 1206.8,1716.2 1206.8,1759.2 1207.2,1759.2 1207.2,1716.0 1207.6,1716.0 1207.6,1706.3 1208.0,1706.3 1208.0,1722.7 1208.3,1722.7 1208.3,1757.6 1208.7,1757.6 1208.7,1725.4 1209.1,1725.4 1209.1,1771.6 1209.5,1771.6 1209.5,1720.8 1209.9,1720.8 1209.9,1717.6 1210.3,1717.6 1210.3,1704.2 1210.7,1704.2 1210.7,1757.3 1211.1,1757.3 1211.1,1735.2 1211.5,1735.2 1211.5,1732.2 1211.9,1732.2 1211.9,1718.8 1212.2,1718.8 1212.2,1706.5 1212.6,1706.5 1212.6,1712.7 1213.0,1712.7 1213.0,1746.4 1213.4,1746.4 1213.4,1708.5 1213.8,1708.5 1213.8,1832.5 1214.2,1832.5 1214.2,1742.6 1214.6,1742.6 1214.6,1702.7 1215.0,1702.7 1215.0,1708.0 1215.4,1708.0 1215.4,1744.8 1215.7,1744.8 1215.7,1728.7 1216.1,1728.7 1216.1,1715.6 1216.5,1715.6 1216.5,1732.0 1216.9,1732.0 1216.9,1701.1 1217.3,1701.1 1217.3,1734.2 1217.7,1734.2 1217.7,1718.7 1218.1,1718.7 1218.1,1730.1 1218.5,1730.1 1218.5,1718.3 1218.9,1718.3 1218.9,1723.3 1219.3,1723.3 1219.3,1718.3 1219.6,1718.3 1219.6,1733.9 1220.0,1733.9 1220.0,1710.0 1220.4,1710.0 1220.4,1721.6 1220.8,1721.6 1220.8,1746.0 1221.2,1746.0 1221.2,1722.9 1221.6,1722.9 1221.6,1707.1 1222.0,1707.1 1222.0,1699.7 1222.4,1699.7 1222.4,1724.6 1222.8,1724.6 1222.8,1724.4 1223.1,1724.4 1223.1,1614.6 1223.5,1614.6 1223.5,1720.2 1223.9,1720.2 1223.9,1708.2 1224.3,1708.2 1224.3,1708.8 1224.7,1708.8 1224.7,1740.6 1225.1,1740.6 1225.1,1713.9 1225.5,1713.9 1225.5,1701.5 1225.9,1701.5 1225.9,1712.3 1226.3,1712.3 1226.3,1731.2 1226.7,1731.2 1226.7,1719.2 1227.0,1719.2 1227.0,1693.0 1227.4,1693.0 1227.4,1777.4 1227.8,1777.4 1227.8,1711.1 1228.2,1711.1 1228.2,1724.1 1228.6,1724.1 1228.6,1697.8 1229.0,1697.8 1229.0,1713.2 1229.4,1713.2 1229.4,1720.0 1229.8,1720.0 1229.8,1671.8 1230.2,1671.8 1230.2,1730.4 1230.5,1730.4 1230.5,1724.2 1230.9,1724.2 1230.9,1714.2 1231.3,1714.2 1231.3,1699.7 1231.7,1699.7 1231.7,1717.1 1232.1,1717.1 1232.1,1702.0 1232.5,1702.0 1232.5,1716.9 1232.9,1716.9 1232.9,1709.7 1233.3,1709.7 1233.3,1712.3 1233.7,1712.3 1233.7,1707.2 1234.1,1707.2 1234.1,1697.4 1234.4,1697.4 1234.4,1672.9 1234.8,1672.9 1234.8,1718.8 1235.2,1718.8 1235.2,1702.5 1235.6,1702.5 1235.6,1699.2 1236.0,1699.2 1236.0,1702.5 1236.4,1702.5 1236.4,1715.1 1236.8,1715.1 1236.8,1693.8 1237.2,1693.8 1237.2,1725.2 1237.6,1725.2 1237.6,1682.0 1237.9,1682.0 1237.9,1662.1 1238.3,1662.1 1238.3,1709.6 1238.7,1709.6 1238.7,1692.3 1239.1,1692.3 1239.1,1706.9 1239.5,1706.9 1239.5,1706.3 1239.9,1706.3 1239.9,1704.5 1240.3,1704.5 1240.3,1702.3 1240.7,1702.3 1240.7,1693.5 1241.1,1693.5 1241.1,1673.0 1241.5,1673.0 1241.5,1714.8 1241.8,1714.8 1241.8,1698.9 1242.2,1698.9 1242.2,1680.4 1242.6,1680.4 1242.6,1722.1 1243.0,1722.1 1243.0,1701.4 1243.4,1701.4 1243.4,1692.9 1243.8,1692.9 1243.8,1689.7 1244.2,1689.7 1244.2,1728.2 1244.6,1728.2 1244.6,1737.0 1245.0,1737.0 1245.0,1734.4 1245.3,1734.4 1245.3,1698.5 1245.7,1698.5 1245.7,1649.9 1246.1,1649.9 1246.1,1711.5 1246.5,1711.5 1246.5,1716.4 1246.9,1716.4 1246.9,1685.9 1247.3,1685.9 1247.3,1727.9 1247.7,1727.9 1247.7,1676.2 1248.1,1676.2 1248.1,1745.0 1248.5,1745.0 1248.5,1689.0 1248.9,1689.0 1248.9,1733.6 1249.2,1733.6 1249.2,1720.3 1249.6,1720.3 1249.6,1711.4 1250.0,1711.4 1250.0,1705.3 1250.4,1705.3 1250.4,1706.4 1250.8,1706.4 1250.8,1718.3 1251.2,1718.3 1251.2,1724.3 1251.6,1724.3 1251.6,1710.8 1252.0,1710.8 1252.0,1707.3 1252.4,1707.3 1252.4,1710.7 1252.7,1710.7 1252.7,1700.6 1253.1,1700.6 1253.1,1696.2 1253.5,1696.2 1253.5,1698.6 1253.9,1698.6 1253.9,1682.9 1254.3,1682.9 1254.3,1699.6 1254.7,1699.6 1254.7,1713.0 1255.1,1713.0 1255.1,1702.4 1255.5,1702.4 1255.5,1667.5 1255.9,1667.5 1255.9,1702.8 1256.3,1702.8 1256.3,1690.9 1256.6,1690.9 1256.6,1702.4 1257.0,1702.4 1257.0,1718.3 1257.4,1718.3 1257.4,1701.3 1257.8,1701.3 1257.8,1682.2 1258.2,1682.2 1258.2,1694.3 1258.6,1694.3 1258.6,1677.5 1259.0,1677.5 1259.0,1672.3 1259.4,1672.3 1259.4,1716.0 1259.8,1716.0 1259.8,1660.9 1260.1,1660.9 1260.1,1692.0 1260.5,1692.0 1260.5,1681.8 1260.9,1681.8 1260.9,1716.7 1261.3,1716.7 1261.3,1708.2 1261.7,1708.2 1261.7,1708.8 1262.1,1708.8 1262.1,1680.7 1262.5,1680.7 1262.5,1691.6 1262.9,1691.6 1262.9,1683.3 1263.3,1683.3 1263.3,1692.9 1263.7,1692.9 1263.7,1704.4 1264.0,1704.4 1264.0,1703.6 1264.4,1703.6 1264.4,1689.7 1264.8,1689.7 1264.8,1708.0 1265.2,1708.0 1265.2,1713.9 1265.6,1713.9 1265.6,1715.3 1266.0,1715.3 1266.0,1658.3 1266.4,1658.3 1266.4,1694.0 1266.8,1694.0 1266.8,1692.6 1267.2,1692.6 1267.2,1712.2 1267.5,1712.2 1267.5,1695.0 1267.9,1695.0 1267.9,1690.5 1268.3,1690.5 1268.3,1707.3 1268.7,1707.3 1268.7,1695.7 1269.1,1695.7 1269.1,1711.3 1269.5,1711.3 1269.5,1721.6 1269.9,1721.6 1269.9,1749.0 1270.3,1749.0 1270.3,1685.7 1270.7,1685.7 1270.7,1665.1 1271.1,1665.1 1271.1,1678.0 1271.4,1678.0 1271.4,1784.4 1271.8,1784.4 1271.8,1687.0 1272.2,1687.0 1272.2,1679.5 1272.6,1679.5 1272.6,1685.4 1273.0,1685.4 1273.0,1696.9 1273.4,1696.9 1273.4,1653.3 1273.8,1653.3 1273.8,1736.3 1274.2,1736.3 1274.2,1702.1 1274.6,1702.1 1274.6,1694.8 1274.9,1694.8 1274.9,1719.1 1275.3,1719.1 1275.3,1710.4 1275.7,1710.4 1275.7,1695.1 1276.1,1695.1 1276.1,1682.9 1276.5,1682.9 1276.5,1701.2 1276.9,1701.2 1276.9,1673.1 1277.3,1673.1 1277.3,1712.6 1277.7,1712.6 1277.7,1688.6 1278.1,1688.6 1278.1,1651.2 1278.5,1651.2 1278.5,1711.6 1278.8,1711.6 1278.8,1680.7 1279.2,1680.7 1279.2,1672.7 1279.6,1672.7 1279.6,1705.4 1280.0,1705.4 1280.0,1701.7 1280.4,1701.7 1280.4,1640.3 1280.8,1640.3 1280.8,1695.0 1281.2,1695.0 1281.2,1731.4 1281.6,1731.4 1281.6,1720.7 1282.0,1720.7 1282.0,1680.1 1282.3,1680.1 1282.3,1713.6 1282.7,1713.6 1282.7,1694.9 1283.1,1694.9 1283.1,1709.0 1283.5,1709.0 1283.5,1769.8 1283.9,1769.8 1283.9,1665.4 1284.3,1665.4 1284.3,1703.6 1284.7,1703.6 1284.7,1699.2 1285.1,1699.2 1285.1,1689.8 1285.5,1689.8 1285.5,1697.8 1285.9,1697.8 1285.9,1687.2 1286.2,1687.2 1286.2,1735.2 1286.6,1735.2 1286.6,1692.6 1287.0,1692.6 1287.0,1688.2 1287.4,1688.2 1287.4,1738.7 1287.8,1738.7 1287.8,1691.5 1288.2,1691.5 1288.2,1714.3 1288.6,1714.3 1288.6,1689.9 1289.0,1689.9 1289.0,1683.8 1289.4,1683.8 1289.4,1659.8 1289.7,1659.8 1289.7,1695.1 1290.1,1695.1 1290.1,1701.6 1290.5,1701.6 1290.5,1675.0 1290.9,1675.0 1290.9,1705.5 1291.3,1705.5 1291.3,1691.6 1291.7,1691.6 1291.7,1675.6 1292.1,1675.6 1292.1,1633.8 1292.5,1633.8 1292.5,1709.8 1292.9,1709.8 1292.9,1687.1 1293.3,1687.1 1293.3,1684.4 1293.6,1684.4 1293.6,1705.1 1294.0,1705.1 1294.0,1674.9 1294.4,1674.9 1294.4,1686.5 1294.8,1686.5 1294.8,1690.3 1295.2,1690.3 1295.2,1691.7 1295.6,1691.7 1295.6,1707.5 1296.0,1707.5 1296.0,1707.8 1296.4,1707.8 1296.4,1701.5 1296.8,1701.5 1296.8,1690.2 1297.1,1690.2 1297.1,1670.5 1297.5,1670.5 1297.5,1676.0 1297.9,1676.0 1297.9,1663.0 1298.3,1663.0 1298.3,1684.8 1298.7,1684.8 1298.7,1697.0 1299.1,1697.0 1299.1,1692.5 1299.5,1692.5 1299.5,1666.2 1299.9,1666.2 1299.9,1699.8 1300.3,1699.8 1300.3,1663.6 1300.7,1663.6 1300.7,1684.7 1301.0,1684.7 1301.0,1717.7 1301.4,1717.7 1301.4,1690.0 1301.8,1690.0 1301.8,1652.5 1302.2,1652.5 1302.2,1700.3 1302.6,1700.3 1302.6,1737.1 1303.0,1737.1 1303.0,1706.5 1303.4,1706.5 1303.4,1714.5 1303.8,1714.5 1303.8,1691.7 1304.2,1691.7 1304.2,1700.2 1304.5,1700.2 1304.5,1736.2 1304.9,1736.2 1304.9,1704.0 1305.3,1704.0 1305.3,1702.9 1305.7,1702.9 1305.7,1696.2 1306.1,1696.2 1306.1,1706.4 1306.5,1706.4 1306.5,1693.9 1306.9,1693.9 1306.9,1716.7 1307.3,1716.7 1307.3,1675.8 1307.7,1675.8 1307.7,1665.5 1308.1,1665.5 1308.1,1728.2 1308.4,1728.2 1308.4,1700.6 1308.8,1700.6 1308.8,1699.4 1309.2,1699.4 1309.2,1722.4 1309.6,1722.4 1309.6,1718.9 1310.0,1718.9 1310.0,1684.6 1310.4,1684.6 1310.4,1708.9 1310.8,1708.9 1310.8,1677.6 1311.2,1677.6 1311.2,1687.5 1311.6,1687.5 1311.6,1650.7 1311.9,1650.7 1311.9,1695.2 1312.3,1695.2 1312.3,1734.2 1312.7,1734.2 1312.7,1704.3 1313.1,1704.3 1313.1,1662.1 1313.5,1662.1 1313.5,1637.8 1313.9,1637.8 1313.9,1719.9 1314.3,1719.9 1314.3,1731.5 1314.7,1731.5 1314.7,1678.1 1315.1,1678.1 1315.1,1701.2 1315.5,1701.2 1315.5,1686.2 1315.8,1686.2 1315.8,1682.0 1316.2,1682.0 1316.2,1701.5 1316.6,1701.5 1316.6,1715.3 1317.0,1715.3 1317.0,1697.8 1317.4,1697.8 1317.4,1714.8 1317.8,1714.8 1317.8,1700.8 1318.2,1700.8 1318.2,1702.4 1318.6,1702.4 1318.6,1703.9 1319.0,1703.9 1319.0,1679.3 1319.3,1679.3 1319.3,1683.2 1319.7,1683.2 1319.7,1685.0 1320.1,1685.0 1320.1,1662.3 1320.5,1662.3 1320.5,1692.1 1320.9,1692.1 1320.9,1692.8 1321.3,1692.8 1321.3,1683.0 1321.7,1683.0 1321.7,1731.0 1322.1,1731.0 1322.1,1711.5 1322.5,1711.5 1322.5,1707.1 1322.9,1707.1 1322.9,1675.6 1323.2,1675.6 1323.2,1679.2 1323.6,1679.2 1323.6,1712.0 1324.0,1712.0 1324.0,1653.6 1324.4,1653.6 1324.4,1710.1 1324.8,1710.1 1324.8,1705.4 1325.2,1705.4 1325.2,1702.7 1325.6,1702.7 1325.6,1701.6 1326.0,1701.6 1326.0,1700.7 1326.4,1700.7 1326.4,1697.3 1326.7,1697.3 1326.7,1699.8 1327.1,1699.8 1327.1,1676.5 1327.5,1676.5 1327.5,1683.0 1327.9,1683.0 1327.9,1704.5 1328.3,1704.5 1328.3,1697.2 1328.7,1697.2 1328.7,1686.7 1329.1,1686.7 1329.1,1679.0 1329.5,1679.0 1329.5,1717.1 1329.9,1717.1 1329.9,1707.1 1330.3,1707.1 1330.3,1712.5 1330.6,1712.5 1330.6,1661.1 1331.0,1661.1 1331.0,1682.8 1331.4,1682.8 1331.4,1694.9 1331.8,1694.9 1331.8,1704.5 1332.2,1704.5 1332.2,1667.9 1332.6,1667.9 1332.6,1696.2 1333.0,1696.2 1333.0,1662.2 1333.4,1662.2 1333.4,1681.6 1333.8,1681.6 1333.8,1707.5 1334.1,1707.5 1334.1,1700.1 1334.5,1700.1 1334.5,1674.6 1334.9,1674.6 1334.9,1687.2 1335.3,1687.2 1335.3,1696.6 1335.7,1696.6 1335.7,1699.3 1336.1,1699.3 1336.1,1705.9 1336.5,1705.9 1336.5,1704.2 1336.9,1704.2 1336.9,1677.3 1337.3,1677.3 1337.3,1706.3 1337.7,1706.3 1337.7,1688.8 1338.0,1688.8 1338.0,1715.9 1338.4,1715.9 1338.4,1716.9 1338.8,1716.9 1338.8,1699.6 1339.2,1699.6 1339.2,1695.7 1339.6,1695.7 1339.6,1714.9 1340.0,1714.9 1340.0,1700.3 1340.4,1700.3 1340.4,1691.5 1340.8,1691.5 1340.8,1718.2 1341.2,1718.2 1341.2,1699.1 1341.5,1699.1 1341.5,1682.1 1341.9,1682.1 1341.9,1705.1 1342.3,1705.1 1342.3,1721.9 1342.7,1721.9 1342.7,1672.6 1343.1,1672.6 1343.1,1696.1 1343.5,1696.1 1343.5,1690.3 1343.9,1690.3 1343.9,1692.8 1344.3,1692.8 1344.3,1723.1 1344.7,1723.1 1344.7,1693.0 1345.1,1693.0 1345.1,1704.8 1345.4,1704.8 1345.4,1699.3 1345.8,1699.3 1345.8,1714.6 1346.2,1714.6 1346.2,1743.0 1346.6,1743.0 1346.6,1682.3 1347.0,1682.3 1347.0,1673.2 1347.4,1673.2 1347.4,1704.0 1347.8,1704.0 1347.8,1681.1 1348.2,1681.1 1348.2,1695.0 1348.6,1695.0 1348.6,1707.8 1348.9,1707.8 1348.9,1706.7 1349.3,1706.7 1349.3,1704.8 1349.7,1704.8 1349.7,1699.9 1350.1,1699.9 1350.1,1696.4 1350.5,1696.4 1350.5,1705.3 1350.9,1705.3 1350.9,1693.2 1351.3,1693.2 1351.3,1707.8 1351.7,1707.8 1351.7,1734.3 1352.1,1734.3 1352.1,1703.9 1352.5,1703.9 1352.5,1707.9 1352.8,1707.9 1352.8,1651.6 1353.2,1651.6 1353.2,1709.3 1353.6,1709.3 1353.6,1691.1 1354.0,1691.1 1354.0,1688.7 1354.4,1688.7 1354.4,1691.5 1354.8,1691.5 1354.8,1664.4 1355.2,1664.4 1355.2,1678.7 1355.6,1678.7 1355.6,1701.1 1356.0,1701.1 1356.0,1728.3 1356.3,1728.3 1356.3,1700.7 1356.7,1700.7 1356.7,1677.7 1357.1,1677.7 1357.1,1714.7 1357.5,1714.7 1357.5,1680.8 1357.9,1680.8 1357.9,1709.1 1358.3,1709.1 1358.3,1678.8 1358.7,1678.8 1358.7,1714.4 1359.1,1714.4 1359.1,1685.8 1359.5,1685.8 1359.5,1713.3 1359.9,1713.3 1359.9,1705.2 1360.2,1705.2 1360.2,1697.4 1360.6,1697.4 1360.6,1686.1 1361.0,1686.1 1361.0,1684.9 1361.4,1684.9 1361.4,1701.5 1361.8,1701.5 1361.8,1663.4 1362.2,1663.4 1362.2,1716.7" fill="none" stroke="#7f9e72" stroke-width="1.8" stroke-linejoin="round" />
<line x1="1050.8" y1="1562.9" x2="1050.8" y2="2151.3" stroke="#000" stroke-width="1.8" stroke-dasharray="6.4,5.3"/>
<line x1="1128.7" y1="1562.9" x2="1128.7" y2="2151.3" stroke="#000" stroke-width="1.8" stroke-dasharray="6.4,5.3"/>
<text x="1089.8" y="1723.8" font-size="7.6" class="ib" text-anchor="middle" textLength="75.8" lengthAdjust="spacingAndGlyphs">insulation boundary</text>
<line x1="790.1" y1="1562" x2="790.1" y2="2151.3" stroke="#000" stroke-width="1.5" />
<line x1="785.6" y1="2151.3" x2="790.1" y2="2151.3" stroke="#000" stroke-width="1.1" />
<text transform="translate(782.6,2158.3) scale(0.908,1)" font-size="18.4" class="tk" text-anchor="end" >0.425</text>
<line x1="785.6" y1="2015.3" x2="790.1" y2="2015.3" stroke="#000" stroke-width="1.1" />
<text transform="translate(782.6,2022.3) scale(0.908,1)" font-size="18.4" class="tk" text-anchor="end" >0.450</text>
<line x1="785.6" y1="1879.3" x2="790.1" y2="1879.3" stroke="#000" stroke-width="1.1" />
<text transform="translate(782.6,1886.3) scale(0.908,1)" font-size="18.4" class="tk" text-anchor="end" >0.475</text>
<line x1="785.6" y1="1743.2" x2="790.1" y2="1743.2" stroke="#000" stroke-width="1.1" />
<text transform="translate(782.6,1750.2) scale(0.908,1)" font-size="18.4" class="tk" text-anchor="end" >0.500</text>
<line x1="785.6" y1="1607.2" x2="790.1" y2="1607.2" stroke="#000" stroke-width="1.1" />
<text transform="translate(782.6,1614.2) scale(0.908,1)" font-size="18.4" class="tk" text-anchor="end" >0.525</text>
<line x1="790.1" y1="2151.3" x2="1389.7" y2="2151.3" stroke="#000" stroke-width="1.5" />
<line x1="817.3" y1="2151.3" x2="817.3" y2="2155.8" stroke="#000" stroke-width="1.1" />
<text transform="translate(817.3,2171.3) scale(0.908,1)" font-size="18.4" class="tk" text-anchor="middle" >-35</text>
<line x1="856.2" y1="2151.3" x2="856.2" y2="2155.8" stroke="#000" stroke-width="1.1" />
<text transform="translate(856.2,2171.3) scale(0.908,1)" font-size="18.4" class="tk" text-anchor="middle" >-30</text>
<line x1="895.1" y1="2151.3" x2="895.1" y2="2155.8" stroke="#000" stroke-width="1.1" />
<text transform="translate(895.1,2171.3) scale(0.908,1)" font-size="18.4" class="tk" text-anchor="middle" >-25</text>
<line x1="934.1" y1="2151.3" x2="934.1" y2="2155.8" stroke="#000" stroke-width="1.1" />
<text transform="translate(934.1,2171.3) scale(0.908,1)" font-size="18.4" class="tk" text-anchor="middle" >-20</text>
<line x1="973" y1="2151.3" x2="973" y2="2155.8" stroke="#000" stroke-width="1.1" />
<text transform="translate(973,2171.3) scale(0.908,1)" font-size="18.4" class="tk" text-anchor="middle" >-15</text>
<line x1="1011.9" y1="2151.3" x2="1011.9" y2="2155.8" stroke="#000" stroke-width="1.1" />
<text transform="translate(1011.9,2171.3) scale(0.908,1)" font-size="18.4" class="tk" text-anchor="middle" >-10</text>
<line x1="1050.8" y1="2151.3" x2="1050.8" y2="2155.8" stroke="#000" stroke-width="1.1" />
<text transform="translate(1050.8,2171.3) scale(0.908,1)" font-size="18.4" class="tk" text-anchor="middle" >-5</text>
<line x1="1089.8" y1="2151.3" x2="1089.8" y2="2155.8" stroke="#000" stroke-width="1.1" />
<text transform="translate(1089.8,2171.3) scale(0.908,1)" font-size="18.4" class="tk" text-anchor="middle" >0</text>
<line x1="1128.7" y1="2151.3" x2="1128.7" y2="2155.8" stroke="#000" stroke-width="1.1" />
<text transform="translate(1128.7,2171.3) scale(0.908,1)" font-size="18.4" class="tk" text-anchor="middle" >5</text>
<line x1="1167.6" y1="2151.3" x2="1167.6" y2="2155.8" stroke="#000" stroke-width="1.1" />
<text transform="translate(1167.6,2171.3) scale(0.908,1)" font-size="18.4" class="tk" text-anchor="middle" >10</text>
<line x1="1206.5" y1="2151.3" x2="1206.5" y2="2155.8" stroke="#000" stroke-width="1.1" />
<text transform="translate(1206.5,2171.3) scale(0.908,1)" font-size="18.4" class="tk" text-anchor="middle" >15</text>
<line x1="1245.4" y1="2151.3" x2="1245.4" y2="2155.8" stroke="#000" stroke-width="1.1" />
<text transform="translate(1245.4,2171.3) scale(0.908,1)" font-size="18.4" class="tk" text-anchor="middle" >20</text>
<line x1="1284.3" y1="2151.3" x2="1284.3" y2="2155.8" stroke="#000" stroke-width="1.1" />
<text transform="translate(1284.3,2171.3) scale(0.908,1)" font-size="18.4" class="tk" text-anchor="middle" >25</text>
<line x1="1323.3" y1="2151.3" x2="1323.3" y2="2155.8" stroke="#000" stroke-width="1.1" />
<text transform="translate(1323.3,2171.3) scale(0.908,1)" font-size="18.4" class="tk" text-anchor="middle" >30</text>
<line x1="1362.2" y1="2151.3" x2="1362.2" y2="2155.8" stroke="#000" stroke-width="1.1" />
<text transform="translate(1362.2,2171.3) scale(0.908,1)" font-size="18.4" class="tk" text-anchor="middle" >35</text>
<text x="1090.2" y="1511.1" font-size="28.8" class="tt" text-anchor="middle" >GC content at domain boundary regions</text>
<text transform="translate(1090.2,1545.5) scale(1.03,1)" font-size="28.8" class="tt" text-anchor="middle" >(Contigs Smic 1.1N)</text>
<text transform="translate(1089.9,2193.3) scale(0.895,1)" font-size="22" class="lb" text-anchor="middle" >Position relative to domain boundary (kb)</text>
<text x="0" y="0" font-size="23" class="lb" text-anchor="middle" transform="translate(734.5,1856.6) rotate(-90) scale(0.872,1)">GC content</text>
<rect x="1515.9" y="1693.9" width="132.2" height="457.4" fill="#7f9e72" stroke="#000" stroke-width="1.8"/>
<rect x="1662.7" y="1656.4" width="132.5" height="494.9" fill="#7f9e72" stroke="#000" stroke-width="1.8"/>
<rect x="1810.9" y="1866.7" width="131.9" height="284.6" fill="#7f9e72" stroke="#000" stroke-width="1.8"/>
<rect x="1957.3" y="1992.8" width="132.7" height="158.5" fill="#7f9e72" stroke="#000" stroke-width="1.8"/>
<line x1="1494" y1="1563.9" x2="1494" y2="2151.3" stroke="#000" stroke-width="1.5" />
<line x1="1489.5" y1="2126.1" x2="1494" y2="2126.1" stroke="#000" stroke-width="1.1" />
<text transform="translate(1486.5,2132.5) scale(0.955,1)" font-size="22.5" class="tk" text-anchor="end" >44</text>
<line x1="1489.5" y1="1992.5" x2="1494" y2="1992.5" stroke="#000" stroke-width="1.1" />
<text transform="translate(1486.5,1998.9) scale(0.955,1)" font-size="22.5" class="tk" text-anchor="end" >46</text>
<line x1="1489.5" y1="1859" x2="1494" y2="1859" stroke="#000" stroke-width="1.1" />
<text transform="translate(1486.5,1865.4) scale(0.955,1)" font-size="22.5" class="tk" text-anchor="end" >48</text>
<line x1="1489.5" y1="1725.4" x2="1494" y2="1725.4" stroke="#000" stroke-width="1.1" />
<text transform="translate(1486.5,1731.8) scale(0.955,1)" font-size="22.5" class="tk" text-anchor="end" >50</text>
<line x1="1489.5" y1="1591.8" x2="1494" y2="1591.8" stroke="#000" stroke-width="1.1" />
<text transform="translate(1486.5,1598.2) scale(0.955,1)" font-size="22.5" class="tk" text-anchor="end" >52</text>
<line x1="1494" y1="2151.3" x2="2114" y2="2151.3" stroke="#000" stroke-width="1.5" />
<line x1="1582" y1="2151.3" x2="1582" y2="2155.8" stroke="#000" stroke-width="1.1" />
<text transform="translate(1582,2173.9) scale(0.933,1)" font-size="21" class="tk" text-anchor="middle" >Chromosomes</text>
<line x1="1729" y1="2151.3" x2="1729" y2="2155.8" stroke="#000" stroke-width="1.1" />
<text transform="translate(1729,2173.9) scale(0.933,1)" font-size="21" class="tk" text-anchor="middle" >Genes</text>
<line x1="1876.8" y1="2151.3" x2="1876.8" y2="2155.8" stroke="#000" stroke-width="1.1" />
<text transform="translate(1876.8,2173.9) scale(0.933,1)" font-size="21" class="tk" text-anchor="middle" >LINEs</text>
<line x1="2023.7" y1="2151.3" x2="2023.7" y2="2155.8" stroke="#000" stroke-width="1.1" />
<text transform="translate(2023.7,2173.9) scale(0.933,1)" font-size="21" class="tk" text-anchor="middle" >All repeats</text>
<text x="1803.3" y="1513.1" font-size="28.8" class="tt" text-anchor="middle" >GC content composition</text>
<text x="0" y="0" font-size="23" class="lb" text-anchor="middle" transform="translate(1455.7,1857.6) rotate(-90) scale(0.872,1)">Percentage</text>
</svg>
</body></html>
